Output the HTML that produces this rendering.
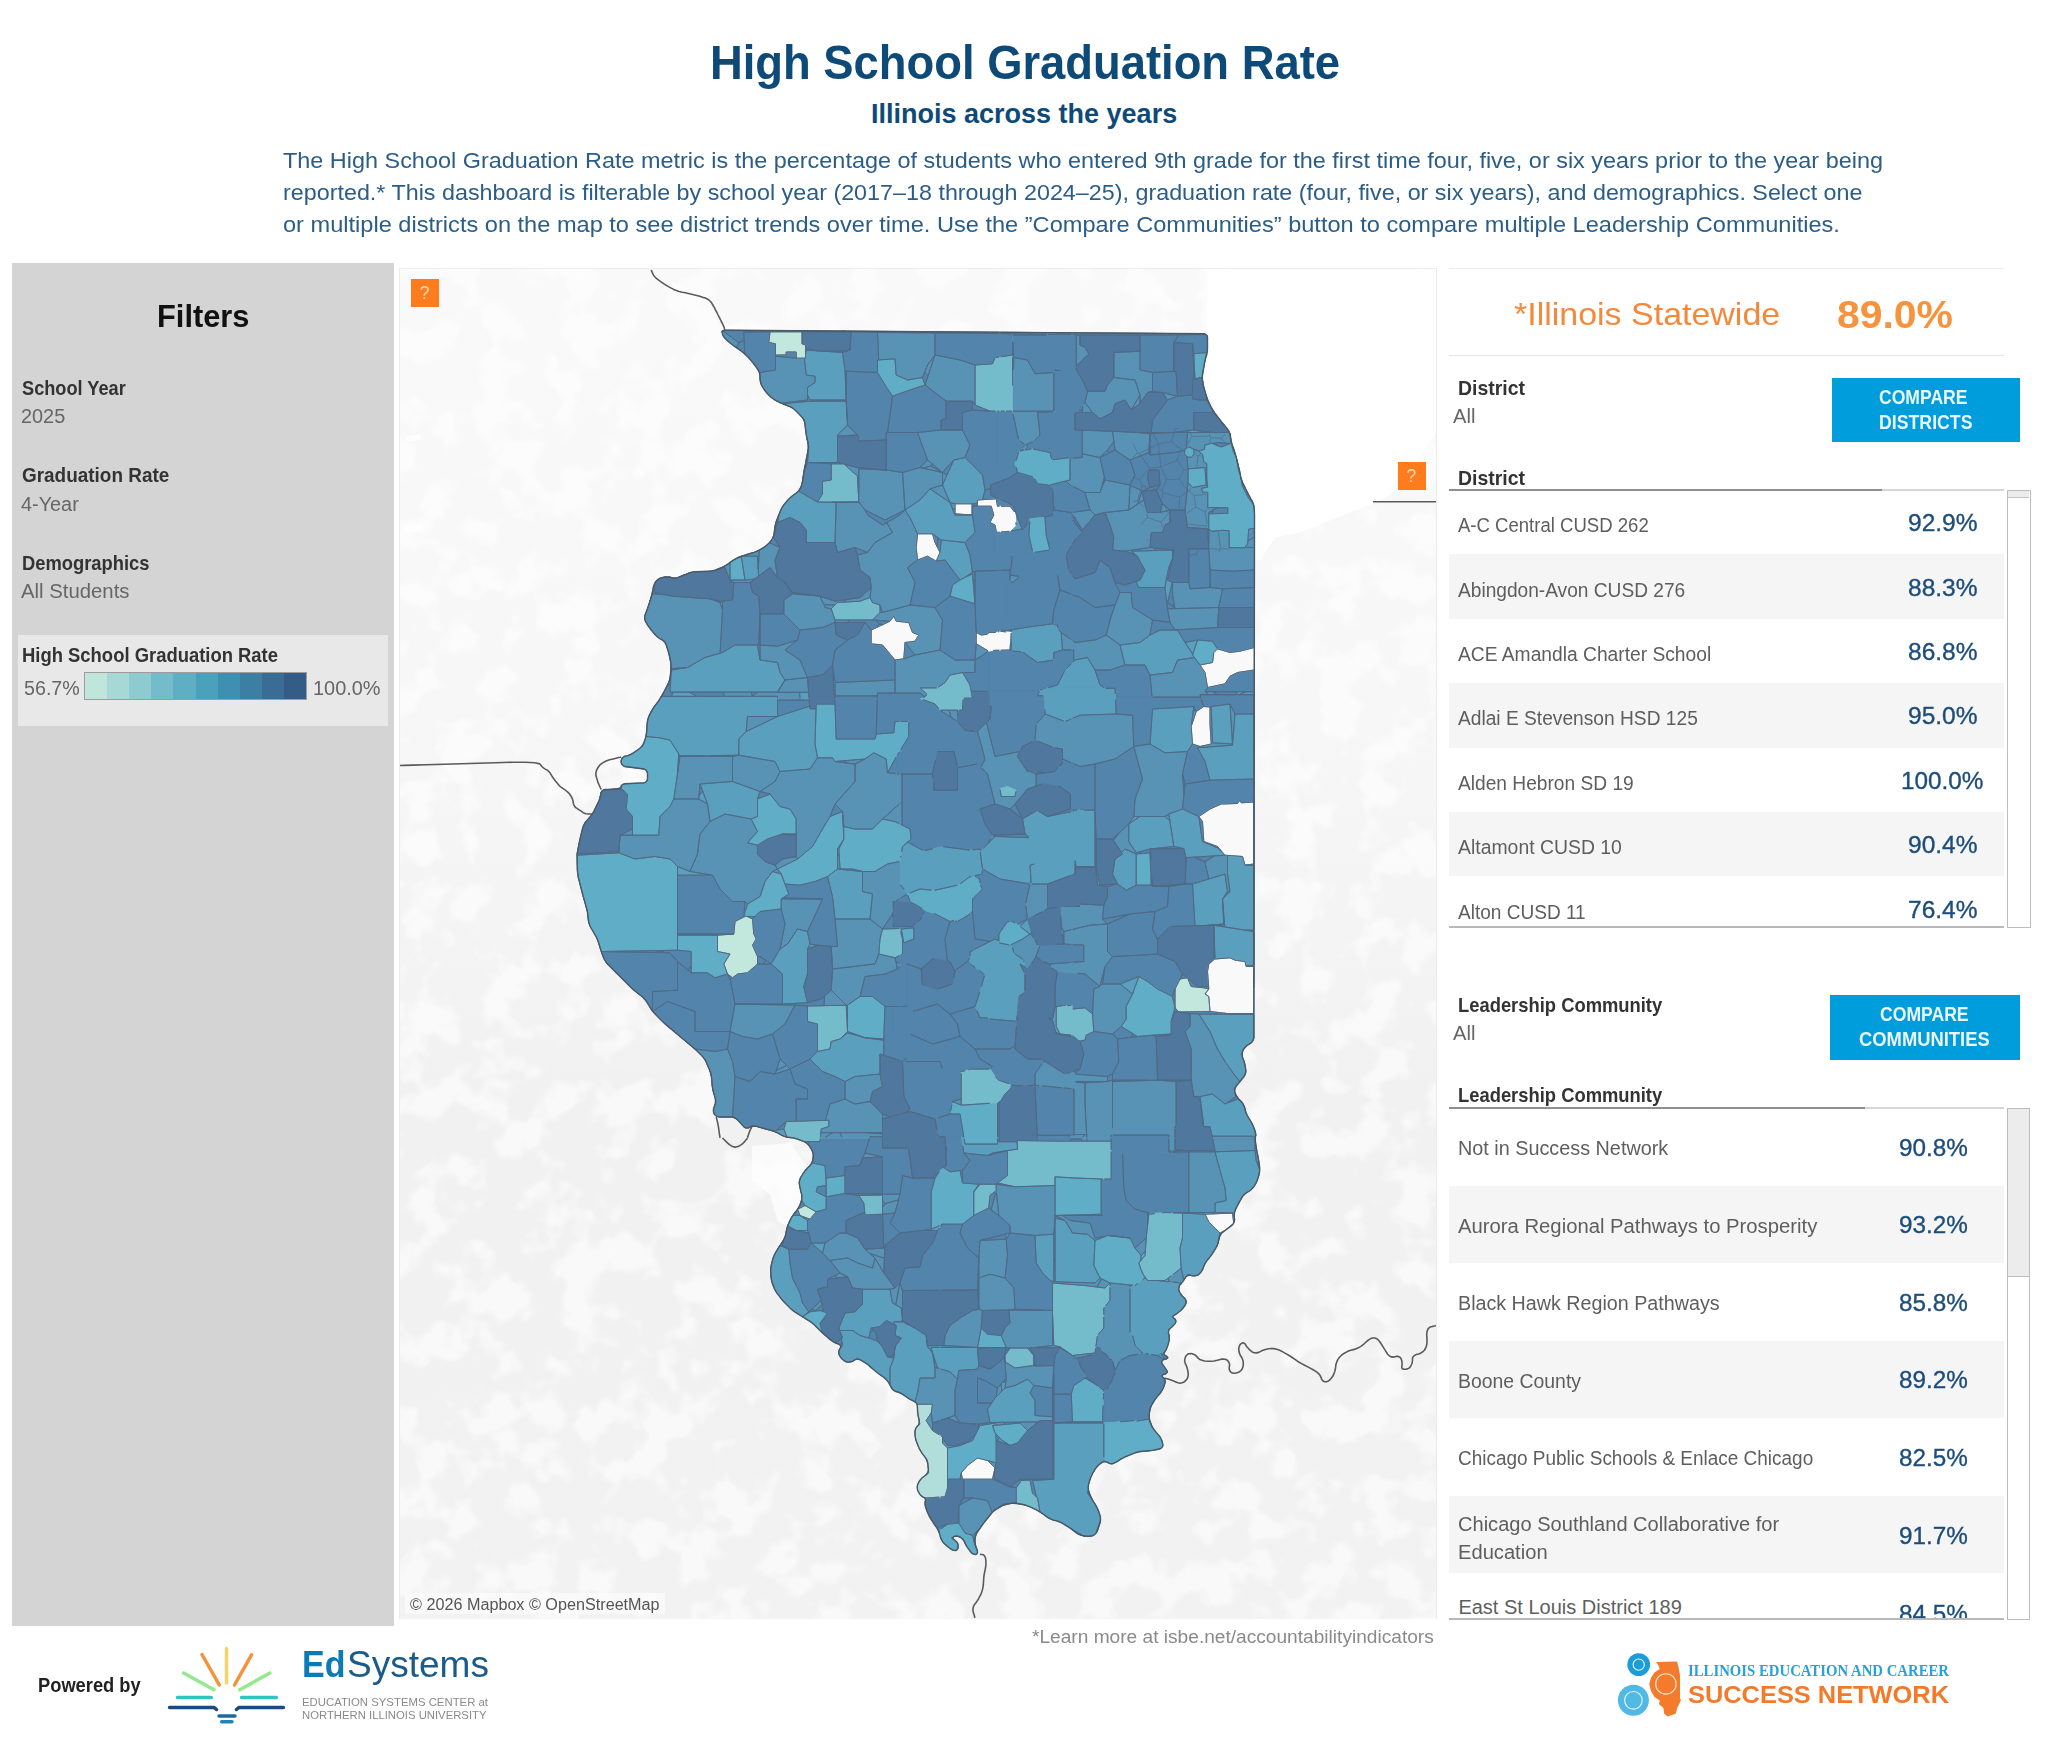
<!DOCTYPE html>
<html><head><meta charset="utf-8"><title>High School Graduation Rate</title>
<style>
html,body{margin:0;padding:0;background:#fff}
body{width:2048px;height:1755px;position:relative;overflow:hidden;font-family:"Liberation Sans",sans-serif}
.sans{font-family:"Liberation Sans",sans-serif}
.serif{font-family:"Liberation Serif",serif}
.t{position:absolute;white-space:nowrap;line-height:1;transform-origin:0 50%}
.b{position:absolute}
</style></head><body>
<!-- sidebar -->
<div class="b" style="left:12px;top:263px;width:382px;height:1362.5px;background:#d4d4d4"></div>
<div class="b" style="left:17.5px;top:635px;width:370.5px;height:90.8px;background:#e8e8e8"></div>
<div class="b" style="left:84.3px;top:671.7px;width:222.5px;height:28.5px;box-sizing:border-box;border:1.5px solid #9c9c9c;display:flex"><div style="flex:1;background:#c0e6dc"></div><div style="flex:1;background:#a6d9d6"></div><div style="flex:1;background:#8dcbd1"></div><div style="flex:1;background:#75bcca"></div><div style="flex:1;background:#5faec3"></div><div style="flex:1;background:#4ba0bc"></div><div style="flex:1;background:#3e8fb1"></div><div style="flex:1;background:#3c7ea4"></div><div style="flex:1;background:#396d95"></div><div style="flex:1;background:#335d86"></div></div>
<!-- map panel -->
<div class="b" style="left:399px;top:268px;width:1038px;height:1351px;box-sizing:border-box;border:1px solid #ececec;background:#f8f8f8"></div>
<svg width="1036" height="1350" viewBox="400 269 1036 1350" style="position:absolute;left:400px;top:269px">
<defs><filter id="mt" x="0" y="0" width="100%" height="100%" color-interpolation-filters="sRGB"><feTurbulence type="fractalNoise" baseFrequency="0.025" numOctaves="3" seed="5"/><feColorMatrix type="matrix" values="0 0 0 0 1  0 0 0 0 1  0 0 0 0 1  6 0 0 0 -2.9"/></filter><linearGradient id="bgg" x1="0" y1="0" x2="0" y2="1"><stop offset="0" stop-color="#f9f9f9"/><stop offset="0.32" stop-color="#f7f7f7"/><stop offset="0.62" stop-color="#f1f1f1"/><stop offset="1" stop-color="#f2f2f2"/></linearGradient></defs>
<rect x="400" y="269" width="1036" height="1350" fill="url(#bgg)"/>
<rect x="400" y="269" width="1036" height="1350" filter="url(#mt)" opacity="0.6"/>
<path fill="#ffffff" d="M1207.5,269.5 1207.5,333.8 1200,377.5 1225,425 1240,472.5 1252.5,510 1252.5,560 1260,560 1275,537.5 1300,532.5 1325,522.5 1350,512.5 1372.5,503.8 1390,495 1410,477.5 1420,455 1436.2,432.5 1436.2,269.5Z"/>
<g fill="#ffffff" opacity="0.7"><path d="M752,1146 790,1143 806,1165 803,1200 794,1228 778,1222 770,1195 752,1180Z"/><path d="M727,836 753,833 756,848 727,850Z"/><path d="M406,436 420,434 421,440 406,441Z"/><path d="M405,526 422,525 423,531 405,532Z"/><path d="M728,326 744,322 746,334 730,336Z"/></g>
<path fill="none" stroke="#5a5a5a" stroke-width="1.6" stroke-linejoin="round" d="M651.2,270 651.4,270.4 651.7,271.2 652.2,272.3 652.8,273.9 653.7,275.4 654.8,276.8 656.1,278.1 657.7,279.4 659.3,280.6 661,281.9 662.8,283.1 664.7,284.4 666.7,285.6 668.9,286.9 671.2,288.1 673.8,289.4 676.4,290.5 679.2,291.4 682.2,292.2 685.3,292.8 688.4,293.5 691.6,294.2 694.7,295 697.8,295.8 700.6,296.6 703.1,297.4 705.3,298.1 707.2,298.9 708.9,300 710.5,301.5 711.9,303.3 713.1,305.5 714.4,307.7 715.6,310.1 716.9,312.5 718.1,315 719.3,317.3 720.4,319.5 721.4,321.6 722.3,323.4 723.1,325.1 723.8,326.5 724.2,327.8 724.5,328.8 724.8,329.5 724.9,330 725,330.2"/>
<path fill="none" stroke="#5a5a5a" stroke-width="1.6" stroke-linejoin="round" d="M560,786.5 560.5,786.8 561.4,787.4 562.8,788.4 564.7,789.6 566.4,791 568,792.4 569.4,793.8 570.6,795.4 571.6,797.1 572.4,799 573,801 573.3,803.2 573.9,805.1 574.8,806.7 576.1,807.9 577.7,808.8 579.1,809.8 580.5,810.7 581.9,811.7 583.1,812.6 584.5,813.3 586.1,813.8 587.8,814 589.7,814 591.1,814 592,814 592.5,814"/>
<path fill="none" stroke="#5a5a5a" stroke-width="1.6" stroke-linejoin="round" d="M621.2,757 620.1,757.3 617.7,757.8 614.2,758.7 609.5,759.8 605.5,761.3 602.3,763.1 599.7,765.2 597.8,767.8 596.6,770.2 595.9,772.8 595.9,775.2 596.6,777.8 597.3,780.1 598,782.4 598.9,784.5 599.8,786.5 600.5,788 601,789 601.2,789.5"/>
<path fill="none" stroke="#5a5a5a" stroke-width="1.6" stroke-linejoin="round" d="M716.2,1117 716.4,1117.4 716.6,1118.3 716.9,1119.6 717.3,1121.4 717.8,1123.5 718.3,1126.1 718.8,1129.2 719.2,1132.6 719.6,1135.2 719.9,1136.9 720,1137.8"/>
<path fill="none" stroke="#5a5a5a" stroke-width="1.6" stroke-linejoin="round" d="M752.5,1125.2 752.3,1125.6 751.9,1126.4 751.4,1127.6 750.6,1129.2 749.9,1130.7 749.3,1132.3 748.8,1133.8 748.2,1135.4 747.9,1136.6 747.6,1137.4 747.5,1137.8"/>
<path fill="none" stroke="#5a5a5a" stroke-width="1.6" stroke-linejoin="round" d="M722.5,1138 722.9,1138.4 723.7,1139.2 724.8,1140.3 726.4,1141.9 728,1143.3 729.5,1144.6 731.1,1145.7 732.7,1146.6 734.3,1147.1 736,1147.1 737.8,1146.6 739.7,1145.7 741.4,1144.6 743,1143.3 744.4,1141.9 745.6,1140.3 746.6,1139.2 747.2,1138.4 747.5,1138"/>
<path fill="none" stroke="#5a5a5a" stroke-width="1.6" stroke-linejoin="round" d="M980,1554.2 980.3,1554.3 980.9,1554.4 981.9,1554.5 983.1,1554.7 984.1,1555.4 984.9,1556.5 985.5,1558 985.8,1560 985.9,1562 985.9,1563.9 985.8,1565.8 985.5,1567.7 985.2,1569.5 984.8,1571.2 984.5,1572.8 984.2,1574.4 983.9,1576.4 983.7,1578.8 983.5,1581.7 983.3,1585 982.8,1588.1 982.1,1591 981.1,1593.8 979.9,1596.2 978.6,1598.6 977.2,1600.9 975.8,1603 974.2,1605 973.3,1607.1 972.9,1609.4 973.1,1611.8 973.9,1614.2 974.4,1616.1 974.8,1617.4 975,1618"/>
<path fill="none" stroke="#5a5a5a" stroke-width="1.6" stroke-linejoin="round" d="M1165,1378 1165.5,1378.2 1166.4,1378.5 1167.8,1378.9 1169.7,1379.6 1171.6,1380.3 1173.7,1381 1175.8,1381.9 1178,1382.8 1180.1,1383.2 1182.1,1382.8 1184.1,1381.9 1185.9,1380.3 1187.3,1378.5 1188,1376.5 1188.3,1374.2 1188,1371.8 1187.5,1369.4 1186.9,1367.2 1186.1,1365.2 1185.2,1363.3 1184.7,1361.4 1184.7,1359.6 1185.2,1357.7 1186.1,1355.8 1187.3,1354.5 1188.7,1353.7 1190.3,1353.5 1192.2,1353.8 1193.9,1354.4 1195.5,1355.3 1196.9,1356.6 1198.1,1358.2 1199.8,1359.4 1202,1360.3 1204.7,1361 1207.8,1361.3 1210.9,1361.3 1214.1,1361 1217.2,1360.3 1220.3,1359.4 1223,1359 1225.2,1359.2 1226.9,1359.9 1228.1,1361.1 1229,1362.5 1229.5,1364.1 1229.5,1365.8 1229.2,1367.7 1229.3,1369.3 1229.8,1370.7 1230.6,1371.9 1231.9,1372.8 1233.4,1373.3 1235.1,1373.3 1237,1372.8 1239.2,1371.9 1240.9,1370.6 1242.2,1368.9 1243,1366.8 1243.3,1364.2 1243.2,1361.9 1242.7,1359.7 1241.9,1357.7 1240.6,1355.8 1239.7,1353.9 1239.1,1352.1 1238.8,1350.2 1238.8,1348.3 1239.1,1346.7 1239.7,1345.3 1240.6,1344.1 1241.9,1343.2 1243,1342.8 1244.1,1343.2 1245.2,1344.1 1246.1,1345.7 1247.3,1347.2 1248.7,1348.8 1250.3,1350.3 1252.2,1351.9 1254.2,1352.8 1256.4,1352.9 1258.8,1352.4 1261.2,1351.1 1263.8,1350.1 1266.2,1349.3 1268.8,1348.8 1271.2,1348.5 1273.9,1348.6 1276.7,1349.2 1279.7,1350.3 1282.8,1351.9 1285.9,1353.6 1289.1,1355.5 1292.2,1357.5 1295.3,1359.7 1298.4,1361.8 1301.6,1363.6 1304.7,1365.3 1307.8,1366.9 1310.6,1368.4 1313.1,1369.8 1315.3,1371.1 1317.2,1372.4 1318.8,1373.8 1320,1375.3 1320.9,1377.1 1321.6,1378.9 1322.4,1380.3 1323.5,1381.3 1324.8,1381.8 1326.4,1381.8 1328,1381.2 1329.5,1380.1 1331.1,1378.5 1332.7,1376.3 1333.9,1373.9 1334.8,1371.2 1335.5,1368.3 1335.8,1365.2 1336.6,1362.3 1337.8,1359.6 1339.5,1357.2 1341.7,1355 1344.3,1353.2 1347.3,1351.6 1350.6,1350.3 1354.4,1349.4 1357.8,1348.1 1360.9,1346.4 1363.8,1344.2 1366.2,1341.8 1368.6,1339.9 1370.8,1338.6 1372.8,1338 1374.7,1338 1376.5,1338.6 1378.2,1339.9 1379.8,1341.8 1381.4,1344.2 1383,1346.8 1384.5,1349.2 1386.1,1351.8 1387.7,1354.2 1389.5,1356 1391.5,1356.9 1393.8,1357.1 1396.2,1356.4 1398.3,1356.4 1399.8,1357.1 1400.9,1358.3 1401.6,1360.2 1402,1362 1402.1,1363.7 1402,1365.3 1401.7,1366.9 1402,1368.1 1402.7,1368.9 1404.1,1369.2 1405.9,1369.2 1407.6,1368.9 1409,1368.1 1410.2,1366.9 1411.1,1365.3 1411.8,1363.7 1412.3,1362 1412.5,1360.2 1412.5,1358.3 1413.1,1356.8 1414.4,1355.5 1416.2,1354.6 1418.8,1353.9 1420.9,1353 1422.8,1351.8 1424.4,1350.2 1425.6,1348.3 1426.5,1345.8 1427,1342.7 1427,1338.9 1426.7,1334.6 1427.1,1331.1 1428.2,1328.6 1430,1327.1 1432.5,1326.4 1434.4,1326 1435.6,1325.7 1436.2,1325.5"/>
<path fill="none" stroke="#5a5a5a" stroke-width="1.6" stroke-linejoin="round" d="M1373,501.8 1436,501.8"/>
<path fill="none" stroke="#5a5a5a" stroke-width="1.6" stroke-linejoin="round" d="M400,765.5 404.4,765.4 413.1,765.1 426.2,764.8 443.8,764.2 461.1,763.8 478.4,763.2 495.5,762.8 512.5,762.2 525.6,762.3 534.7,762.8 539.9,763.9 541.1,765.6 542.4,767 543.8,768.2 545.2,769.1 546.8,769.9 548.1,770.9 549.4,772.1 550.5,773.6 551.5,775.4 552.7,777.2 554.1,779.2 555.6,781.2 557.4,783.3 558.7,784.9 559.6,786 560,786.5"/>
<path fill="#5384ab" stroke="#5384ab" stroke-width="0.7" d="M802.5,481.5 802.1,483.5 801.3,485.9 800.6,487.6 800.4,488.1 802,485 802.9,478.8 803.2,476.6ZM800.1,488.6 799.1,490.1 797.4,492 795.9,493.3 794.4,494.4 798.8,491.2 800.1,488.6 800.4,488.1ZM596.7,937.9 597.8,940.5 598.5,942.4 599.4,945.2 597.5,939 596.9,938ZM601.3,951.5 606.6,951.6 606.5,951.4 601.3,951.5 600.9,950.1ZM596,852.9 577.3,854 577.4,852.5 577.1,855.5 577.2,855.2 597.9,854 596.7,853.3ZM839.5,1344.6 840.4,1345.4 840.7,1346.5 840.4,1348.1 840,1348.6 842.5,1345.5 842.2,1343.5ZM854.6,1359.9 856.4,1359.4 858.6,1359.3 860.5,1359.9 862.5,1361.1 857.5,1358 853.8,1360.5ZM866.2,1363.5 868.6,1365.3 870.1,1366.6 867.5,1364.2 864.5,1362.4ZM883.7,1377.3 885.8,1379.2 886.1,1379.6 886.1,1379.4 885,1378 882.1,1376.1ZM999.6,1506.7 998.2,1508.1 1001.9,1505.9 1003.8,1505.2 1006.5,1504.3 1008.5,1503.8 1011.5,1503.4 1013.5,1503.3 1016.5,1503.5 1018.2,1503.7 1016.2,1503 1004.8,1504 1003.3,1504.8ZM663.9,950.5 655.6,950.6 663,952.2ZM1132.1,1034.6 1132.2,1033.2 1121.2,1026.5 1112.5,1034 1117.5,1039 1131.8,1037.2ZM1087.9,1081.9 1088.1,1081.5 1075.2,1081.5 1075.2,1082.1 1085,1082.8 1087.5,1082.6ZM1075.2,1070.6 1075.2,1073.8 1080,1069ZM1043.1,1086 1062.9,1087.9 1062.9,1087.9 1043.1,1086ZM974.5,875.6 973.4,875.8 971.9,877 972.4,877.1ZM1152.1,1426.5 1151.3,1424.7 1150,1421.3 1149.5,1419.3 1149.2,1416.5 1149.2,1414.5 1148.8,1418 1148.5,1418 1152.2,1427.3 1152.6,1427.3ZM1149.6,1411.5 1150,1409.5 1150.9,1406.8 1151.7,1405 1152.5,1403.6 1151.7,1405 1150,1408 1149.4,1413ZM1153.3,1402.3 1154.3,1400.6 1156.1,1398.2 1157.3,1396.6 1158.8,1394.9 1155,1399.2 1152.5,1403.6ZM1252.9,502.8 1252.2,501.1 1251.6,500.1 1250.6,498.5 1249.4,496.1 1248.4,494.4 1247.8,493.2 1246.7,494.5 1248.7,498.5 1253.2,503.9 1253.7,505.3ZM703.9,934.8 704.1,935.2 717.5,935.2 733.8,934 703.4,934ZM744.9,912.8 744.4,909.2 743.8,916.5ZM735,921.5 745.2,916.5 743.8,916.5ZM1242,1197.3 1243.2,1195.7 1245.2,1193.7 1246.8,1192.5 1248.1,1191.8 1243.8,1194.2 1241.8,1197.6ZM1259.6,1169 1259.6,1167 1259.2,1164 1259,1162.9 1256.7,1161.8 1259.6,1169.4ZM835,804 830,816.5 842.5,811.5ZM843.2,826.8 843.8,826.6 843.8,826.5 842.5,811.5ZM805.6,352.7 805.5,352.7 805.5,354.3 805.8,352.8ZM776.5,356.3 796.2,358.2 796.2,352 786.2,352 786.2,355 776.6,355ZM975.2,506.2 977.5,506.2 977.5,502.5 975,503.8 972.8,503.8ZM1007.5,506.2 1010,506.2 1013.8,511 1014.9,510.6 1013.1,505.7 1007.5,502.5 990.6,495 990.6,488.6 985,490 982.6,499.7 996.2,498.8 997.5,506.2 1000.5,506.2ZM723.1,755.9 724.2,756.4 732.5,756.5 738.8,755.2 722.2,755.5ZM893.4,923.1 892.5,914 882.5,929 900,928.5 900.2,929.5 900.2,926.5 893.8,926.5 893.4,926.5ZM688.1,970.2 691.2,972.8 691.2,966 689.3,968.6ZM730,979 732.5,977.8 727.5,974ZM1254,859.6 1253.8,859.6 1253.8,864 1245,865.2 1253.8,865.2 1253.8,899 1254,898.9ZM1254.1,789.6 1254.2,743.3 1253.9,743.4 1253.8,743.6 1253.8,779 1253.8,789.4ZM1128.7,914.4 1128.6,914.3 1102.5,919 1107.5,924 1128.8,914.5ZM812,1308.8 808.8,1311.8 802.5,1316.8 810,1311.8 815.8,1311 815.6,1310.5ZM811.2,1322.3 813.5,1324.1 815,1325.5 812.5,1323 809.5,1321.1ZM774.1,1004.8 795,1005.2 807.5,1006 824,1005.7 824.5,996.2 821.2,999 807.5,1002.8 782.5,1004 774.1,1004 774.1,1004.4ZM645.4,1000.1 645.6,1000.4 646.8,1002 645.8,1000.3ZM1104.7,968.6 1105,966.5 1104.5,968.5ZM977.5,1290 977.8,1294.6 978.8,1293.4 978.8,1278 978.8,1258ZM945.9,1158.3 946.2,1165.5 946.2,1158.7 946.1,1158.5ZM935,1178 939.1,1171.9 935,1175.5 932.5,1178ZM1053.7,1434.8 1053.8,1434.9 1053.8,1423 1053.8,1406.7 1052.5,1406.8 1052.5,1416.8 1052.5,1420.5 1052.6,1434.2ZM1083.3,1421.8 1072.5,1421.8 1053.8,1423 1083.3,1423ZM963.8,1498 958.8,1505.5 972.5,1498ZM1121.3,1458.9 1123.6,1457.7 1122.5,1458 1119.6,1459.9ZM1050.1,487.6 1052.5,490 1050,486.7ZM1047.1,484.8 1049.5,486 1048.8,485ZM1032.9,476.9 1033.6,478.2 1034.5,478.6 1033.7,477.1ZM949.6,716.5 953.6,719 950.8,716.1ZM1172.5,605.6 1167.6,602.7 1166.8,602.6 1167.5,608.8 1174.1,608.6ZM991.3,1209.2 995.4,1193.6 994.4,1191.9 990,1195.5 988.8,1208 990.6,1209.4ZM962.5,1172.8 960.4,1172.3 962.5,1183ZM973.8,1191.8 980,1184.2 978.8,1184.2ZM937.3,544.6 938.1,537.8 932.5,533.8 935,542.5 937,546.5ZM728.5,330.3 726.5,330.3 725.1,330.4 723.7,330.5 723.3,330.5 722.6,330.8 722.6,330.8 738.8,342.6 744.1,340.3 743.8,331.8 752.7,331.8 753,330.5ZM1233.8,449.2 1232.5,445.8 1231.9,443.9 1231.2,441 1230.8,439 1230.4,436 1230,434 1229.6,432.9 1231.2,443.1 1231.3,443.1 1232.8,449.1 1233.8,449.3ZM1229.2,431.9 1228.5,430.5 1228.2,430.5 1229.3,432.2 1229.4,432.5 1229.4,432.6ZM1218.3,446 1222,446.8 1229.9,443.6 1217.5,442.5 1215.9,442.8 1217.1,445.4ZM1180.9,848.2 1180.8,847.9 1173.8,846.5 1150,849 1181,848.5ZM1139.8,853.7 1150,852.8 1150.3,859.7 1151.2,859 1150,849 1140.3,851.6 1139.8,853.6ZM1151.7,876.8 1151.2,871.5 1150.7,871.5 1150.9,876.3ZM887.9,1381.6 889,1383.2 890.2,1385.3 891,1386.9 891.1,1386.9 891.1,1386.9 890,1384.2 887.5,1381.1ZM760,639 760,613.8 759,638.2ZM834.5,700.6 834.7,704 835,704 835,700.4ZM1229.4,1102.2 1228.7,1101.5 1225,1104ZM1200,1096.5 1195.7,1096.5 1195.4,1097.2 1200,1099 1203.1,1126.6 1203.8,1126.6ZM663,952.2 655.6,950.6 640.5,950.9 639.1,952.2 663.4,952.6ZM642.3,996.8 643.7,998.2 645.4,1000.1 645.8,1000.3 645,999 638.8,994ZM1017.2,1145.9 1017.5,1149.2 1017.5,1146ZM995.4,1193.6 996.6,1193.5 996.2,1190.5 994.4,1191.9ZM1015,1186.8 997.5,1183 996.2,1184.2ZM1148.3,1080.4 1148.3,1080.2 1112.5,1080.2 1112.5,1081.5 1148.3,1080.5ZM1087.5,1082.6 1107.5,1081.5 1088.1,1081.5ZM1112.5,1074 1107.5,1076.5 1107.5,1081.5 1112.5,1080.2ZM910.1,901.9 910,902.8 910.5,902.9 912.8,903.1 910.1,901.6ZM1226.2,1229.6 1227.8,1228.4 1232.2,1225.1 1233.4,1223.6 1233.6,1223.2 1225.8,1229.8 1225.9,1229.8ZM1234.3,1221.4 1234.6,1219.5 1234.2,1216.5 1234.2,1214.5 1234.7,1211.7 1235.3,1209.9 1233.8,1213 1215,1212.5 1213.1,1212.5 1213.3,1213.9 1232.5,1213 1233.7,1222.8 1233.6,1223.1ZM1238.1,1204.4 1239.5,1201.7 1240.5,1200 1238.8,1203 1237.2,1206.1ZM1236.7,693.8 1236.5,691.6 1212.9,691.6 1217.7,694.7 1234.8,694.7ZM738.8,342.6 736.3,347.5 737.1,348.1 738.7,349.2 741.1,351 742.7,352.2 744.7,353.9 744.1,340.3ZM758.9,371.4 759.5,373.6 760,373.2 760,372.5 758,369.7ZM776.6,355 775.5,355 775.5,356.2 776.5,356.3ZM786.3,1247.8 782.5,1245.5 782.9,1242.5 782.2,1242.1 781.9,1242.6 780.8,1244.3 779.2,1246.8 780,1245.5 786.1,1248.1ZM782,403.4 782.7,403.7 782.7,403.7 810,401.2 816.5,401.2 816.3,400.3 816.3,400 810,400 807.5,395 807.5,400 782.3,403.1ZM791,407.2 793.4,408.7 795,410 796.2,411.2 792.5,407.5 789.3,406.3ZM802.6,417.9 803.5,419.4 804.4,421.6 804.9,423.5 804.5,420 802.6,417.9 802.2,417.5ZM1167.6,602.7 1172.5,605.6 1174.2,604.5 1172.5,595 1172.5,582.5 1172.3,582.4ZM1224.6,924.8 1222.5,899 1223.8,924 1207.2,925.4 1213.8,925.2 1216.6,925.7 1219,925.4ZM1227.4,891.7 1222.5,899 1229.2,892.3ZM848.1,621.8 847.9,622.5 865,622.5 871.2,630 877,627.3 879.2,624 875.7,620.2 872.5,620 848.7,620ZM1020.2,1479.5 1020.3,1481.9 1021.2,1480.5 1030,1480 1032.5,1493 1036.4,1496.9 1032.5,1480.5 1053.8,1479.2 1053.8,1470.8 1052.9,1470.6 1053,1479.2 1020.2,1479.2ZM1041.1,1512.7 1042.8,1513.8 1047.2,1517.2 1048.9,1518.2 1051.5,1519.4 1049.8,1518.6 1040,1511.8 1038.8,1511.3 1038.6,1511.2ZM702.8,791.4 700,784 699,795.6 701.5,792.9ZM678.7,754 677.5,774 680,756ZM705.1,756.2 704,755.7 680,756ZM606.6,951.6 639.1,952.2 640.5,950.9 606.5,951.4ZM1204.9,861.8 1194.5,857.2 1185.9,857.7 1186.2,859 1185,884 1192.5,884 1208.7,879ZM1163.2,886.3 1168.8,886.5 1185,884 1163,885.4 1163.1,886ZM833.3,673.5 833.8,674.2 833.4,671.5ZM671,668.5 670.3,676.5 669.9,678.5 669.2,681.3 668.4,683.1 667.7,684.5 670.4,685.2 671.2,670 672.2,669.9 672.2,669.3 672.2,668.7 671.2,668.8 671,667ZM924.7,372 922.5,377.5 925,385 928,376.1ZM1254.1,795.5 1254.1,789.6 1253.8,789.4 1253.8,796.7ZM1155.1,548.8 1158,548.3 1154.2,547.9ZM1227.7,513.3 1227.7,507.7 1217.2,507.7 1213,510.1 1212.5,513.7ZM1142.6,492.3 1142.5,491.2 1140.2,490.1 1141.6,491.9ZM1156.2,490 1160,485 1150,487.5 1142.5,491.2ZM1216.6,1012.7 1216.7,1012.3 1210,1011.5 1178.8,1012 1190,1013.5 1198.8,1014 1216.1,1014.2ZM1173.4,1000.5 1175,1007.8 1175,999.4ZM1171.2,1021.5 1175,1011.5 1178.8,1012 1175,1007.8ZM990.5,1422.5 990,1422.5 978.8,1424.2 978,1429.5 980,1425.5 993.1,1423.3 990.8,1422.6ZM958.9,1422.6 960,1423 959.1,1421.7ZM954.2,1446.2 954.3,1446.6 960,1445.5 972.5,1440.5 975.3,1434.9 967.5,1441.8 955,1445.5 954,1445.5ZM999.4,1437.4 995.8,1433.8 996.2,1440.5 997.1,1440.8ZM995.2,1425.3 998.3,1425 995.1,1423.9ZM1015,804 1010,809 1022.5,819ZM967.9,576.1 972.5,573.8 973,580 974.2,580.3 975,580.4 975,571.2 972.5,572.5 967.6,575.4ZM1247.8,493.2 1247.8,493.1 1246.9,491.3 1245.6,488.7 1244.7,486.9 1242.8,483.1 1242.1,481.3 1241.2,478.7 1241,477.8 1241.1,478.2 1242.1,485.1 1245.6,492.3 1246.7,494.5ZM1240.7,476.9 1240.5,475.6 1240.2,473.8 1240.1,473.6 1239.7,473.8 1240.9,477.6ZM703.6,1057.9 703.8,1058.1 705.4,1060.5 706.3,1062.2 708.1,1066.5 705,1059 703.8,1057.8ZM710.5,1072.7 711.2,1075.5 711.5,1077.5 711.9,1081.5 711.2,1074 709.9,1070.8ZM786.1,1248.1 788.8,1249.2 786.3,1247.8ZM1053.8,1406.7 1053.8,1394.2 1053.8,1374.9 1053.5,1375 1053.2,1375.2 1052.5,1388 1052.5,1406.8ZM732.3,1117.2 733.4,1117.4 735.8,1118.5 737.3,1119.6 735,1117 732.5,1117 732.4,1117ZM749.9,1127 751.6,1126.4 753.9,1126.1 755.9,1126.2 766.3,1129.1 763.8,1128.4 752.5,1125.2 749.4,1127.4ZM1053.9,1232.7 1053.8,1234.2 1053.8,1257.8 1055,1262.6 1055,1232.1 1054.3,1232.5ZM1166.6,1358.8 1167.6,1358.1 1167.7,1357.4 1166.9,1356.4 1165.6,1355.8 1164.4,1354.7 1164,1353.8 1164.1,1352.7 1162.5,1354.2 1161.6,1354 1164.3,1358.8 1166.1,1359ZM1168.5,1331.8 1168.8,1330.4 1169.6,1328.9 1169.6,1328.9 1167.8,1330.3 1168.1,1332.4 1168.5,1333.7ZM1009,1348.7 1005.4,1351.1 1003.8,1358 1005,1361.8 1005,1355.5 1010,1348.1ZM1005.8,1382 1006.2,1378 1002.7,1382.1ZM1034.4,1347.5 1030,1348 1035.3,1347.9ZM1027.5,1348 1033.8,1355.5 1033.8,1365.5 1035,1366 1034.2,1355.5 1030,1348ZM1253.9,923.8 1253.8,923.7 1253.8,930.2 1245.8,930.2 1253.8,931.5 1253.8,956.7 1253.9,956.8ZM807.7,1218.5 807.7,1218.4 800,1215.5 805.9,1219.4ZM801.3,1201.3 800,1204.7 799.1,1206.5 797.7,1209.1 797.5,1209.2 805,1205.5 801.5,1200.2ZM796.5,1210.7 794.7,1212.8 793.6,1214.4 792.8,1215.5 800,1215.5 797.5,1209.3ZM967.6,575.4 960,580 967.9,576.1ZM1202.8,431.2 1193.8,430 1192.4,430.2 1202.9,431.5ZM1176.3,396.7 1177.5,396.2 1176.6,396 1176.3,396.6ZM798.1,700.2 803.9,700.2 800,698.4ZM1054.4,1270.4 1055,1269.5 1055,1262.6 1053.8,1257.8 1053.8,1271.2ZM1172.5,605.6 1174.1,608.6 1175,608.6 1174.2,604.5ZM815.6,1310.5 815.8,1311 820,1310.5 823.7,1311.7 822.2,1304.9ZM823.7,1334 825.1,1335.3 829.9,1339.4 831.5,1340.6 833.6,1341.9 823.3,1333.7ZM835.8,1343 839.2,1344.3 839.5,1344.6 842.2,1343.5 841.4,1338.8 835.3,1342.8ZM840.2,1332 840,1330.5 838.8,1328ZM825,1318 824.7,1316.7 820,1323ZM779.2,1129.7 783.8,1129.1 783.8,1129 786.2,1121.5 776.7,1130ZM1253.8,987.3 1253.9,956.8 1253.8,956.7 1253.8,965.2 1246.2,966 1246.1,965.9 1246.2,966.5 1253.8,966.5 1253.8,987.4ZM885.3,1203.7 882.5,1200.3 882.5,1207.3ZM877.6,1194.2 845,1193.5 845,1193.5 858.8,1195.5 878.3,1195.1ZM880.5,1039.8 883.8,1040.2 883.8,1039 879.8,1038.7ZM942.4,472.4 932.2,463.9 930.7,466.1ZM947,474.9 953.8,460 942.5,472.5ZM744.9,912.8 746.1,908.7 744.4,909.1 744.4,909.2ZM787.6,898.3 784.6,899 788.1,899ZM752.5,919 755,916.5 747.3,916.5ZM882.5,1133.9 882.5,1132.6 865.1,1132.6ZM882.5,1119 890.8,1116.8 882.5,1114ZM901.1,964.2 901.1,964.2 900.2,964 900.2,955.1 895,957.8 895.8,961.5 900.3,964.4ZM905,642.5 903.8,658.8 915,655ZM1239.7,1100 1238.7,1099 1237.5,1097.4 1236,1095.1 1235.2,1093.3 1235,1092.8 1236.2,1096.5 1228.7,1101.5 1229.4,1102.2 1237.5,1099 1239.5,1100.6ZM1234.7,1090.3 1235.2,1088.1 1236,1086.3 1236.9,1085.2 1233.8,1089 1234.8,1092.2ZM1109.7,452.7 1115,450 1113.9,441.5 1107.5,450 1106.6,450.9ZM1131.8,1037.2 1137.5,1036.5 1132.2,1033.2ZM1167.6,1034.3 1167.6,1034.2 1152.5,1035.2 1156.2,1036.5 1166.8,1035.6ZM1213,958.4 1211.6,961.8 1214.8,959.2ZM1188.5,980.1 1191.2,986.5 1203.8,987.8 1208.8,989 1208.6,986.5 1197.5,986.5 1188.3,978.9ZM1191.5,724.2 1191.2,726.5 1191.9,724.6ZM1175,999.4 1175,989 1172.5,996.5 1173.4,1000.5ZM1188.3,978.9 1187.8,978.4 1188.5,980.1ZM1182.5,974 1180,979 1187.1,977.8ZM808.1,1144.5 809.4,1146 810.6,1148 809.4,1146 808.2,1144.1 807.8,1144.1 807.7,1144.2ZM811.9,1150 812.6,1151.9 813.2,1154.5 813.3,1156.5 813.1,1158 813.8,1153 810.6,1148ZM812.4,1161.4 811.2,1163.9 810,1165.5 812.5,1163 812.9,1159.5ZM972.5,410 990,411.2 975,405 972.5,401.2ZM1164,1359.4 1164.1,1359.5 1166.1,1359 1164.3,1358.8ZM926.3,1335.9 927.5,1346.8 932.5,1353 931.2,1347.5 960.1,1347.5 960.5,1346.5 943.8,1345.5 927.5,1345.5 926.3,1335.9ZM935,1368 937.5,1368 932.5,1353 935,1368ZM1214.4,855.9 1194.5,857.2 1204.9,861.8ZM1221.6,851.3 1217.5,846.5 1203.8,841.5 1202.5,821.5 1198.8,816.5 1202.5,841.5 1217.5,847.8 1221.3,851.5ZM1181,848.5 1183.8,848.5 1180.8,847.9ZM1010,1348.1 1010,1348 1006.2,1347.5 1005.4,1351.1ZM987.7,1347.8 1006.2,1347.5 987.4,1347.5ZM663.4,640.9 665.1,642.9 666.1,644.6 665,641.2 661.9,639.7ZM667.6,649.2 668.2,651.1 669,653.9 668.8,652.5 666.9,646.9ZM959.9,1537 961.3,1538 962.9,1539.5 964.1,1541.1 962.5,1538 959.4,1536.8 959,1536.6ZM975.9,1546.8 975.2,1544 975,1542 975,1539 975.3,1537 976.1,1534.4 977,1532.6 981.7,1525.9 980.8,1527.2 972.5,1535.5 975,1545.5 976.6,1548.6ZM846.2,399.3 846.2,371.3 845.1,371.3 846.2,399.3ZM822.6,602.1 824.6,606.6 825.2,604.7ZM816.2,595.7 810.2,594.9 809.5,595.3 816.4,595.9ZM816.5,401.2 846.2,401.2 847.2,419.2 847.2,419.2 846.2,400 816.3,400ZM759.7,374 760,376 760,373.2 759.5,373.6ZM757.5,799 770,794 760,791.5ZM1254.1,824 1253.8,823.8 1253.8,859.6 1254,859.6ZM867.5,552.5 855,547.5 857.5,555ZM1069.6,1141.1 1082.3,1141.1 1081.2,1139 1071.8,1139ZM778.4,516.1 778.2,516.4 777.5,518.3 776.2,521.7 775.7,523.6 775,526.5 774.7,528.5 774.1,534 773.6,535.9 772.5,538.5 771.5,540.2 769.7,542.3 769.3,542.7 780,547.5 773.8,537.5 777.5,522.5 778.6,516.1ZM1072.3,512.4 1071.2,512.5 1071.9,513.5ZM1043.8,517.6 1045,517.5 1046.7,516.7 1043.8,517.5ZM697,696.4 724.5,696.4 723.2,692.1 689.1,692.1ZM765.8,960.4 760,956.5 757.5,956.5 757.5,964 763.7,964ZM930.6,1518.5 933.1,1522.5 934.2,1524.2 935.6,1526.2 936.6,1527.6 937.2,1528.4 938,1529.9 939,1532 939.6,1533.9 938.8,1530.5 947.5,1524.2 937.5,1528 929.7,1516.9ZM953,1538.6 952.9,1537.8 953.4,1537 951.2,1538 953.9,1539.6ZM955.8,1536.2 957.1,1536.2 958.9,1536.5 956.2,1535.5 954.1,1536.5ZM600.6,853.8 600.9,852.6 596,852.9 597.9,854 600.6,853.8ZM593.3,812.1 593.1,812.6 591.4,815.1 590.2,816.6 592.5,814 593.4,812.2ZM1216.1,1014.2 1252.2,1014.5 1251.6,1013.5 1227.5,1013.5 1216.7,1012.3ZM1244.6,1048 1246.5,1046 1248,1044.8 1249.4,1044 1245,1046.5 1243.4,1049.6ZM1253.8,1038 1253.8,1017.1 1253.8,1017 1253.8,1038ZM937,546.5 939.9,552.3 940,552.3 941.2,540 938.1,537.8ZM972.8,503.8 972,503.8 972,515 972.5,515 972.5,506.2 975.2,506.2ZM952.8,509.6 955,515 972,515 955,513.8 955,508.7ZM1092.2,1499.3 1092.1,1499.2 1090.8,1496.6 1090,1494.7 1088.7,1491.3 1088.4,1489.5 1087.5,1493 1091.9,1499.3ZM1093.1,1472.5 1095.6,1468.5 1093.5,1471.9 1092.5,1473 1092.2,1474.2ZM1004.8,1504 1002.5,1504.2 999.6,1506.7ZM1020.2,1479.2 1020,1479.2 1010,1486.8 1016.5,1487.6 1020.3,1481.9ZM994,1472.7 992.5,1479.2 1010,1486.8 993.8,1478 994.7,1472.2ZM1036.6,774 1045,772.8 1036.2,771.5 1036,771.5ZM1156.4,433.4 1160.5,433.2 1160.9,432.9 1161.3,432.5 1155.4,432.5ZM1187.3,1275.8 1188.8,1275.3 1190.6,1275.3 1187.5,1274.2 1185.9,1276.9ZM1204.6,1264.5 1206.1,1261.9 1207.2,1260.3 1208.1,1259.2 1205,1263 1203.8,1266.3ZM910.1,901.6 910,901.5 907.5,894 895,901.5 910,902.8 910,902.8ZM1228.5,430.5 1228.4,430.4 1227.8,429.6 1226.8,428.2 1226.6,428 1228.2,430.5ZM973,580 975,603.8 975,580.4ZM879.2,624 882.9,624.6 888.5,622 889.3,621.2 875.7,620.2ZM880,605 880,612.5 882.5,612.5ZM870.3,1331.9 868.8,1338 877.5,1341 882.5,1346.8 877.5,1340.5 876.2,1333 873.6,1330.4 872,1331.1ZM893.8,1355.5 887.5,1356.8 893.8,1358 895,1346.8ZM1010.5,643.1 1010,650 1011.2,650 1011.2,642.9ZM987.4,1347.5 977.5,1347.5 977.5,1348 987.7,1347.8ZM960.1,1347.5 977.5,1347.5 960.5,1346.5ZM1213,510.1 1208.8,512.5 1208.8,513.8 1212.5,513.7ZM1055.8,1032.3 1056.2,1034 1061.4,1034.8ZM1055,1232.1 1055,1218 1053.9,1232.7ZM1065,1220.5 1055,1215.5 1055,1218ZM1160.5,433.2 1172.5,432.5 1161.3,432.5ZM1189.1,430.6 1189.1,430.5 1172.5,432.5 1186.1,432.5ZM844.1,760.7 835,761.5 847.5,763.1ZM1208.8,543.3 1208.8,529.9 1207.6,529.7 1208.4,543.2ZM1155,550.5 1172.5,550 1172.5,558.8 1173.8,550 1158,548.3 1155.1,548.8ZM1170.2,568.7 1172.5,558.8 1168.8,567.5 1168.7,568ZM757.6,692.1 751.4,692.1 752.2,696.4ZM758.8,644.8 758.8,645 758.6,645 757.7,645.9 760,660 760,645 760,643.6ZM839.2,855.7 838.8,849 843.8,839 837.5,849 837.5,855.4ZM843.2,826.8 843.8,839 843.8,826.6ZM1072.8,1530.1 1077.2,1533.4 1078.9,1534.4 1081.6,1535.4 1083.5,1535.9 1086.5,1536.3 1083.6,1535.9 1071.4,1529.1ZM1096.4,1532.6 1097.1,1531.4 1096.6,1530.9 1095.8,1533.4ZM975,659.4 975,660 977.1,658.7ZM1071.8,1139 1068.2,1135.3 1037.2,1135.3 1037.5,1140.8 1055,1141.1 1069.6,1141.1ZM1218.3,1242.1 1219.2,1237.7 1220,1235.8 1221,1234 1222.1,1232.7 1222.9,1232.1 1224.3,1231 1225,1230.5 1220,1233 1218,1242.8 1217.7,1244ZM825.4,1172.6 826.2,1185.5 826.2,1178 825.7,1172.6ZM817.5,1186.8 816.2,1191.8 826.2,1196.8 826.2,1185.5ZM703.4,934 677.5,934 677.5,935.2 704.1,935.2ZM663,952.2 663.4,952.6 670,952.8 677.5,961.5 688.1,970.2 691.2,966 691.2,951.5 677.5,950.2 663.9,950.5ZM1202.8,745.9 1200,746.5 1197.5,747.8 1204.1,747.3ZM1184,794.4 1185,784 1182.5,774ZM1178.5,1150.7 1168.8,1151.1 1168.8,1152.1 1176.4,1152ZM1004.5,1234.4 980,1240.5 1006.2,1239.2 1006.7,1238.6ZM991.3,1209.2 990.6,1209.4 992,1210.4ZM667.7,684.5 666.6,686.9 665.7,688.6 664.3,691.3 663.3,693.1 661.7,695.9 660.7,697.7 661.4,696.4 671.6,696.4 672.8,692.1 670,692.1 670.4,685.2ZM653.5,707.9 651.9,710.4 650.9,712.1 649.1,715.9 648.4,717.7 648.7,716.8 654.4,706.4ZM1083.3,1423 1103.8,1423 1102.5,1421.8 1083.3,1421.8ZM746.3,355.4 748.4,357.5 749.7,358.9 751.5,361.1 752.8,362.6 753.4,363.5 753.8,363.8 756.9,368.1 758,369.7 758,369.7 760,372.5 775.5,370 775.5,355 775.5,343.8 768.8,342.5 770,331.8 743.8,331.8 744.9,354.1ZM842.5,352.5 845,370 845.1,371.3 846.2,371.3 846.2,371.2 877.5,372.5 877.5,360 878.7,359.9 877.5,332.5 851.2,331.8 850,350ZM960,360 975,365 992.5,363.8 993.8,360.6 993.8,360 994,360 995,357.5 1012.5,355 1012.5,335 1012.5,333.8 935,333 935,355ZM1053.8,370.5 1053.8,370 1061.5,370.7 1075,367.5 1076.3,366.2 1076.3,334.5 1047.5,334.2 1047.5,335 1052.5,342.5 1053.7,370.4ZM847.5,425 857.5,435 858.8,441.2 886.2,440 886.2,432.5 887.5,432.5 892.5,396.2 885,385 877.5,372.5 846.2,371.2 846.2,400ZM917.5,432.5 941.2,430 941.2,420 946.2,418.8 946.2,401.2 925,385 910,390 892.5,396.2 887.5,432.5ZM1082.2,410 1082.6,410 1082.6,404.9 1077.5,410ZM1053.8,370 1053.8,372.5 1061.5,370.7ZM902.5,472.5 920,467.5 927.5,460 917.5,432.5 886.2,432.5 886.2,440 886.2,470ZM970,445 965,457.5 982.5,475 985,490 990.6,488.6 990.6,485 1010,477.5 1017.4,472.2 1016.6,469 1015.8,465.8 1015.8,465.8 1015,465 996.6,467.5 996.6,411.2 990,411.2 972.5,410 962.5,412.5 962.5,430ZM1022.5,450 1021.9,448.1 1018.8,451.2 1022.1,450.6ZM1017.5,435 1012.5,411.2 1012.5,435 1019.3,440.5ZM1033.3,441.7 1037.5,440 1072.5,440 1075,452.5 1070,457.5 1070,458.4 1082.2,457.5 1082.2,430.2 1075,430 1075,412.5 1056.7,411.4 1037.5,412.5 1040,435ZM1025,450 1025.1,450.1 1032.5,448.8 1028.3,446.7ZM1082.2,410 1077.2,410.3 1075,412.5 1082.2,412.5ZM803.6,474 803.3,476 802.9,478.8 802,485 800.4,488.1 800.1,488.6 798.8,491.2 817.5,502 822.5,493.8 822.5,481.2 831.2,480 831.2,463.8 807.5,462.5 803.9,472.1ZM882.5,525 900,515 905,510 885,520 865,510 867.5,515ZM915,582.5 910,605 935,607.5 950,596.2 952.5,585 960,580 945,560 936.2,561.2 927.5,556.2 917.5,560 907.5,567.5ZM975,532.5 965,542.5 970,555 972.5,572.5 975,571.2 1010,570 1010,570.1 1010.6,570.1 1011.9,560.1 1011.5,554.6 993.7,552.5 993.7,532 1000.5,531.7 1000.5,531.2 996.2,531.2 995,525 990,522.5 993.8,515 991.2,506.2 977.5,506.2 972.5,506.2 972.5,515ZM1019.9,576.6 1025,572.5 1057.5,575 1068.8,570 1066.2,555 1052,550.6 1048.8,550.2 1033.8,552.5 1015,555 1013.5,554.8 1012.5,555 1010,575ZM976.2,632.5 981.2,635 988.4,634.2 988.4,632.5 996.2,632.5 1000,631.2 1010,630 1010,627.4 1006.4,620 1006.4,580 1010,581.5 1010,570 975,571.2 975,603.8ZM720.1,653.2 722.5,652.5 735,645 757.5,645 758.8,645 760,613.8 758.8,596.2 752.5,592.5 750,582.5 733.8,582.5 732.5,600 722.5,601.2 722.5,610ZM777.5,646.2 797.5,640 800,630 790,620 783.8,613.8 760,613.8 760,645ZM785,650 800,660 807.5,677.5 822.5,675 832.5,665 835,650 847.5,640 836.2,635 835,622.5 822.5,627.5 800,630 797.5,640ZM832.5,665 835,682.5 895,680 895,660 882.5,645 871.2,643.8 871.2,630 865,622.5 857.5,635 847.5,640 835,650ZM940,650 955,660 975,660 976.2,643.8 976.2,632.5 975,603.8 950,596.2 935,607.5 942.5,620ZM962.5,672.5 970,685 971.2,691.4 988.6,691.4 988.6,651.4 975,660 975,672.5ZM1044.7,708.7 1044.1,695.7 1044,695.7 1044.7,708.7ZM1073.7,650 1062.5,650 1053.8,652.5 1053.8,660 1065,670 1073.7,661.3ZM1027.5,360 1035,373.8 1053.8,372.5 1052.5,342.5 1047.5,335 1012.5,335 1013.8,357.5ZM1140,370 1152.5,372.5 1173.8,371.2 1173.8,342.5 1178.8,335 1140,335 1140,351.2ZM1192.5,343.8 1193.8,353.8 1206.2,352.5 1206.2,352.6 1207.1,352.5 1207.3,351 1207.5,349 1207.5,337.2 1206.8,335.5 1205.8,334.5 1178.8,335 1173.8,342.5ZM1075,412.5 1085,402.5 1087.5,391.2 1082.5,380 1075,367.5 1053.8,372.5 1053.8,411.2ZM1162.5,392.5 1177.5,396.2 1176.2,372.5 1173.8,371.2 1152.5,372.5 1152.5,391.2ZM1152.5,420 1151.2,432.5 1172.5,432.5 1193.8,430 1193.8,412.5 1212.5,412.5 1212.5,410 1210.9,406.9 1209.1,403.1 1207.5,400 1200,400 1192.5,398.8 1192.5,395 1177.5,396.2 1167.5,400 1160,410ZM1015,465 1015.3,463.8 1015,462.5 1016,461.2 1018.8,451.2 1025,445 1012.5,435 1012.5,411.2 1005.5,411.2 996.6,411.2 996.6,467.5ZM1050,452.5 1051.8,459.8 1070,457.5 1075,452.5 1072.5,440 1037.5,440 1025,445 1032.5,448.8ZM1175,452.5 1184.8,450.3 1185,448.8 1186.4,448.2 1187.5,432.5 1172.5,432.5 1150,433.8 1150,455ZM1130,485 1135,475 1130,460 1115,450 1100,457.5 1105,480ZM1053.8,510 1071.2,512.5 1090,510 1085,492.5 1070,485 1066,481 1050,485 1049.2,484.6 1048.8,485 1049.5,486 1050,486.2 1050,486.7 1052.5,490ZM1130,485 1142.5,491.2 1150,487.5 1147.5,477.5 1148.8,470 1158.8,470 1160,485 1156.2,490 1162.5,503.8 1170,510 1185,510 1188,482.5 1188,468.8 1186.9,456.9 1184.5,453.8 1184.8,450.3 1175,452.5 1150,455 1148.8,452.5 1130,460 1135,475ZM1015,555 1033.8,552.5 1033.7,551.2 1032.5,551.2 1028.8,535 1029.9,520.1 1028.1,522.5 1028.1,522.5 1023.8,528.8 1023.4,528.8 1022.5,530 1022.1,529 1010,531.2 1000.5,532 1000.5,531.7 993.7,532 993.7,552.5ZM1050,550 1066.2,555 1075,540 1082.5,532.5 1072.5,520 1071.2,512.5 1053.8,510 1052.2,512 1052.5,515 1046.7,516.7 1045,517.5 1046.2,535ZM1190,588.8 1210,587.5 1210,570 1208.8,548.8 1188.8,548.8 1188.8,582.5ZM1222.5,588.8 1254.4,587.5 1254.4,570 1232.5,571.2 1210,570 1210,587.5ZM1254.4,607.5 1254.4,587.5 1222.5,588.8 1218.8,607.5ZM1011.2,630 1025,627.5 1052.5,623.8 1053.8,610 1060,590 1057.5,575 1025,572.5 1012.5,582.5 1006.4,580 1006.4,620ZM1080,597.5 1095,607.5 1115,605 1120,592.5 1115,582.5 1110,567.5 1100,560 1095,572.5 1075,578.8 1068.8,570 1057.5,575 1060,590ZM1131.2,592.5 1132.5,607.5 1152.5,620 1170,622.5 1167.5,608.8 1165,587.5 1138.8,587.5 1136.2,582.5 1137.6,580.8 1125,585 1115,582.5 1120,592.5ZM1054.1,625.4 1057.5,625 1057.9,629.2 1061.2,632.5 1075,642.5 1095,640 1106.2,635 1110,620 1115,605 1095,607.5 1080,597.5 1060,590 1053.8,610 1052.5,623.8ZM1160,630 1175,630 1170,622.5 1152.5,620 1150,635ZM1185,642.5 1197.5,640 1212.5,641.2 1217.5,648.8 1230,652.5 1240,651.2 1254.3,647.5 1254.3,627.5 1217.5,627.5 1175,630 1177.5,630ZM988.6,691.4 988.8,691.4 989.7,705.9 989.7,705.9 988.8,690.7 1039.7,690.7 1040,690 1043.8,688.9 1043.8,688.3 1046,688.3 1057.5,685 1065,670 1053.8,660 1037.5,662.5 1022.5,651.8 1012.5,651.2 1012.5,650 1011.2,650 1010,650 992.5,650.4 988.8,651.2 988.6,651.2ZM1104.9,688.3 1115,688.3 1115.3,694.4 1117.5,695.7 1115.4,695.7 1115.4,697.1 1152,697.1 1150,675 1145,665 1125,665 1110,670 1095,670 1100,685ZM1254.2,691.6 1254.3,670 1237.5,672.5 1230,676.2 1225,683.8 1207.5,687.5 1205,691.6ZM733.8,934 735,921.5 743.8,916.5 745,901.5 732.5,901.5 720,889 712.5,875.2 677.5,875.2 677.5,934ZM603.8,958.2 604.7,960 606.2,962.4 607.5,964 615,971.5 616.4,972.9 617.5,974 618.6,975.1 620,976.5 630,986.5 631.5,987.9 633.7,989.9 635.2,991.2 638.8,994 645,999 646.8,1002 650.7,1008.5 651.8,1010.1 652.5,1011 652.5,991.5 677.5,990.2 677.5,961.5 670,952.8 601.3,951.5 601.8,952.9 602.5,954.8 603.1,956.5ZM777.5,700.2 777.5,716.5 809.8,706.1 809.3,700.2ZM836.2,739 875,739 876.2,734 877.4,695.9 835,695.9 835,704ZM893.8,732.8 895,721.5 896.9,721.5 908.8,721.5 957.5,721.5 940,710.2 935,704 920,698.5 927.5,698.5 927.1,698.2 922.5,698.2 924.9,696.6 920,693 877.5,693 876.2,734ZM896.9,773.5 896.9,755.9 895,759 887.5,772.8ZM985,759 977.5,731.5 975.3,731.3 975,731.5 977.5,764 980.8,767.3ZM982.2,849.3 988,843.5 992.5,835.2 981.7,849.3ZM822.5,899 807.5,931.5 810,944 817.5,945.2 831.2,946.5 837.5,946.5 835,919 832.5,896.5 827.5,876.5 815,881.5 800,885.2 785,884 788.8,894 783.1,897.8ZM753.8,934 756.2,939 752.5,945.2 757.5,956.5 760,956.5 771.2,964 780,949 785,924 781.2,909 760,911.5 755,916.5 752.5,919ZM927.5,911.5 925.8,910.5 925,910.2 924.8,910 925,911.5 931,912.5ZM1011.5,922.5 1012.5,921.5 1015.5,923.5 1017.5,924 1027.5,919 1025.6,903.8 1025,906.5 1010,921.5 1009.6,922ZM872.5,996.5 885,1006.5 905,1006.5 907.3,1005.4 907.3,965.7 901.1,964.2 897.5,969 885,974 865,976.5 860,996.5ZM737.5,974 732.5,977.8 730,979 735,1004 782.5,1004 782.5,974 771.2,964 757.5,964 747.5,972.8ZM652.5,991.5 652.5,1011 652.8,1011.3 667.5,1001.5 695,1011.5 695,1031.5 730,1031.5 735,1004 730,979 727.5,974 715,977.8 707.5,972.8 691.2,972.8 677.5,961.5 677.5,990.2ZM772.5,1034 780,1059 790,1069 810,1059 817.5,1051.5 817.5,1024 807.5,1021.5 807.5,1006 795,1005.2 785,1024ZM664,1022.9 666.2,1024.9 667.7,1026.2 672.5,1030.2 677.3,1034.3 678.5,1035.2 680,1036.5 681.2,1037.5 681.5,1037.8 687.5,1042.8 692.3,1046.8 692.3,1046.8 695,1049 715,1051.5 727.5,1049 730,1031.5 695,1031.5 695,1011.5 667.5,1001.5 652.8,1011.3 653.7,1012.5 655,1014 662.5,1021.5ZM732.5,1061.5 735,1076.5 750,1081.5 760,1071.5 775,1074 780,1059 772.5,1034 757.5,1039 742.5,1036.5 730,1031.5 727.5,1049ZM735,1117 737.3,1119.6 737.3,1119.6 740.6,1123.2 743.9,1126.9 745.6,1127.8 747.1,1128.1 748.9,1127.7 749.4,1127.4 752.5,1125.2 763.8,1128.4 771.6,1130.6 771.6,1130.6 775,1131.5 786.2,1121.5 796.2,1121.2 796.2,1099 807.5,1099 807.5,1089 795,1084 790,1069 775,1074 760,1071.5 750,1081.5 735,1076.5 732.5,1117ZM807.5,1089 807.5,1099 796.2,1099 796.2,1121.2 825.3,1120.4 830,1104 845,1099 845,1081.5 835,1076.5 822.5,1071.5 810,1059 790,1069 795,1084ZM902.5,1061.5 907.5,1057.9 907.5,1036.5 910,1034 892.6,1036.5 892.6,1009 912.5,1011.5 907.3,1009 907.3,1005.4 905,1006.5 885,1006.5 883.8,1039 883.8,1040.2 883.8,1054 883.2,1055.1ZM1016.6,1021.4 1016.4,1021.4 1016.6,1025.4 1016.8,1021.4ZM950,1114 950.4,1111.8 937.5,1114 937.5,1118.2ZM952.5,1101.5 961.2,1099 961.2,1072.6 942.5,1069 947.5,1086.5 950,1104 952,1104.1ZM902.5,1061.5 905,1061.5 907.5,1059 907.5,1057.9ZM1035,1074 1042.7,1062.4 1032.5,1066.5 1020,1084 1010,1084 1010.4,1085.1 1011.2,1085.2 1011.2,1085.3 1022.5,1085.9 1035,1085.2ZM1050,964 1083.7,961.5 1083.7,945.2 1063.1,944 1055,944.4 1040,945.2 1035.5,957.6 1036.2,956.5 1041.8,961.3ZM1074,1135.3 1074,1089 1035,1085.2 1035,1086.5 1037.2,1135.3ZM946.2,1145.3 946.2,1136.6 961.2,1136.6 962.6,1145.3 962.6,1145.3 961.2,1136.3 963.6,1136.3 960,1114 950,1114 937.5,1118.2 937.5,1132.2 938.4,1136.9 945,1136.9 945.4,1145.3ZM995,756.5 1020,751.5 1022.5,746.5 1035,740.2 1036.2,724 1045,714 1044,695.7 1037.5,695.7 1039.7,690.7 988.8,690.7 989.7,705.9 991.2,705.9 990,719 986.5,722.5ZM1132.5,715.2 1133.8,746.5 1150,744 1152.5,709 1193.8,706.5 1196.2,711.5 1203.8,706.5 1200,697.1 1115.4,697.1 1116.2,714ZM1210,707 1211.2,706.5 1230,704 1235,714 1253.8,714 1253.8,694.7 1200,694.7 1203.8,706.5ZM902.1,774 932.5,774 937.5,751.5 953.8,751.5 957.5,766.5 957.5,767.8 977.5,764 975,731.5 965,730.2 957.5,721.5 908.8,721.5 908.8,736.5 896.9,755.9 896.9,774ZM1077.6,810.2 1083.6,809 1083.6,810.2 1095,810.2 1095,764 1080,766.5 1062.5,759 1061.4,760.8 1062.5,764 1057.8,766.8 1055,771.5 1045,772.8 1036.2,774 1036.2,786.1 1042.5,784 1060,786.5 1070.4,794 1070.4,808.5 1075,810.2ZM1096.2,839 1112.5,839 1128.8,824 1133.8,816.5 1135,799 1142.5,779 1133.8,746.5 1115,759 1095,764 1095,810.2ZM1185,784 1210,780.2 1205,761.5 1197.5,747.8 1200,746.5 1192.5,744 1187.5,751.5 1182.5,774ZM1198.8,816.5 1210,809 1221.2,804 1237.5,803.5 1240,800.2 1241.2,802.8 1253.8,802 1253.8,779 1210,780.2 1185,784 1182.5,809ZM923.6,850.7 942.5,846.5 970.3,850.2 980,849 980.2,851.2 992.5,835.2 985,824 980,809 995,804 987.5,774 977.5,764 957.5,767.8 957.5,790.2 935,790.2 933.8,790.2 933.8,782.1 932.5,774 902.1,774 902.1,825 910,829 911.2,839 907.7,842.1ZM1070.4,808.5 1070.4,809 1047.5,816.5 1074.9,810.8 1075,810.2ZM992.5,835.2 995,836.5 1029.8,837.6 1025,834ZM976.6,878.1 980,879 980,884.4 982.5,889 972.5,899 972.5,911.5 975,939 990.2,941.4 995,939 998.8,940.6 998.8,934 1007.5,921.5 1009.6,922 1010,921.5 1025,906.5 1030,884 1000,879 982.5,869 982,869.4 982.5,874 975.1,875.5 975.9,877ZM1103.8,905.2 1102.5,919 1130,914 1155,911.5 1167.5,906.5 1168.8,886.5 1152.5,886 1151.2,885.2 1136.2,885.2 1126.2,890.2 1117.5,884 1107.5,886.5 1107.5,896.5ZM1155,911.5 1152.5,929 1157.5,939 1170,926.5 1195,925.8 1192.5,884 1185,884 1168.8,886.5 1167.5,906.5ZM1112.5,956.5 1140,955.2 1157.5,954 1157.5,939 1152.5,929 1155,911.5 1130,914 1107.5,924 1107.5,951.5ZM1120,984 1138.8,976.5 1147.5,981.5 1157.5,989 1172.5,996.5 1175,989 1180,979 1182.5,974 1175,961.5 1157.5,954 1140,955.2 1112.5,956.5 1105,966.5 1102.5,984ZM907.3,965.7 907.3,964 921.2,969 932.5,959 934.6,959.3 935,959 947.5,961.1 945,939 950,921.5 933.3,913.2 931,912.5 925,911.5 921.6,915.6 921.2,919 915.6,922.8 912.5,926.5 910,926.5 900.2,926.5 900.2,929.5 902.5,939 902.5,954 900.2,955.1 900.2,964ZM901.2,929 913.8,927.8 913.8,939 903.8,942.8ZM967.5,961.5 970,957.3 970,951.5 974.4,950 975,949 990.2,941.4 975,939 972.5,911.5 970.2,912.9 970,914 957.5,921.5 954.6,920.3 950,921.5 945,939 947.5,961.1 950,961.5 954.7,970.8ZM912.5,1011.5 937.5,1004 950,1014 975,1006.5 980,991.5 984.7,975 979,970 970,964 970,963.2 967.5,961.5 954.7,970.8 955,971.5 952.5,984 937.5,989 936.2,988.7 935,989 922.5,985.2 921.2,969 907.3,964 907.3,1009ZM1056.2,1006.5 1065,1005.2 1066,1005.7 1072.2,1005.2 1072.2,1008.8 1072.5,1009 1085,1007.8 1092.5,1014 1093.8,989 1100,986.5 1085,974 1057.5,971.5 1055,986.5 1055,1006.5ZM910,1034 932.5,1044 960,1036.5 957.5,1024 950,1014 937.5,1004 912.5,1011.5 892.6,1009 892.6,1036.5ZM960,1036.5 975,1049 1010,1049 1015.2,1045.5 1016.6,1025.4 1016.4,1021.4 990,1019 988.6,1018 988.6,1018 980,1017.8 976.6,1010.1 975,1009 975.4,1007.5 975,1006.5 950,1014 957.5,1024ZM905,1061.5 940,1061.5 942.5,1069 961.2,1072.6 961.2,1071.5 967.7,1070.1 970,1069 972.5,1069 990,1069 992.5,1066.5 980,1059 975,1049 960,1036.5 932.5,1044 910,1034 907.5,1036.5 907.5,1059ZM992.5,1066.5 990,1069 995,1076.5 998.8,1080.2 1010,1084 1020,1084 1032.5,1066.5 1045,1061.5 1043,1059 1027.5,1059 1015,1049 1015.2,1045.5 1010,1049 975,1049 980,1059ZM1107.5,1076.5 1112.5,1074 1118.8,1061.5 1117.5,1039 1112.5,1034 1093.8,1031.5 1086.2,1035.2 1085,1040.2 1080,1041.5 1083.8,1054 1080,1069 1075,1074ZM1112.5,1074 1112.5,1080.2 1157.5,1080.2 1156.2,1036.5 1152.5,1035.2 1137.5,1036.5 1117.5,1039 1118.8,1061.5ZM937.5,1114 950.4,1111.8 952,1104.1 950,1104 947.5,1086.5 942.5,1069 940,1061.5 905,1061.5 902.5,1061.5 903.8,1096.5 910,1109 905.3,1112.8 910,1111.5 935,1119 937.5,1133.5ZM959.2,1104.4 961.2,1105.2 961.2,1104.5ZM972.5,1498 987.5,1500.5 992.3,1512.5 993,1511.8 995.2,1509.9 996.8,1508.8 998.2,1508.1 1002.5,1504.2 1016.2,1503 1016.2,1488 1016.5,1487.6 1010,1486.8 992.5,1479.2 963.8,1479.2 963.8,1498ZM810.6,1148 813.8,1153 813.1,1158 812.9,1159.5 812.9,1159.5 812.5,1163 825,1165.5 826.2,1178 845,1175.5 845,1166.8 860,1165.5 862.5,1158 865,1153 869.4,1138.6 820.3,1138.6 820,1141.6 810,1141.6 807.5,1143 809.4,1146ZM882.5,1156.8 882.5,1194.2 900,1194.2 902.5,1175.5 912.5,1178 910,1158 908.2,1148 882.5,1148 882.5,1136.6 870,1136.6 865,1153ZM890,1223 900,1233 922.5,1230.5 931.2,1229.2 931.2,1191.8 935,1178 932.5,1178 912.5,1178 902.5,1175.5 900,1194.2 895,1213ZM950,1171.8 960,1170.5 962.5,1170.5 970,1160.5 963.8,1153 961.2,1136.6 946.2,1136.6 946.2,1165.5 943.8,1167.6ZM962.5,1170.5 962.5,1183 978.8,1184.2 980,1184.2 996.2,1184.2 997.5,1183 1007.5,1175.5 1007.5,1150.5 987.5,1155.5 963.8,1153 970,1160.5ZM1101.2,1179.2 1101.2,1214.2 1102.6,1213.8 1104,1179.2ZM1160.4,1213 1161.8,1212.8 1150,1213ZM1168.8,1135.1 1111.2,1135.1 1111.2,1141.1 1111.2,1150.9 1112.5,1150.5 1122.5,1153 1168.8,1152.1ZM816.2,1211.8 810,1219.2 807.5,1220.5 807.5,1230.5 808.8,1233 811.2,1243 825,1243 840,1233 846.2,1233 846.2,1220.5 862.5,1213 864.8,1213.1 863.8,1203 858.8,1195.5 845,1193.5 836.2,1195 826.2,1196.8 826.2,1209.2ZM885,1245.5 900,1233 890,1223 895,1213 882.5,1214.2 883.8,1248ZM792.5,1278 800,1293 802.5,1303 808.8,1311.8 821.2,1300.5 817.5,1289.2 827.5,1286.8 827.5,1279.2 840,1273 830,1260.5 822.5,1253 811.2,1243 807.5,1249.2 788.8,1249.2 790,1263ZM905,1268 900,1283 902.5,1290.5 977.5,1290 978.8,1258 967.5,1248 960,1233 962.5,1224.2 942.5,1224.2 937.5,1230.5 932.5,1243 922.5,1255.5 920,1266.8ZM967.5,1248 978.8,1258 980,1240.5 1010,1233 1010,1225.5 998.8,1215.5 988.8,1208 973.8,1215.5 962.5,1224.2 960,1233ZM1005,1278 1013.8,1288 1015,1309.2 1052.5,1310.5 1052.5,1283 1053.8,1281.8 1050,1280.5 1042.5,1273 1036.2,1263 1035,1235.5 1010,1233 1006.2,1239.2 1007.5,1255.5ZM955,1415.5 960,1423 978.8,1424.2 990,1422.5 987.5,1409.2 991.7,1403 977.5,1403 977.5,1378 985,1380.5 997.5,1388 1006.2,1378 1005,1361.8 1003.8,1358 995,1365.5 990,1369.2 978.8,1365.5 977.5,1369.2 958.8,1370.5 957.5,1379.2 955,1390.5ZM991.7,1403 995,1398 996,1397 997.5,1388 985,1380.5 977.5,1378 977.5,1403ZM1035,1415.5 1052.5,1416.8 1052.5,1388 1033.8,1385.5 1030,1393 1035,1400.5ZM1071.2,1394.2 1073.8,1385.5 1085,1378 1087.5,1378 1085.4,1373.8 1081.2,1368 1078.9,1361.6 1077.5,1359.2 1072.5,1355.5 1060,1347.5 1055,1355.5 1053.8,1365.5 1053.8,1394.2ZM1072.5,1421.8 1071.2,1394.2 1053.8,1394.2 1053.8,1423ZM1103.8,1423 1110,1422.5 1103.8,1422.5 1103.8,1400.5 1103.4,1400 1102.5,1421.8ZM1136.2,1421.1 1140,1420.5 1148.8,1419.2 1152.5,1428 1148.5,1418 1135,1420.5ZM1162,1376.1 1162.2,1375.4 1163.4,1374.5 1160,1375.5 1162.6,1377.1ZM1161.7,1361.8 1162.1,1360.7 1163.4,1359.7 1164.1,1359.5 1157.5,1355.5 1149.4,1354.2 1160,1360.5 1161.9,1363.4ZM1138.7,1354.2 1144.8,1353.4 1142.5,1353ZM1103.1,1390 1103.8,1390.5 1103.7,1392.4 1107.5,1389.2 1105.4,1388.1ZM1126.2,1200.5 1135,1209.2 1150,1213 1161.8,1212.8 1165,1212.5 1172.4,1212.7 1188.8,1212.5 1188.8,1151.8 1122.5,1153 1123.8,1188ZM1107.5,1389.2 1103.7,1392.4 1103.4,1400 1103.8,1400.5 1103.8,1422.5 1110,1422.5 1135,1420.5 1148.8,1418 1149.2,1414.5 1149.2,1414.5 1149.4,1413 1150,1408 1151.7,1405 1152.5,1403.6 1155,1399.2 1158.8,1394.9 1160.2,1393.2 1161.4,1391.5 1162.8,1389 1163.6,1387.2 1165.1,1382.6 1165.2,1380.7 1164.7,1379.1 1163.6,1377.7 1163.1,1377.4 1162.6,1377.1 1160,1375.5 1163.4,1374.5 1164.4,1374.2 1165.4,1374 1166.7,1373 1167.2,1372.2 1167.2,1370.9 1166.9,1370.5 1165,1368 1163.1,1365.1 1161.9,1363.4 1160,1360.5 1149.4,1354.2 1144.8,1353.4 1130,1355.5 1120,1360.5 1115,1370.5 1114.3,1371.6 1115,1373 1110,1384.2 1108.3,1385.7ZM1070,1220.5 1090,1223 1095,1238 1104.7,1236.6 1107.5,1235.5 1110.3,1235.8 1112.5,1235.5 1130,1238 1135,1248 1146.2,1238 1147.5,1226.1 1147.5,1213 1150,1213 1135,1209.2 1126.2,1200.5 1123.8,1188 1122.5,1153 1112.5,1150.5 1111.2,1150.9 1111.2,1179.2 1104,1179 1102.5,1215.5 1062.5,1215.5Z"/>
<path fill="#5892b5" stroke="#5892b5" stroke-width="0.7" d="M661.2,577.8 660.9,577.9 659.1,578.7 659,578.8 661.5,578.1ZM654.5,584.1 653.7,586.3 653.2,588.1 653,589.4 652.6,591.2 652,593.9 651.5,595.9 649.9,601.3 652.5,593.8 658,594.2 658.2,593.4 653.8,592.5 654.6,583.9ZM693.8,1048.1 696,1050.1 697.5,1051.5 695,1049 692.3,1046.8ZM1036.6,774 1036,771.5 1030.4,771.5 1036.2,774ZM786.5,1065.5 780,1059 776.1,1070.8ZM919.1,1423.1 918.8,1424.4 917.9,1425.8 920,1424.2 919.5,1422.2ZM945.4,1441.8 942.5,1436.8 942.5,1440.8 944.1,1441.3ZM959.1,1421.7 955,1415.5 947.5,1418 958.9,1422.6ZM926.2,1420.5 932.5,1430.5 932.5,1423 931.2,1413ZM869.8,1253.4 875,1258 883.8,1273 884.4,1258.4ZM836.2,1278.2 847.5,1276.8 840,1273 835.6,1275.2ZM1212.9,691.6 1207.1,691.6 1206.7,694.7 1217.7,694.7 1213.4,692ZM1191.5,724.2 1191.9,724.6 1196.2,711.5 1195.8,710.7 1193.2,710.7ZM1211.9,725.9 1211.2,706.5 1210,707 1210,724 1210.3,728.2 1211.1,727.6ZM882.5,1156.8 879.9,1156.2 879.8,1156.9ZM825.7,1172.6 825,1165.5 825.4,1172.6ZM823.2,1138.6 842.4,1138.6 839.9,1132.6 832.8,1132.6 831.5,1133.4ZM678.3,577.3 678.1,577.4 676.3,577.8 673.7,578 671.9,577.7 675,578.8 678.4,577.4ZM658,594.2 665.8,594.9 658.2,593.4ZM976.7,658.8 977.1,658.7 988.6,651.4 988.6,651.2 976.2,643.8 975,659.4ZM620.5,787.6 619.5,788.2 617.8,788.8 613.5,789.2 612.7,789.2 613.7,789.4 621.2,789 623.5,791.3 623.9,791.4 624.7,791.5 621.2,788.5 621.2,786.6ZM808,442.8 808.2,444.8 808.3,447.7 808.1,449.7 806.9,456.6 806.5,458.5 805.9,461.5 805.6,463.4 804.4,469.1 804.1,471 803.6,474 803.9,472.1 807.5,462.5 808.8,446.2 807.5,440.6 807,438.5ZM835.6,462.5 807.5,462.5 831.2,463.8 834.9,463.8 835.4,462.9ZM1162.5,503.8 1160,512.5 1170,510ZM954,509.1 955,508.7 955,503.8 950,502.5 952.8,509.6ZM942.5,472.5 942.5,472.5 942.5,485 947,474.9ZM922.7,468.1 942.5,472.5 942.4,472.4 930.7,466.1ZM930,488.8 950,502.5 942.5,485ZM929.5,331.7 930.4,333 935,333 967.4,333.3 966.1,332ZM785,582.5 792.5,593.8 809.5,595.3 810.2,594.9 792.5,592.5ZM1142.4,1272.6 1141.4,1270.1 1140,1268 1142.3,1272.6ZM805.8,352.8 806.2,350 817.3,350.8 806.2,348.8 805.5,347.8 805.5,352.7ZM832.9,331 793.8,330.7 793.5,331.8 802,331.8 802,343.8 802.7,344 802.5,343.8 802.5,331.8 833.6,331.8ZM731.3,581.1 730,580 730,580 730,580 729.3,579.4 730,581.2 732.5,582.1ZM717.5,569.3 715.7,570 713.8,570.5 712.3,570.8 711.6,571.3 712.5,571.2 717.9,569.6ZM722.5,601.9 722.5,601.2 724.9,600.9 725.6,600.7 720,601.2 710,598.8 720,602.5 720.1,602.9ZM712.3,570.8 711,571.1 709,571.3 702.5,571.5 709,571.3 711.6,571.3ZM689.2,573 685.8,574.3 683.9,575 681.2,576.1 679.4,576.9 678.3,577.3 678.4,577.4 689.9,572.8 691.1,572.4ZM997.1,1440.8 1010,1445.5 1002.5,1440.5 999.4,1437.4 998.5,1438.8ZM1019.1,1310.1 1044.1,1310.4 1044,1310.2 1019.6,1309.4 1019.3,1309.8ZM1035.3,1347.9 1035.5,1347.9 1036.6,1347.3 1034.4,1347.5ZM1053.4,1337 1053.1,1328.5 1052.5,1327.3 1052.5,1337.5ZM1072.2,512.6 1071.9,513.5 1074.5,517.6 1075.7,517.5 1075.7,519.4 1082.5,530 1095,515 1090,510 1072.3,512.4ZM1258.9,1162 1258.4,1159 1258.1,1157.1 1256.9,1151.4 1256.6,1149.5 1256.1,1146.5 1255.8,1144.5 1255.4,1141.5 1255.3,1139.5 1255.4,1137.8 1255.5,1136.6 1251.9,1137.7 1251.6,1138.6 1255,1138.6 1255,1150.5 1256.2,1160.5 1256.7,1161.8 1259,1162.9ZM925,1498.2 925,1498 926,1497.9 924.1,1497.5ZM947.5,1485.1 948.8,1479.2 947.5,1479.2ZM724.5,696.4 752.2,696.4 752.2,696.4 751.4,692.1 723.2,692.1ZM787.6,898.3 788.1,899 822.5,899 787.6,897.9ZM994.7,1472.2 996.1,1463.6 996,1462.9 987.5,1460.5 995,1468 994,1472.7 994.1,1472.6ZM962.5,1479.2 961.2,1473 960,1479.2ZM1071.3,1036.3 1072.7,1035.5 1072.5,1035.2 1070.9,1035.1 1070.9,1036.3ZM1075.2,1037.7 1075.2,1038.3 1077.4,1039.8ZM1079.2,1040.9 1080,1041.5 1085,1040.2ZM764.2,963.2 763.7,964 771.2,964 765.8,960.4ZM1221.4,851.5 1221.3,851.5 1225,855.2 1221.6,851.3ZM1204.9,861.8 1208.7,879 1225,874 1227.5,891.5 1227.4,891.7 1229.2,892.3 1230,891.5 1227.5,874 1227.5,855.4 1225,855.2 1214.4,855.9ZM900.3,964.4 895.8,961.5 897.5,969 900.3,965.3ZM1058.1,332.7 1058.2,334.3 1076.3,334.5 1076.3,335 1080,335 1103,335 1104.7,333ZM752.2,696.4 752.2,696.4 777.5,696.4 777.5,700.2 798.1,700.2 800,698.4 799.5,692.3 777.5,692.3 785,680 777.5,692.1 757.6,692.1ZM1081.2,1139 1085,1134.5 1074,1134.5 1074,1135.3 1068.2,1135.3 1071.8,1139ZM847.5,763.1 855,764 865,759 844.1,760.7ZM1176.4,1152 1188.8,1151.8 1215,1151.8 1214.5,1150.5 1183.8,1150.5 1178.5,1150.7 1176.7,1151.8ZM746.1,908.7 747.5,904 745,901.5 744.4,909.1ZM787.6,897.9 783.1,897.8 781.2,899 784.6,899 787.6,898.3ZM772.5,871.5 781.2,874 777.5,869ZM1253.8,987.3 1253.8,987.4 1253.8,1013.5 1251.6,1013.5 1251.6,1013.6 1252.2,1014.5 1253.8,1014.5 1253.8,1017 1253.8,1017.1ZM611.5,789.3 608.5,789.5 606.5,789.5 604.8,789.5 603.3,790.1 613.7,789.4 612.7,789.2ZM599.2,800.3 598.4,802.1 600,799 600,797.6 600,797.5ZM623.5,791.3 627.4,795.2 627.5,794 624.7,791.5ZM1081.2,1139 1082.3,1141.1 1087,1141.1 1086.7,1134.5 1085,1134.5ZM1073.9,1355.9 1074.4,1356.9 1077.5,1359.2 1077.9,1359.1 1077.5,1358 1090,1355.5 1090.3,1353.5 1073.7,1355.4ZM1161.6,1354 1159.9,1353.6 1157.5,1355.5 1164,1359.4 1164.3,1358.8ZM961.2,1104.5 961.2,1099 952.5,1101.5 959.2,1104.4ZM987.1,332.2 966.1,332 967.4,333.3 983.8,333.5ZM879.2,624 877,627.3 882.9,624.6ZM880.4,331.4 879.5,332.5 927.8,332.9 929.2,331.7ZM758.9,644.7 760,643.6 760,639 759,638.2 758.8,644.8ZM758.6,645 757.5,645 757.7,645.9ZM1113.1,884.3 1100,885.2 1096.2,866.5 1096.2,865 1095.9,865 1095,865.1 1095,866.5 1083,866.5 1078.5,867 1095.5,867 1097.5,885.2 1107.5,886.5 1112.9,885.2ZM1239.6,471.1 1239.2,469.1 1238.3,465.9 1237.9,464 1237.1,461 1236.8,459.6 1238.5,469.7 1239.7,473.8 1240.1,473.6ZM1235.8,455.9 1235.3,454 1234.4,451.1 1233.8,449.3 1232.8,449.1 1233.3,451.3 1236.1,456.7ZM1218.3,446 1221,447.2 1222,446.8ZM865.7,468.2 865.7,469.1 886.2,470 872.5,468.8ZM1096.2,841.7 1096.2,839 1095.1,812.1 1095,812.2 1095,840.8ZM1119.7,832.4 1112.5,839 1113.5,840.4ZM862.3,871.5 862.3,871.5 852.5,869 840,869 839.2,855.7 837.5,855.4 837.5,869 862.3,871.5ZM844.2,601.7 845.6,599.7 835,601.2 820,596.2 822.6,602.1 825.2,604.7 835,605 837.5,602.5 844,602.1ZM816.2,595.8 816.4,595.9 820,596.2 816.2,595.7ZM793.8,330.7 753,330.5 752.7,331.8 770,331.8 793.5,331.8ZM722.3,331.1 722,331.5 722,331.8 722.2,332.6 722.4,333.4 722.7,334.6 723,335.4 723.8,336.8 725,338.3 726.4,339.8 729.8,342.7 731.4,344 733.8,345.8 735.4,346.9 736.3,347.5 738.8,342.6 722.6,330.8ZM1254.2,691.6 1245.7,691.6 1239.3,694.5 1239.4,694.7 1253.8,694.7 1253.8,712.7 1254.2,713.3ZM1211.1,727.6 1212,727.9 1211.9,725.9ZM1233.3,735.8 1235,714 1230,704 1232,735.3ZM1253.9,743.4 1254.2,743.3 1254.2,713.3 1253.8,712.7 1253.8,714 1253.8,743.3ZM1239.3,694.5 1236.7,693.8 1234.8,694.7 1239.4,694.7ZM1146.2,333.3 1104.7,333 1103,335 1112.5,335 1140,335 1145.9,335ZM1102.1,1462.4 1103.9,1461.8 1105.5,1461.7 1105.9,1461.8 1103.8,1460.5 1101.9,1462.6 1100.4,1463.6ZM1241.3,1101.5 1239.7,1100 1239.5,1100.6 1242.2,1102.8 1242.5,1103.1ZM848.7,620 835,620 835,622.5 847.9,622.5ZM825.2,604.7 824.6,606.6 825,607.5 831.2,608.8 835,605ZM1254.5,522.5 1254.5,528.3 1248.7,529.2 1247.9,540.8 1254.5,536.7ZM1182.5,1296.2 1180.8,1294 1180.7,1294 1180.7,1294.4 1181.2,1295.5 1183.9,1297.6ZM1140,403.8 1140,395 1131.2,410ZM1097.5,1385.5 1087.5,1378 1085,1378ZM769.3,542.7 768.3,543.7 766.1,545.7 764.5,546.9 760.5,549.4 759.3,550 758.2,569.1 758.6,576 770,567.5 777.5,577.5 775,560 780,547.5 780,547.5ZM824,1005.7 846.2,1005.2 831.2,990.2 824.5,996.2ZM847.4,1028.7 847.5,1028.6 847.5,1005.2 846.2,1005.2ZM807.5,949 817.5,945.2 810,944ZM879.8,1038.7 865,1037.8 880.5,1039.8ZM840,1039 847.5,1032.8 865,1037.8 847.5,1031.5ZM842.4,1138.6 869.4,1138.6 870,1136.6 882.5,1136.6 882.5,1133.9 866.3,1132.7 865.1,1132.6 839.9,1132.6ZM879.9,1156.2 865,1153 862.5,1158 879.8,1156.9ZM1097,1287 1105,1288 1110,1283 1102.5,1279.3 1101,1279.9ZM929.5,331.7 929.2,331.7 927.8,332.9 930.4,333ZM928,376.1 935,355 927.5,365 924.7,372ZM1102.3,484.6 1100,492.5 1103.3,484.1ZM949,710.2 940,710.2 949.6,716.5 950.8,716.1ZM1052.6,1434.2 1052.9,1470.6 1053.8,1470.8 1053.8,1434.9ZM815.6,1310.5 822.2,1304.9 821.2,1300.5 812,1308.8ZM835.6,1275.2 827.5,1279.2 836.2,1278.2ZM946.2,1158.7 946.2,1151.9 945.7,1153 945.9,1158.3ZM962.5,1172.8 962.5,1170.5 960,1170.5 960.4,1172.3ZM1006.4,1150.7 992.5,1153 987.5,1155.5 1006.3,1150.8ZM926.4,1459.4 927.4,1462.1 927.8,1464 927.5,1460.5 925.4,1457.7ZM928.1,1471.4 927.1,1473.5 925.9,1475 928.8,1473 928.4,1469.5ZM954,1445.5 947.5,1445.5 945.4,1441.8 942.5,1440.8 942.5,1443 947.5,1448 954.3,1446.6ZM946.2,1151.9 946.2,1145.3 945.4,1145.3 945.7,1153ZM1097.4,1530.9 1100.1,1522.6 1100.5,1520.6 1100.5,1520.2 1096.6,1530.9 1097.1,1531.4ZM1093.1,1501 1092.2,1499.3 1091.9,1499.3 1093.3,1501.3 1095.6,1505ZM884.4,1258.4 885,1245.5 883.8,1248 865,1249.2 869.8,1253.4ZM882.7,1212.1 882.5,1211 882.5,1214.2 883,1214.2ZM950.8,716.1 953.6,719 957.5,721.5 957.5,710.2 949,710.2ZM1153.6,1429 1152.6,1427.3 1152.2,1427.3 1152.5,1428 1154.8,1430.6ZM777.8,868.8 797.4,859.1 797.4,858.8 796.2,856.5 782.5,859 775,865.2 777.2,868.6ZM796.2,834 782.5,834 796.2,835.2ZM1195.7,1096.5 1193.8,1096.5 1195.4,1097.2ZM1148.3,1080.5 1157.5,1080.2 1148.3,1080.2ZM1176.2,1081.5 1191.2,1080.2 1157.5,1080.2ZM895.7,1304.8 901.2,1308 902.5,1320.5 902.5,1290.5 900,1283 899.9,1283.1ZM900.6,1321.8 902.5,1321.8 915,1328 902.5,1320.5ZM1063.8,931.5 1061.3,926.7 1061.8,933.7 1063.8,944ZM1221,421.1 1219.1,418.8 1217.9,417.2 1214.6,412.8 1213.5,411.1 1211.9,408.6 1210.9,406.9 1212.5,410 1212.5,412.5 1220,420 1221.1,421.3 1221.1,421.3ZM1208.2,401.3 1207.2,398.5 1206.5,396.6 1205.7,393.9 1207.5,400 1209.1,403.1ZM1202.9,431.5 1204.1,432.5 1212.5,432.5 1202.8,431.2ZM1214.1,958.9 1214.8,959.2 1215,959 1213.8,926 1213.8,926 1213.8,956.5 1213,958.4ZM1216.6,925.7 1224.7,927 1224.6,924.8ZM710.4,875 710.3,875.2 712.5,875.2 710.5,874.9ZM600.6,853.8 600.7,853.8 618.8,852.8 620,835.2 618.8,851.5 600.9,852.6ZM632.5,835.2 632.5,829 620,835.2ZM832.8,1132.6 820.9,1132.6 820.3,1138.6 823.2,1138.6ZM808.2,1144.1 807.5,1143 810,1141.6 804.6,1141.6 807.8,1144.1ZM1019.6,1309.4 1015,1309.2 1008.8,1310 1019.1,1310.1ZM977.8,1294.6 978.8,1309.2 978.8,1293.4ZM1017.5,1146 1017.5,1141.7 1016.8,1141.7 1017.2,1145.9ZM1169.8,820.6 1168.8,814 1165,816.5ZM1253.9,923.8 1254,898.9 1253.8,899 1253.8,923.7ZM837.5,435 837.5,436.2 857.5,435 847.5,425ZM1082.2,412.5 1092.5,412.5 1085,402.5 1082.6,404.9 1082.6,410 1082.2,410ZM1077.5,410 1077.2,410.3 1082.2,410ZM995.4,1193.6 991.3,1209.2 992,1210.4 998.8,1215.5 996.6,1193.5ZM1006.7,1238.6 1010,1233 1004.5,1234.4ZM1176.6,396 1162.5,392.5 1167.5,400 1176.3,396.7 1176.3,396.6ZM1152.5,391.2 1147.5,392.5 1162.5,392.5ZM776.1,1070.8 775,1074 790,1069 786.5,1065.5ZM1163,885.4 1152.5,886 1163.2,886.3ZM1150.9,876.3 1151.2,885.2 1152.5,886 1151.7,876.8ZM1112.9,885.2 1117.5,884 1113.1,884.3ZM1128.8,914.5 1130,914 1128.6,914.3ZM1140.2,490.1 1132.7,486.3 1129.9,487.4 1128.8,510 1137.9,503.9 1141.6,491.9ZM1140.3,851.6 1136.2,852.8 1128.8,841.5 1128.8,824 1119.7,832.4 1113.5,840.4 1121.5,852.5 1125,849 1136.2,854 1139.8,853.7ZM1129.2,823.3 1128.8,824 1129.8,823.3ZM1204.2,388.9 1203.5,386 1203.1,384.1 1203.8,387.5 1204.8,390.9ZM1202.6,380.9 1202.4,379 1202.4,376 1202.6,374.1 1202.9,372.5 1202,377.5 1202.9,382.5ZM1204.9,361.3 1205.5,358.7 1206,357 1205.5,357.3 1204.5,363.1ZM1193.5,377.2 1193.3,379.8 1202,377.5 1195,378.8 1194.7,374.2ZM1194.7,374.2 1194.5,370 1193.8,354.1 1192.9,353.4 1193.8,372.5 1193.5,377.2ZM1168.5,333.5 1146.2,333.3 1145.9,335 1170.4,335ZM758.7,550.3 756,551.6 754.1,552.3 748.4,554 746.4,554.6 743.6,555.6 741.7,556.2 738.3,557.5 741.3,556.4 741.7,556.2 757.5,556.2 758.2,569.1 759.3,550ZM727.8,564.1 726.1,565.2 723.6,566.7 721.8,567.5 717.5,569.3 717.9,569.6 725,567.5 729.3,579.4 730,580 730,562.5ZM732.5,582.1 733.8,582.5 750,582.5 754.5,579.1 745,580 730,580ZM832.1,502.3 832.1,502 817.5,502 832.1,502.4ZM1213.1,1212.5 1188.8,1212.5 1172.4,1212.7 1182.5,1213 1205,1214.2 1213.3,1213.9ZM834.9,463.8 842.5,463.8 837.5,462.5 835.6,462.5ZM858.8,493.2 858.8,468.8 865.7,469.1 865.7,468.2 857.5,467.5 844.2,464.2 857.5,476.2 858.3,493.2ZM993.1,1423.3 995,1423 995.1,1423.9 998.3,1425 1003.9,1424.5 1004.6,1423.2 1004.5,1422.3 990.5,1422.5ZM1001.5,1387.6 1001.2,1383.8 997.5,1388 996,1397 1001.8,1391.2ZM1101,1279.9 1102.5,1279.3 1100,1278 1099.4,1278.6ZM930.7,466.1 932.2,463.9 927.5,460 920,467.5 922.7,468.1ZM1006.1,332.3 1001,332.3 1001.1,333.6 1009.1,333.7ZM1012.5,355 1012.5,356.2 1012.5,370 1013.5,370.1 1013.8,357.5 1013.7,356.3ZM1166.8,1035.6 1171.2,1035.2 1171.2,1034 1167.6,1034.2ZM672.2,669.9 687.5,667.5 672.2,668.7ZM1141.6,491.9 1137.9,503.9 1143.8,500 1142.6,492.3ZM1242.4,1056.9 1242.2,1055.3 1242.3,1052.8 1242.7,1051.2 1242.7,1051.2 1241.2,1054 1242.3,1056.9ZM1215.9,442.8 1212.7,443.5 1217.1,445.4ZM1204.3,449.3 1204.6,449.2 1204.6,447.3ZM1187,457 1186.9,456.9 1188,468.8 1205,467.5 1205.1,468.6 1206.7,468.5 1206.7,463.6 1203.6,461.5 1202.6,454.4 1198.5,451.3 1199.2,451 1193.8,449.2 1194.2,453.8 1191.2,457.5ZM664.1,577.1 661.2,577.8 661.5,578.1 665,577 666.1,576.9ZM774.1,1004 735,1004 774.1,1004.8ZM1255.5,1136.3 1255.7,1135.7 1255.6,1136.2 1251.5,1136.2 1251.9,1137.7 1255.5,1136.6ZM1255.7,1134.2 1255.5,1132.6 1255,1130.7 1253.7,1127.3 1252.9,1125.4 1253,1125.5 1255.7,1134.5 1255.7,1135.7ZM1248.1,1117 1247.2,1115.2 1246,1112.5 1245.7,1111.4 1245.6,1111.4 1246.2,1114 1249.4,1119ZM1251.9,1137.7 1251.5,1136.2 1212,1136.2 1212.5,1138.6 1251.6,1138.6ZM1132.7,486.3 1130,485 1129.9,487.4ZM1104.9,479.4 1103.8,483 1105,480ZM1052.5,1337.5 1052.5,1345.5 1036.6,1347.3 1035.5,1347.9 1060,1347.5 1072.5,1355.5 1060,1346.8 1053.8,1345.5 1053.4,1337ZM1053.8,1374.9 1053.8,1365.5 1053.2,1375.2ZM1073.7,1355.4 1072.5,1355.5 1074.4,1356.9ZM1001,332.3 987.1,332.2 983.8,333.5 1001.1,333.6ZM833.4,671.5 832.5,665 833,673.6 833.3,673.5ZM586.5,908.1 587,910.1 587.6,913 587.8,915 588.1,917.8 587.5,911.5 586.5,908.1 585.8,905.4ZM1099.4,1278.6 1095,1283 1055,1281.8 1055,1269.5 1053.8,1271.2 1053.8,1281.8 1052.5,1283 1085,1285.5 1097,1287 1101,1279.9ZM747.5,716.5 746.2,731.5 777.5,716.5ZM1232,735.3 1232.5,744 1212.5,742.8 1212,727.9 1211.1,727.6 1210.3,728.2 1211.2,744 1202.8,745.9 1204.1,747.3 1232.5,745.2 1233.3,735.8ZM883,1214.2 895,1213 898.5,1199.9 885.3,1203.7 882.5,1207.3 882.5,1211ZM924.3,1230.2 922.5,1230.5 924.4,1230.5ZM1149.7,450.2 1148.9,451 1148.8,452.5 1150,455 1150,449.9ZM1077.2,866.5 1076.2,866.5 1076.1,865.3 1076.1,865.3 1075,864.3 1075,874 1076.2,867 1077.7,867ZM845,331.1 837.4,331.8 851.2,331.8 865,332.1 863.4,331.3ZM825.5,351.3 842.5,352.5 850,350 842.5,351.2 825.5,351.2ZM1205.4,473.6 1206.2,485 1207.6,486.7 1206.7,477.9 1206.2,473.8ZM1155.1,548.8 1154.2,547.9 1150,547.5 1125,551.2 1135.7,554.8 1131.2,551.2 1155,550.5ZM1144.7,570.6 1143.2,573.5 1145,571.2ZM1136.5,555.5 1140.6,562.5 1137.5,556.2ZM1095,840.8 1095,865.1 1096.2,865 1096.2,841.7ZM1076.1,865.3 1075.1,859.9 1073.6,860 1075,860.2 1075,864.3ZM1077.7,867 1078.5,867 1083,866.5 1077.2,866.5ZM899.7,1392.8 902.2,1394 903.9,1395.1 903.9,1395.1 901.2,1393 897.9,1392ZM913.6,1401.2 914.9,1402 916,1402.8 915,1401.8 911.9,1400.2ZM917,1404.5 917.3,1405.8 917.5,1407.8 917.5,1404.2 916.5,1403.2ZM919.2,1420.8 919.2,1422.8 919.1,1423.1 919.5,1422.2 918.8,1418.6ZM1254.5,536.7 1247.9,540.8 1247.7,543.6 1244.8,547.5 1247.5,547.5 1254.5,547.5ZM1004.6,1423.2 1003.9,1424.5 1020,1423 1027.5,1430.5 1038.2,1421.9 1007,1422.3ZM898.5,1199.9 900,1194.2 882.5,1194.2 877.6,1194.2 878.3,1195.1 882.5,1195 882.5,1200.3 885.3,1203.7ZM845,331.1 832.9,331 833.6,331.8 837.4,331.8ZM1122,983.2 1120,984 1121.4,985.1ZM1104.5,968.5 1100.3,985.2 1102.5,984 1104.7,968.6ZM1085,974 1077.1,973.2 1077.1,973.3ZM888.5,622 890,621.2 889.3,621.2ZM1103.3,484.1 1103.8,483 1104.9,479.4 1104.4,477.2 1102.3,484.6ZM1106.6,450.9 1100,457.5 1109.7,452.7ZM705.1,756.2 709.9,756.3 711.3,755.6 704,755.7ZM873.6,1330.4 871.2,1328 870.3,1331.9ZM899.9,1283.1 895,1288 890,1289.2 892.5,1303 895.7,1304.8ZM844,602.1 860,601.2 870,597.5 871.2,587.5 860,597.5 845.6,599.7ZM858.3,493.2 858.8,502 858.8,493.2ZM832.1,502.4 836.2,502.5 858.8,502 832.1,502ZM649.8,601.6 649.2,603.6 648.2,606.4 647.6,608.3 644.9,615.5 644.7,617.4 645,619.9 645.6,621.7 646.9,623.8 648.1,625.8 649.3,627.4 651,629.8 652.3,631.4 653.8,633.1 655.2,634.8 656.7,636.2 658.9,638 660.6,639.1 661.9,639.7 665,641.2 666.1,644.6 666.1,644.6 666.9,646.9 668.8,652.5 669,653.9 669,654 669.4,655.9 670.6,661.6 670.8,663.5 671,666.5 671,667 671.2,668.8 687.5,667.5 705,657.5 720.1,653.2 722.5,610 720,602.5 710,598.8 672.5,596.2 665.8,594.9 652.5,593.8 649.9,601.3ZM744.8,354 744.9,354.1 743.8,331.8 744.7,353.9ZM760,379 760.3,381 761,383.7 761.7,385.5 763.3,388.2 764.4,389.9 766.2,392.2 767.5,393.7 768.8,395 770,396.3 771.5,397.6 773.9,399.3 775.6,400.4 776.9,401 778.1,401.6 779.9,402.5 781.5,403.2 807.5,400 807.5,395 807.5,387.5 815,382.5 815,376.2 806.2,375 804.5,360 804.8,358.2 796.2,358.2 775.5,356.2 775.5,370 760,372.5 760,376ZM896.2,375 907.5,380 922.5,377.5 927.5,365 935,355 935,333 877.5,332.5 878.7,359.9 895,358.8ZM1013.7,356.3 1012.5,335 1012.5,355ZM1047.5,334.2 1012.5,333.8 1012.5,335 1047.5,335 1047.5,335ZM972.5,401.2 975,405 975,365 960,360 935,355 925,385 946.2,401.2ZM1012.5,370 1012.5,411.2 1013.5,370.1ZM942.5,472.5 953.8,460 965,457.5 970,445 962.5,430 941.2,430 917.5,432.5 927.5,460ZM1022.5,450 1025,450 1028.3,446.7 1025,445 1021.9,448.1ZM865,510 885,520 905,510 902.5,472.5 886.2,470 858.8,468.8 858.8,502ZM920,500 930,488.8 942.5,485 942.5,472.5 920,467.5 902.5,472.5 905,510ZM837.5,552.5 855,547.5 867.5,552.5 875,542.5 892.5,532.5 886.6,522.7 882.5,525 867.5,515 865,510 858.8,502 836.2,502.5 835,542.5ZM875,542.5 867.5,552.5 857.5,555 860,570 870,577.5 871.2,587.5 870,597.5 872.5,602.5 880,605 882.5,612.5 910,605 915,582.5 907.5,567.5 917.5,560 916.2,547.5 917.5,533.8 910,517.5 905,510 900,515 886.6,522.7 892.5,532.5ZM1075.7,517.5 1074.5,517.6 1075.7,519.4ZM1011.2,631.2 1011.2,630 1010,627.4 1010,630ZM790,620 800,630 822.5,627.5 835,622.5 835,620 831.2,608.8 825,607.5 820,596.2 792.5,593.8 783.8,600 783.8,613.8ZM777.5,662.5 780,672.5 785,680 807.5,677.5 800,660 785,650 797.5,640 777.5,646.2 760,645 760,660ZM872.5,620 890,621.2 893.8,616.2 896.2,621.2 908.8,622.5 912.5,632.5 918.8,635 915,641.2 905,642.5 915,655 940,650 942.5,620 935,607.5 910,605 882.5,612.5 880,612.5ZM930.9,698.2 927.1,698.2 927.5,698.5 930.6,698.5ZM950,675 962.5,672.5 975,672.5 975,660 955,660 940,650 915,655 903.8,658.8 895,660 895,680 895,693 920,693 924.9,696.6 927.5,694.8 920,687.9 937.3,687.9 945,682.5ZM895,680 835,682.5 835,695.9 877.4,695.9 877.5,693 895,693ZM785,680 777.5,692.3 808.7,692.3 807.5,677.5ZM1082.5,360 1088.8,353.8 1085,347.5 1080,345 1080,335 1076.3,335 1076.3,366.2ZM1053.8,411.2 1053.8,410 1053.8,372.5 1035,373.8 1027.5,360 1013.8,357.5 1012.5,411.2ZM1092.5,412.5 1100,418.8 1112.5,412.5 1115,403.8 1125,400 1131.2,410 1140,395 1135,380 1113.8,377.5 1107.5,385 1105,391.2 1087.5,391.2 1085,402.5ZM1135,380 1140,395 1140,403.8 1147.5,392.5 1152.5,391.2 1152.5,372.5 1140,370 1140,351.2 1113.8,352.5 1113.8,377.5ZM1012.5,411.2 1017.5,435 1019.3,440.5 1025,445 1033.3,441.7 1040,435 1037.5,412.5 1056.7,411.4 1053.8,411.2ZM1100,457.5 1107.5,450 1113.9,441.5 1112.5,431.2 1082.2,430.2 1082.2,453.9ZM1130,460 1148.8,452.5 1150,433.8 1137.5,432.5 1112.5,431.2 1115,450ZM1187.4,447.8 1189.2,447 1193.8,449.2 1199.2,451 1204.3,449.3 1204.6,447.3 1204.6,445.1 1205,445 1205,445 1205.2,445 1211.8,443.1 1212.7,443.5 1217.5,442.5 1229.9,443.6 1231.2,443.1 1229.6,432.9 1229.4,432.5 1212.5,432.5 1187.5,432.5 1186.4,447.5ZM1085,492.5 1100,492.5 1104.4,477.2 1100,457.5 1082.2,453.9 1082.2,457.5 1070,458.4 1070,480 1066,481 1070,485ZM1095,515 1105,512.5 1128.8,510 1130,485 1105,480 1100,492.5 1085,492.5 1090,510ZM1187.5,527.5 1207.5,528.8 1207.6,529.7 1208.8,529.9 1208.8,529.3 1208.7,529.2 1208.7,513.8 1208.8,513.8 1208.8,512.5 1217.2,507.7 1207.7,507.7 1207.7,492.3 1202.6,492.3 1201.5,488.2 1207.7,487.2 1207.6,486.7 1206.2,485 1192.5,487.5 1188,482.5 1185,510ZM1110,525 1113.8,537.5 1112.5,550 1125,551.2 1150,547.5 1151.2,532.5 1162.5,532.5 1165,525 1170,522.5 1170,510 1160,512.5 1147.5,512.5 1143.8,500 1128.8,510 1105,512.5ZM1012.5,555 1012.5,554.7 1011.5,554.6 1011.9,560.1ZM1010.6,570.1 1010,570.1 1010,575ZM1019.9,576.6 1010,575 1010,581.5 1012.5,582.5ZM1048.8,550.2 1052,550.6 1050,550ZM1210,570 1232.5,571.2 1254.4,570 1254.5,547.5 1247.5,547.5 1244.8,547.5 1244.6,547.7 1229.2,547.7 1229.2,530.8 1223.1,530.3 1211.8,531.3 1208.8,529.3 1208.8,548.8ZM1175,608.6 1218.8,607.5 1222.5,588.8 1210,587.5 1190,588.8 1188.8,582.5 1172.5,582.5 1172.5,595ZM1175,630 1217.5,627.5 1218.8,607.5 1167.5,608.8 1170,622.5ZM1106.2,635 1120,645 1140,642.5 1150,635 1152.5,620 1132.5,607.5 1131.2,592.5 1120,592.5 1115,605 1110,620ZM1075,660 1087.5,657.5 1095,670 1110,670 1125,665 1120,645 1106.2,635 1095,640 1075,642.5 1061.2,632.5 1062.5,650 1073.7,650 1073.7,661.3ZM1195.8,710.7 1193.8,706.5 1193.2,710.7ZM1207.1,691.6 1205,691.6 1207.5,687.5 1205,672.5 1200,665 1194.4,657.6 1177.5,660 1172.5,672.5 1150,675 1152,697.1 1200,697.1 1203.8,706.5 1200,694.7 1206.7,694.7ZM673.8,799 698.8,799 700,784 732.5,781.5 732.5,756.5 680,756 677.5,774ZM760,791.5 775,781.5 780,771.5 775,761.5 738.8,755.2 732.5,756.5 732.5,781.5ZM632.5,835.2 620,835.2 618.8,852.8 635,859 655,856.5 670,859 677.5,866.5 690,871.5 697.5,854 700,834 710,821.5 707.5,804 698.8,799 673.8,799 670,806.5 660,816.5 658.8,835.2ZM690,871.5 712.5,875.2 720,889 732.5,901.5 745,901.5 747.5,904 760,896.5 765,881.5 772.5,871.5 777.5,869 775,865.2 765,861.5 757.5,854 757.5,845.2 747.5,842.8 757.5,831.5 751.2,819 725,814 710,821.5 700,834 697.5,854ZM760,791.5 770,794 780,806.5 790,809 796.2,819 796.2,834 796.2,835.2 796.2,856.5 797.5,859 812.5,846.5 822.5,829 830,816.5 835,804 855,781.5 855,764 835,761.5 832.5,757.8 817.5,757.8 810,769 780,771.5 775,781.5ZM835,804 842.5,811.5 843.8,826.5 855,829 872.5,829 882.5,819 902.1,801.6 902.1,774 896.9,774 896.9,773.5 887.5,772.8 886.2,759 873.8,752.8 865,759 855,764 855,781.5ZM1036.2,724 1065,721.5 1045,714ZM882.5,819 895,821.5 902.1,825 902.1,801.6ZM907.5,842.2 923.5,850.7 923.6,850.7 907.7,842.1ZM988,843.5 995,836.5 992.5,835.2ZM982.2,849.3 981.7,849.3 980.2,851.2 980.2,851.3ZM872.5,894 870,919 882.5,929 892.5,914 893.4,909.5 893.4,901.5 895,901.6 895,901.5 907.5,894 900,884 900,861.5 887.5,864 875,871.5 862.5,871.5 862.5,891.5ZM785,924 780,949 787.5,944 797.5,929 807.5,931.5 822.5,899 781.2,899 781.2,909ZM831.2,946.5 832.5,969 875,964 878.8,954 880,939 882.5,929 870,919 835,919 837.5,946.5ZM1047.5,909 1047.5,906.5 1042.5,911.5ZM1031.2,884 1030.9,878 1030,884ZM846.2,1005.2 847.5,1005.2 860,996.5 865,976.5 885,974 897.5,969 895,957.8 878.8,954 875,964 832.5,969 831.2,990.2ZM742.5,1036.5 757.5,1039 772.5,1034 785,1024 795,1005.2 735,1004 730,1031.5ZM702.5,1056.5 705,1059 708.1,1066.5 709.9,1070.8 709.9,1070.8 711.2,1074 711.9,1081.5 712.2,1085.5 712.5,1087.5 713,1090.4 713.5,1092.4 714.4,1095.2 715.2,1098.1 715.2,1098.1 716.2,1101.5 715,1104.8 715,1104.8 714.4,1106.5 713.7,1108.2 713.4,1110.2 713.6,1112.2 714.1,1113.8 714.4,1114.2 714.7,1114.7 716,1115.8 717.8,1116.6 719.8,1117 731.5,1117 732.5,1117 735,1076.5 732.5,1061.5 727.5,1049 715,1051.5 695,1049 697.5,1051.5ZM855,1104 870,1101.5 872.5,1091.5 882.5,1086.5 880,1074 855,1076.5 845,1081.5 845,1099ZM828.8,1126.5 821.2,1129 820.9,1132.6 882.5,1132.6 882.5,1119 882.5,1114 870,1101.5 855,1104 845,1099 830,1104 825.3,1120.4 828.8,1120.2ZM1062.9,1087.9 1065,1081.5 1039.8,1085.7ZM1075.2,1081.5 1065,1081.5 1075.2,1082.1ZM1075.2,1070.6 1065,1074 1075,1074 1075.2,1073.8ZM1075.2,1037.7 1072.7,1035.5 1071.3,1036.3 1072.5,1036.5 1075.2,1038.3ZM1056.2,1006.5 1055,1006.5 1054.5,1008.8ZM1077.1,973.2 1060,971.5 1057.5,971.5 1077.1,973.3ZM1025.8,967.9 1025,961.5 1025,967.3ZM1009.4,945.2 1012.5,946.5 1010,945.2 1009.4,945.1ZM1062.5,749 1062.5,759 1080,766.5 1095,764 1115,759 1133.8,746.5 1132.5,715.2 1116.2,714 1080,715.2 1065,721.5 1036.2,724 1035,740.2 1054.6,747.9ZM987.5,774 995,804 1010,809 1015,804 1027.5,789 1036.2,786.1 1036.2,774 1030.4,771.5 1027.5,771.5 1017.5,756.5 1020,751.5 995,756.5 986.5,722.5 977.5,731.5 985,759 980.8,767.3ZM1000.1,789 1000,788.5 1007.5,786.5 1016.2,790.2 1016.2,790.7 1016.2,790.8 1015,796.5 1001.2,796.5 1000,789ZM1135,799 1133.8,816.5 1140,816.5 1165,816.5 1168.8,814 1182.5,809 1184,794.4 1182.5,774 1187.5,751.5 1165,752.8 1150,744 1133.8,746.5 1142.5,779ZM1027.5,919 1017.5,924 1020,926.5ZM1047.5,906.5 1047.5,884 1031.2,884 1030,884 1025.6,903.8 1027.5,919 1042.5,911.5ZM1063.8,931.5 1090,925.2 1107.5,924 1102.5,919 1103.8,905.2 1080,904 1079.4,904.1 1079.4,906.5 1060,906.5 1061.3,926.7ZM1063.2,944 1083.7,945.2 1083.7,961.5 1050,964 1050.2,967.1 1057.5,971.5 1060,971.5 1085,974 1099.2,985.9 1100.3,985.2 1105,966.5 1112.5,956.5 1107.5,951.5 1107.5,924 1090,925.2 1063.8,931.5 1063.8,944ZM1013.8,953.2 1022.5,959 1022.8,961 1025,961.5 1025.8,967.9 1027.5,969 1031.2,964 1035.5,957.6 1040,945.2 1037.5,945.2 1034.8,939.2 1034.8,939.2 1032.5,936.5 1031.8,934 1030,934 1022.5,939 1010,945.2 1012.5,946.5ZM1093.8,1031.5 1112.5,1034 1121.2,1026.5 1126.2,1019 1126.2,1006.5 1132.5,994 1120,984 1102.5,984 1099.2,985.9 1100,986.5 1093.8,989 1092.5,1014ZM1065,1081.5 1107.5,1081.5 1107.5,1076.5 1075,1074 1065,1074 1045,1061.5 1042.7,1062.4 1035,1074 1035,1085.2 1039.8,1085.7ZM998.8,1102.1 997.8,1102.1 997.5,1102.8 997.5,1136.3 998.8,1136.3ZM937.5,1133.5 938.1,1136.9 938.4,1136.9 937.5,1132.2ZM963.6,1136.3 963.7,1136.3 960,1114ZM1086.7,1134.5 1085,1104 1085,1082.8 1065,1081.5 1062.9,1087.9 1074,1089 1074,1134.5ZM1087,1141.1 1111.2,1141.1 1111.2,1135.1 1112.5,1135.1 1112.5,1128.7 1112.5,1081.5 1112.5,1080.2 1107.5,1081.5 1085,1082.8 1085,1104ZM1176.2,1081.5 1157.5,1080.2 1112.5,1081.5 1112.5,1128.7 1175,1128.7 1175,1126.6 1176.2,1126.6ZM1193.8,1096.5 1200,1096.5 1212.5,1094 1225,1104 1236.2,1096.5 1235,1092.8 1234.8,1092.2 1234.8,1092.1 1233.8,1089 1236.9,1085.2 1237.8,1084.2 1238.2,1083.7 1240,1081.5 1233.8,1074 1225,1061.5 1217.5,1049 1210,1031.5 1198.8,1014 1190,1013.5 1190,1026.5 1185,1031.5 1191.2,1049 1191.2,1080.2ZM965,1533 972.5,1535.5 980.8,1527.2 981.7,1525.9 982.9,1524.2 984.7,1521.8 985.9,1520.3 991.6,1513.2 992.3,1512.5 987.5,1500.5 972.5,1498 958.8,1505.5 958.8,1523ZM998.8,1215.5 1010,1225.5 1010,1233 1035,1235.5 1053.8,1234.2 1055,1218 1055,1215.5 1055,1185.5 1015,1186.8 996.2,1184.2 996.2,1190.5ZM1072.5,1233 1087.5,1234.2 1095,1240.5 1104.7,1236.6 1095,1238 1090,1223 1070,1220.5 1062.5,1215.5 1102.5,1215.5 1102.6,1213.8 1101.2,1214.2 1055,1215.5 1065,1220.5ZM1130,1238 1112.5,1235.5 1110.3,1235.8ZM1141.2,1255.5 1145.4,1250.6 1146.2,1238 1135,1248ZM830,1260.5 847.5,1258 857.5,1263 872.5,1268 875,1258 865,1249.2 857.5,1238 846.2,1233 840,1233 825,1243 822.5,1253ZM847.5,1276.8 852.5,1288 862.5,1289.2 890,1289.2 895,1288 883.8,1273 875,1258 872.5,1268 857.5,1263 847.5,1258 830,1260.5 840,1273ZM978.8,1278 990,1274.2 1005,1278 1007.5,1255.5 1006.2,1239.2 980,1240.5 978.8,1258ZM982.5,1310.5 1008.8,1310 1015,1309.2 1013.8,1288 1005,1278 990,1274.2 978.8,1278 978.8,1309.2ZM1005,1328 1001.2,1335.5 1006.2,1347.5 1010,1348 1027.5,1348 1030,1348 1052.5,1345.5 1052.5,1313 1052.5,1310.5 1008.8,1310 1010,1323ZM943.8,1345.5 977.5,1347.5 981.2,1328 982.5,1310.5 978.8,1309.2 972.5,1310.5 960,1318 950,1325.5 945,1335.5ZM915,1401.8 916,1402.8 916.5,1403.2 917.5,1404.2 932.5,1404.2 931.2,1413 932.5,1423 947.5,1418 955,1415.5 955,1390.5 957.5,1379.2 950,1371.8 937.5,1368 935,1368 935,1378 920,1378 917.5,1393ZM1015,1385.5 1027.5,1379.2 1033.8,1385.5 1052.5,1388 1053.8,1365.5 1035,1366 1033.8,1365.5 1015,1368 1005,1361.8 1006.2,1378 1005,1388ZM1130,1285 1110,1283 1110,1286.8 1120,1288 1130,1288ZM1103.8,1308 1103.8,1316.3 1105,1313 1105,1306.5ZM1097.5,1335.5 1095.8,1347.3 1096,1347.4 1100,1348 1097.8,1335.1ZM1120,1360.5 1112.5,1360.5 1115,1370.5ZM1215,1212.5 1215,1203 1226.2,1200.5 1225,1188 1220,1170.5 1215,1151.8 1188.8,1151.8 1188.8,1212.5ZM1255,1150.5 1255,1138.6 1212.5,1138.6 1215,1150.5 1214.5,1150.5 1215,1151.8ZM1183.8,1150.5 1175,1149.2 1175,1128.7 1112.5,1128.7 1112.5,1135.1 1168.8,1135.1 1168.8,1151.1ZM1105,1313 1103.8,1316.3 1103.8,1328 1097.8,1335.1 1100,1348 1101,1350.9 1107.5,1355.5 1108.5,1358.5 1112.5,1360.5 1120,1360.5 1130,1355.5 1138.7,1354.2 1142.5,1353 1135,1345.5 1132.6,1334.7 1130,1333 1130,1323 1130,1288 1120,1288 1110,1286.8 1110,1300.5 1105,1306.5ZM1181.5,1283.2 1182.7,1281.6 1183.7,1280.3 1181.2,1268 1175,1273 1168.3,1278.1 1168.3,1281.3 1180.7,1283 1180.7,1284.2ZM1145,1278 1145.9,1278.1 1142.5,1273Z"/>
<path fill="#5a9fbe" stroke="#5a9fbe" stroke-width="0.7" d="M1254.1,795.5 1253.8,796.7 1253.8,802 1253.8,823.8 1254.1,824ZM1168.9,568.1 1168.7,568 1166.2,580 1165,587.5 1166.8,602.6 1167.6,602.7 1172.3,582.4 1167.5,580 1170.2,568.7ZM900.3,965.3 901.1,964.2 900.3,964.4ZM689.1,692.1 672.8,692.1 672.1,694.8 671.6,696.4 697,696.4 692.2,693.8ZM1208.4,543.2 1208.8,548.8 1208.8,543.3ZM646.2,735 645.6,737.9 645,739.8 646.2,736.5 646.5,733ZM643.7,743.2 642.8,744.9 641.1,747.1 640.9,747.3 642.5,746.5 644.4,741.5ZM1206,357 1206,356.9 1206.5,355.6 1206.9,353.8 1207.1,352.5 1206.2,352.6 1205.5,357.3ZM1205.7,334.4 1204,333.7 1168.5,333.5 1170.4,335 1178.8,335 1205.8,334.5 1206.8,335.5ZM1193.8,354.1 1193.8,353.8 1192.5,343.8 1192.9,353.4 1193.4,353.8ZM724.9,600.9 732.5,600 725.6,600.7ZM720.1,602.9 722.5,610 722.5,601.9ZM1121.4,985.1 1132.5,994 1138.8,976.5 1122,983.2 1121.7,984.2ZM1058.1,332.7 1006.1,332.3 1009.1,333.7 1012.5,333.8 1047.5,334.2 1058.2,334.3ZM1030,934 1031.8,934 1027.5,919 1020,926.5ZM1044.1,1310.4 1052.5,1310.5 1044,1310.2ZM1053.1,1328.5 1052.5,1313 1052.5,1327.3ZM1000.5,631.3 1011.2,632.5 1011.2,631.2 1010,630 1000.5,631.2ZM1011.2,642.9 1011.2,632.5 1010.5,643.1ZM1139.3,816.7 1139.4,816.5 1133.8,816.5 1129.2,823.3 1129.6,823.3 1129.8,823.3 1139.1,817.1ZM924.4,1230.5 937.5,1230.5 942.5,1224.2 931.2,1229.2 924.3,1230.2 924.4,1230.5ZM1197.5,640 1185,642.5 1192.8,654.2ZM1245.7,691.6 1236.5,691.6 1236.7,693.8 1239.3,694.5ZM699,795.6 698.8,799 707.5,804 702.8,791.4ZM776.7,1130 775,1131.5 772.5,1130.8 772.5,1130.8 773.5,1131.2 776.3,1132.3 778.1,1133.2 781.9,1135.3 783.8,1136.1 786.5,1137 786.9,1137 783.8,1129.1ZM804.3,1141.7 805.9,1142.7 807.7,1144.2 807.8,1144.1 804.6,1141.6 803.9,1141.6ZM1013.8,511 1015,512.5 1016.2,525 1010,531.2 1022.1,529 1017.5,517.5 1014.9,510.6ZM710.5,874.9 690,871.5 677.5,866.5 677.5,875.2 710.3,875.2ZM715.5,1100.1 715.4,1102.8 715,1104.8 716.2,1101.5 715.2,1098.1ZM1002.7,1382.1 1001.2,1383.8 1001.8,1391.2 1005,1388 1005.8,1382ZM1004.6,1423.2 1007,1422.3 1004.5,1422.3ZM1058.1,1033.4 1061.4,1034.8 1070.9,1036.3 1070.9,1035.1 1060,1034 1058.8,1031.5 1056.2,1026.5 1056.2,1006.5 1054.5,1008.8 1052.5,1019 1048.3,1017.8 1047.6,1018.9 1052.5,1020.2 1055.8,1032.3ZM1085.9,1178.4 1101.2,1179.2 1104,1179.2 1104,1179 1085.9,1178.4ZM833.3,673.5 833,673.6 834.5,700.6 835,700.4 835,695.9 835,682.5 833.8,674.2ZM800,698.4 803.9,700.2 809.3,700.2 808.7,692.3 799.5,692.3ZM805.9,1219.4 807.5,1220.5 810,1219.2 807.7,1218.4ZM799,1231.1 808.8,1233 807.5,1230.5 799,1230.5ZM822.5,1253 825,1243 811.2,1243ZM1186.1,432.5 1187.5,432.5 1204.1,432.5 1202.9,431.5 1192.4,430.2 1189.1,430.5ZM1186.4,448.2 1187.4,447.8 1186.4,447.5ZM722.2,755.5 711.3,755.6 710.5,756 709.9,756.3 724.2,756.4ZM799,1230.5 796.2,1230.5 799,1231.1ZM787.3,1227 787.2,1227.5 796.2,1230.5 787.8,1225.7ZM783.1,1240.9 782.2,1242.1 782.9,1242.5 783.1,1240.8 784,1239.2ZM1155.4,432.5 1151.2,432.5 1137.5,432.5 1150,433.8 1156.4,433.4ZM1150,449.9 1150,433.8 1148.9,451ZM863.4,331.3 865,332.1 877.5,332.5 879.5,332.5 880.4,331.4ZM1024.5,450 1022.5,450 1022.1,450.6 1024.6,450.2ZM806.2,375 815,376.2 815,382.5 807.5,387.5 807.5,395 810,400 846.2,400 845,370 842.5,352.5 824.4,351.2 820,351.2 817.3,350.8 806.2,350 805.5,354.3 805.5,358.2 804.8,358.2 804.5,360ZM796.2,411.2 797.5,412.5 797.5,412.5 800,415 802.2,417.5 802.6,417.9 804.5,420 804.9,423.5 804.9,423.5 805.4,427.5 805.8,431.5 806.1,433.5 806.6,436.5 807,438.4 807.5,440.6 808.8,446.2 807.5,462.5 837.5,462.5 837.5,436.2 837.5,435 847.5,425 846.2,401.2 810,401.2 782.7,403.7 784.5,404.5 789.2,406.3 789.3,406.3 792.5,407.5ZM754.5,579.1 758.6,576 757.5,556.2 741.7,556.2 741.3,556.4 745,580ZM670,692.1 777.5,692.1 785,680 780,672.5 777.5,662.5 760,660 757.5,645 735,645 722.5,652.5 705,657.5 687.5,667.5 671.2,670ZM1022.5,651.8 1020,650 1012.5,650 1012.5,651.2ZM1057.5,625 1054.1,625.4 1057.9,629.2ZM936.2,561.2 945,560 960,580 972.5,572.5 970,555 965,542.5 941.2,540 940,552.5ZM905,510 910,517.5 917.5,533.8 932.5,533.8 941.2,540 965,542.5 975,532.5 972.5,515 972,515 955,515 950,502.5 930,488.8 920,500ZM950,502.5 955,503.8 972,503.8 975,503.8 977.5,502.5 977.5,500 982.6,499.7 985,490 982.5,475 965,457.5 953.8,460 942.5,485ZM779.4,513.6 778.7,515.3 777.5,522.5 790,517.5 800,522.5 806.2,530 806.2,542.5 835,542.5 836.2,502.5 817.5,502 798.8,491.2 794.4,494.4 792.8,495.5 791.3,496.7 789.1,498.7 787.7,500.2 786.2,501.9 784.8,503.6 784.8,503.6 783.6,505.2 782,507.7 781.1,509.5 780.7,510.4 780.1,511.8ZM1140.6,562.5 1145,570 1144.7,570.6 1145,571.2 1143.2,573.5 1140,580 1137.6,580.8 1136.2,582.5 1138.8,587.5 1165,587.5 1166.2,580 1168.8,567.5 1172.5,558.8 1172.5,550 1131.2,551.2 1135.7,554.8 1136.2,555 1136.5,555.5 1137.5,556.2ZM1020,650 1037.5,662.5 1053.8,660 1053.8,652.5 1062.5,650 1061.2,632.5 1052.5,623.8 1025,627.5 1011.2,630 1011.2,632.5 1011.2,650ZM1046,688.3 1104.9,688.3 1100,685 1095,670 1087.5,657.5 1075,660 1065,670 1057.5,685ZM1040,690 1037.5,695.7 1044.1,695.7 1043.8,688.9ZM1117.5,695.7 1115.3,694.4 1115.4,695.7ZM1145,665 1150,675 1172.5,672.5 1177.5,660 1194.4,657.6 1192.5,655 1192.8,654.2 1185,642.5 1177.5,630 1160,630 1150,635 1140,642.5 1120,645 1125,665ZM646.5,733 646.5,733 646.2,736.5 660,737.8 670,740.2 678.8,754 678.7,754 680,756 738.8,755.2 738.8,739 746.2,731.5 747.5,716.5 777.5,716.5 777.5,696.4 661.4,696.4 660.7,697.7 659,700.2 657.9,701.8 654.6,706.2 654.4,706.4 648.7,716.8 648.4,717.7 647.6,720.5 647.3,722.5 646.9,727.8ZM835,1076.5 845,1081.5 855,1076.5 880,1074 880,1061.5 880,1054 883.2,1055.1 883.8,1054 883.8,1040.2 865,1037.8 847.5,1032.8 840,1039 831.2,1041.5 830,1049 817.5,1051.5 810,1059 822.5,1071.5ZM979,970 975,966.5 970,963.2 970,964ZM980,991.5 986.2,976.5 995,971.5 1025,974 1024.3,972.7 995,970.2 985,975.2 984.7,975ZM975,1009 976.6,1010.1 975.4,1007.5ZM990,1019 1016.8,1021.4 1017.5,1011.5 1017.6,1011.3 1017.5,1010.2 1018.1,1010.4 1018.8,1009.4 1017.5,1009 1018.8,996.5 1016.2,1019 988.6,1018ZM1022.5,959 1013.8,953.2 1015,959 1022.8,961ZM970,951.5 970,957.3 974.4,950ZM782.5,1004 807.5,1002.8 803.8,986.5 807.5,974 807.5,949 810,944 807.5,931.5 797.5,929 787.5,944 780,949 771.2,964 782.5,974ZM738.8,755.2 775,761.5 780,771.5 810,769 817.5,757.8 815,744 816.1,708.7 810,708.7 809.8,706.1 777.5,716.5 746.2,731.5 738.8,739ZM710,821.5 725,814 751.2,819 757.5,816.5 757.5,799 760,791.5 732.5,781.5 700,784 707.5,804ZM900,884 907.5,894 901.5,884 901.5,852.5 900,861.5ZM974.5,875.6 975,875.2 975.1,875.5 982.5,874 982,869.3 973.4,875.8ZM980,849 970.3,850.2 980,851.5 980.2,851.3ZM923.5,850.7 925,851.5 942.5,846.5ZM1075.1,859.9 1075,859 1060,856.5 1042.5,856.5 1035,864 1060,857.8 1073.6,860ZM1083.6,809 1077.6,810.2 1083.6,810.2ZM1047.5,816.5 1037.1,810.2 1035,811.5 1022.5,819 1025,834 1029.8,837.6 1035,837.8 1042.5,856.5 1037.5,841.5 1057.5,826.5 1072.5,821.5 1074.9,810.8ZM835,919 870,919 872.5,894 862.5,891.5 862.5,871.5 837.5,869 827.5,876.5 832.5,896.5ZM1060,856.5 1075,859 1076.2,866.5 1095,866.5 1095,810.2 1075,810.2 1072.5,821.5 1057.5,826.5 1037.5,841.5 1042.5,856.5ZM1117.5,884 1126.2,890.2 1136.2,885.2 1136.2,854 1125,849 1121.5,852.5 1122.5,854 1115,859 1112.5,874ZM980,1017.8 1016.2,1019 1018.8,996.5 1025,992.3 1025,974 995,971.5 986.2,976.5 980,991.5 975,1006.5ZM985,975.2 995,970.2 1024.3,972.7 1020,964 1025,967.3 1025,961.5 1015,959 1012.5,946.5 1009.1,945.1 998.8,942.8 998.8,940.6 995,939 975,949 967.5,961.5 975,966.5ZM1217.5,1049 1225,1061.5 1233.8,1074 1240,1081.5 1241,1080.3 1241.8,1079.3 1243.1,1077.8 1244,1076.7 1244.9,1075 1245.7,1072.5 1245.8,1070.5 1245.6,1069 1245.4,1067.5 1245.1,1065.5 1244.4,1062.6 1243.8,1060.7 1243.1,1059 1241.2,1054 1242.8,1050.9 1243.4,1049.6 1245,1046.5 1249.4,1044 1250.7,1043.2 1252.1,1041.9 1253.3,1039.9 1253.8,1038 1253.8,1014.5 1198.8,1014 1210,1031.5ZM1255.6,1136.2 1255.7,1135.7 1255.7,1134.5 1253,1125.5 1252.9,1125.4 1251.6,1122.8 1250.6,1121 1249.4,1119 1246.2,1114 1245,1109 1244.6,1107.4 1243.9,1105.6 1242.5,1103.1 1242.2,1102.8 1237.5,1099 1225,1104 1212.5,1094 1200,1096.5 1203.8,1126.6 1210,1126.6 1212,1136.2ZM1165,752.8 1187.5,751.5 1192.5,744 1191.2,726.5 1193.8,706.5 1152.5,709 1150,744ZM1232.5,744 1230,704 1211.2,706.5 1212.5,742.8ZM1210,780.2 1253.8,779 1253.8,714 1235,714 1232.5,745.2 1197.5,747.8 1205,761.5ZM1136.2,852.8 1150,849 1173.8,846.5 1169.8,820.6 1165,816.5 1140,816.5 1128.8,824 1128.8,841.5ZM1183.8,848.5 1185.9,857.7 1225,855.2 1217.5,847.8 1202.5,841.5 1198.8,816.5 1182.5,809 1168.8,814 1173.8,846.5ZM1230,891.5 1222.5,899 1224.7,927 1245.8,930.2 1253.8,930.2 1253.8,865.2 1245,865.2 1242.5,856.5 1227.5,855.4 1227.5,874ZM1223.8,924 1222.5,899 1227.5,891.5 1225,874 1192.5,884 1195,925.8 1207.2,925.4ZM1246.2,966 1253.8,965.2 1253.8,931.5 1213.8,925.2 1215,959 1230,957.8 1235,960.2 1245,961.5 1246.1,965.9ZM907.5,894 920,889 933.9,890.4 935,890.2 957.9,885 960,884 970,876.5 971.9,877 982.5,869 980,851.5 942.5,846.5 925,851.5 907.5,842.2 902.5,846.5 901.5,852.5 901.5,884ZM1000,879 1030,884 1030.9,878 1030,865.2 1035,864 1042.5,856.5 1035,837.8 995,836.5 980,851.5 982.5,869ZM1047.5,884 1075,874 1075,860.2 1060,857.8 1030,865.2 1031.2,884ZM1065,721.5 1080,715.2 1116.2,714 1115,688.3 1043.8,688.3 1045,714ZM1032.5,1480.5 1036.4,1496.9 1037.5,1498 1040,1511.8 1049.8,1518.6 1051.5,1519.4 1053.4,1520.1 1056.6,1520.9 1058.5,1521.5 1061.2,1522.7 1063,1523.6 1067,1526.1 1068.7,1527.2 1071.2,1528.9 1071.4,1529.1 1083.6,1535.9 1086.5,1536.3 1088.3,1536.3 1091.7,1535.9 1092.6,1535.7 1093.6,1535.3 1095,1534.2 1095.8,1533.4 1100.5,1520.2 1100.5,1517.9 1100.1,1515.9 1098.8,1511.8 1097.7,1509.1 1096.6,1506.8 1095.6,1505 1093.3,1501.3 1087.5,1493 1088.4,1489.5 1088.3,1489.3 1088.3,1486.6 1088.5,1484.6 1090.2,1478.9 1090.9,1477 1092.2,1474.3 1092.2,1474.2 1092.5,1473 1093.5,1471.9 1095.6,1468.5 1096.9,1466.9 1098.9,1464.8 1100.4,1463.6 1101.9,1462.6 1103.8,1460.5 1103.8,1458 1103.8,1423 1053.8,1423 1053.8,1479.2ZM840,1348.6 839.6,1349.1 838.9,1350.9 838.8,1352.9 839.2,1354.8 840,1356.1 840.8,1357.5 842,1359 844,1360.6 845.6,1361.5 846.2,1361.8 846.9,1362 848.7,1362.1 851.1,1361.8 852.9,1361.1 853.8,1360.5 857.5,1358 862.5,1361.1 864.5,1362.4 864.5,1362.4 867.5,1364.2 870.1,1366.6 874.9,1370.7 876.4,1372 878.8,1373.8 880.4,1374.9 881.2,1375.5 882.1,1376.1 882.1,1376.1 885,1378 887.1,1380.6 887.5,1381.1 890,1384.2 890,1368 893.8,1358 887.5,1356.8 882.5,1346.8 877.5,1341 868.8,1338 860,1335.5 852.5,1330.5 840,1330.5 840.2,1332 842.5,1338 841.4,1338.8 842.5,1345.5ZM855,1311.8 845,1313 838.8,1328 840,1330.5 852.5,1330.5 860,1335.5 868.8,1338 871.2,1328 880,1326.8 886.2,1320.5 894,1324.4 893.8,1321.8 900.6,1321.8 902.5,1320.5 901.2,1308 892.5,1303 890,1289.2 862.5,1289.2 862.5,1304.2ZM901.2,1338 895,1346.8 893.8,1358 890,1368 890,1384.2 891.2,1387.4 891.5,1387.9 892.5,1389.3 894.1,1390.6 895.9,1391.5 896.9,1391.8 897.9,1392 897.9,1392 901.2,1393 903.9,1395.1 903.9,1395.1 904.4,1395.5 904.9,1395.9 906.5,1397 908.9,1398.6 910.6,1399.6 911.9,1400.2 915,1401.8 917.5,1393 920,1378 935,1378 935,1368 932.5,1353 927.5,1346.8 926.2,1335.5 915,1328 902.5,1321.8 893.8,1321.8 894,1324.4 896.2,1325.5 895,1335.5ZM937.5,1368 950,1371.8 957.5,1379.2 958.8,1370.5 977.5,1369.2 978.8,1365.5 977.5,1348 977.5,1348 977.5,1347.5 931.2,1347.5 932.5,1353ZM1038.2,1421.9 1040,1420.5 1052.5,1420.5 1052.5,1416.8 1035,1415.5 1035,1400.5 1030,1393 1033.8,1385.5 1027.5,1379.2 1015,1385.5 1005,1388 995,1398 987.5,1409.2 990,1422.5ZM1095,1283 1100,1278 1093.8,1265.5 1095,1240.5 1087.5,1234.2 1072.5,1233 1065,1220.5 1055,1218 1055,1281.8ZM1135,1345.5 1142.5,1353 1157.5,1355.5 1159.9,1353.6 1147.5,1350.5 1137.5,1338 1132.6,1334.7ZM1167.8,1330.3 1167.5,1330.5 1168.1,1332.4ZM1173,1317.3 1172.9,1316.6 1173.3,1315.7 1171.2,1316.8 1173.9,1318.3ZM1180.7,1294 1179.7,1292.4 1180.7,1294.4ZM1178.7,1289.2 1179,1287.1 1179.7,1285.3 1180.7,1284.2 1180.7,1283 1168.3,1281.3 1168.3,1281.8 1157.9,1280.5 1147.5,1280.5 1145.9,1278.1 1145,1278 1138.3,1283 1142.5,1280.5 1175,1289.2 1177.5,1288 1179.1,1291.1ZM1130,1288 1134.3,1285.4 1130,1285ZM1042.5,1273 1050,1280.5 1053.8,1281.8 1053.8,1234.2 1035,1235.5 1036.2,1263ZM771.4,1264.6 771,1266.6 770.7,1269.5 770.7,1271.5 770.9,1274.2 771,1277 771.3,1279 771.9,1281.9 772.5,1283.8 773.1,1285.5 773.8,1287.2 774.6,1289 776,1291.6 777.1,1293.3 778.8,1295.5 780.4,1297.7 781.7,1299.3 783.6,1301.5 785,1303 790,1308 791.5,1309.4 793.8,1311.2 795.5,1312.4 797.5,1313.6 799.5,1314.9 801.2,1316 802.5,1316.8 808.8,1311.8 802.5,1303 800,1293 792.5,1278 790,1263 788.8,1249.2 780,1245.5 779.2,1246.8 778.1,1248.5 776.9,1250.5 775.6,1252.5 774.7,1254.3 773.5,1257 772.9,1258.9 772.1,1261.8ZM987.5,1155.5 992.5,1153 1007.5,1150.5 1017.5,1149.2 1016.8,1141.7 998.8,1141.7 998.8,1139.5 998.8,1136.3 997.5,1136.3 997.5,1144.1 965,1144.1 963.7,1136.3 961.2,1136.3 963.8,1153ZM1180,1248 1181.2,1268 1183.7,1280.3 1184.3,1279.4 1185.3,1277.9 1185.6,1277.4 1185.9,1276.9 1187.5,1274.2 1190.6,1275.3 1190.7,1275.3 1191.2,1275.5 1191.9,1275.7 1193.7,1275.9 1195.9,1275.7 1197.6,1275.2 1198.1,1274.9 1198.6,1274.6 1200,1273.3 1201.5,1271.4 1202.5,1269.7 1203.1,1268 1203.8,1266.3 1203.8,1266.3 1205,1263 1208.1,1259.2 1209,1258.2 1210.2,1256.6 1212,1254.2 1213.1,1252.5 1214.4,1250.5 1215.6,1248.5 1216.6,1246.7 1217.7,1244 1218,1242.8 1220,1233 1212.5,1225.5 1208.8,1221.8 1205,1214.2 1182.5,1213 1182.5,1238ZM1225,1188 1226.2,1200.5 1215,1203 1215,1212.5 1233.8,1213 1235.3,1209.9 1237.2,1206.1 1238.8,1203 1240.5,1200 1240.5,1200 1241.2,1198.6 1243.8,1194.2 1248.1,1191.8 1249.5,1191 1251,1189.8 1253,1187.8 1254.2,1186.2 1255,1184.9 1255.8,1183.5 1256.6,1181.7 1257.7,1179 1258.3,1177.1 1258.8,1175.5 1259.2,1173.9 1259.5,1171.9 1259.6,1169.4 1256.2,1160.5 1255,1150.5 1215,1151.8 1220,1170.5ZM1137.5,1338 1147.5,1350.5 1162.5,1354.2 1164.1,1352.7 1164.7,1352.1 1165.6,1350.7 1166.5,1349 1167.3,1347.1 1168.1,1344.2 1169,1341.4 1169.3,1339.4 1169.3,1336.7 1169,1334.9 1168.8,1334.2 1168.5,1333.7 1168.5,1333.6 1167.5,1330.5 1169.6,1328.9 1169.6,1328.9 1170,1328.6 1170.4,1328.3 1171.7,1327.2 1173.3,1325.6 1174.6,1324.1 1175,1323.6 1175.4,1323.1 1175.9,1321.5 1175.7,1320.3 1174.9,1318.9 1174.4,1318.6 1173.9,1318.3 1171.2,1316.8 1173.3,1315.7 1174.2,1315.3 1175.6,1314.4 1177.3,1313.2 1178.9,1312 1180,1311.1 1181.1,1310.2 1182.5,1308.8 1184.2,1306.5 1185.3,1304.9 1185.9,1303.6 1186.2,1301.8 1185.8,1300 1184.9,1298.4 1184.4,1298 1181.2,1295.5 1179.7,1292.4 1179.1,1291.1 1177.5,1288 1175,1289.2 1142.5,1280.5 1138.3,1283 1135,1285.5 1134.3,1285.4 1130,1288 1130,1333Z"/>
<path fill="#50789f" stroke="#50789f" stroke-width="0.7" d="M802.7,344 805.5,345 805.5,347.8 806.2,348.8 820,351.2 842.5,351.2 850,350 851.2,331.8 802.5,331.8 802.5,343.8ZM941.2,420 941.2,430 962.5,430 962.5,412.5 972.5,410 972.5,401.2 946.2,401.2 946.2,418.8ZM842.5,463.8 843.8,463.8 844.2,464.2 857.5,467.5 872.5,468.8 886.2,470 886.2,440 858.8,441.2 857.5,435 837.5,436.2 837.5,462.5ZM1017.5,517.5 1022.5,530 1023.6,528.5 1017.5,515 1016.2,507.5 1013.1,505.7ZM1052.5,515 1052.2,512 1050,515 1032.5,516.2 1030.8,518.7 1043.8,517.5ZM1050,486.2 1047.1,484.8 1037.5,483.8 1034.5,478.6 1033.6,478.2 1037.5,485 1048.8,486.2 1050.1,487.6ZM780,547.5 775,560 777.5,577.5 785,582.5 792.5,592.5 820,596.2 835,601.2 860,597.5 871.2,587.5 870,577.5 860,570 857.5,555 855,547.5 837.5,552.5 835,542.5 806.2,542.5 806.2,530 800,522.5 790,517.5 777.5,522.5 773.8,537.5ZM672.5,596.2 710,598.8 720,601.2 732.5,600 733.8,582.5 730,581.2 725,567.5 712.5,571.2 709,571.3 702.5,571.5 696,571.7 696,571.7 694,571.9 691.1,572.4 689.9,572.8 675,578.8 671.9,577.7 671.9,577.7 671.2,577.5 670.6,577.3 668.8,577 666.1,576.9 665,577 659,578.8 657.2,580.1 655.9,581.4 655.3,582.4 654.6,583.9 653.8,592.5ZM758.8,596.2 760,613.8 783.8,613.8 783.8,600 792.5,593.8 785,582.5 777.5,577.5 770,567.5 750,582.5 752.5,592.5ZM847.5,640 857.5,635 865,622.5 835,622.5 836.2,635ZM816.1,708.7 816.2,704 834.7,704 832.5,665 822.5,675 807.5,677.5 810,708.7ZM1085,347.5 1088.8,353.8 1082.5,360 1075,367.5 1082.5,380 1087.5,391.2 1105,391.2 1107.5,385 1113.8,377.5 1113.8,352.5 1140,351.2 1140,335 1112.5,335 1080,335 1080,345ZM1176.2,372.5 1177.5,396.2 1192.5,395 1192.5,380 1193.3,379.8 1193.8,372.5 1192.5,343.8 1173.8,342.5 1173.8,371.2ZM1200,400 1207.5,400 1205.6,393.8 1204.8,390.9 1204.8,390.9 1203.8,387.5 1203.1,384.1 1203.1,384.1 1202.9,382.5 1202,377.5 1192.5,380 1192.5,398.8ZM1112.5,431.2 1137.5,432.5 1151.2,432.5 1152.5,420 1160,410 1167.5,400 1162.5,392.5 1147.5,392.5 1140,403.8 1131.2,410 1125,400 1115,403.8 1112.5,412.5 1100,418.8 1092.5,412.5 1075,412.5 1075,430ZM1212.5,432.5 1229.4,432.5 1229.3,432.2 1226.6,428 1225.3,426.4 1224,424.8 1223.1,423.8 1220,420 1212.5,412.5 1193.8,412.5 1193.8,430ZM990.6,495 1007.5,502.5 1016.2,507.5 1017.5,515 1023.8,528.8 1029.9,520 1030,518.8 1030.8,518.7 1032.5,516.2 1050,515 1053.8,510 1052.5,490 1048.8,486.2 1037.5,485 1032.9,476.9 1017.5,472.5 1017.4,472.2 1010,477.5 990.6,485ZM1150,487.5 1160,485 1158.8,470 1148.8,470 1147.5,477.5ZM1147.5,512.5 1160,512.5 1162.5,503.8 1156.2,490 1142.5,491.2 1143.8,500ZM1082.5,532.5 1075,540 1066.2,555 1068.8,570 1075,578.8 1095,572.5 1100,560 1110,567.5 1115,582.5 1125,585 1140,580 1145,570 1136.2,555 1125,551.2 1112.5,550 1113.8,537.5 1110,525 1105,512.5 1095,515 1082.5,530 1071.2,512.5 1072.5,520ZM1165,525 1162.5,532.5 1151.2,532.5 1150,547.5 1173.8,550 1172.5,558.8 1167.5,580 1172.5,582.5 1188.8,582.5 1188.8,548.8 1208.8,548.8 1207.5,528.8 1187.5,527.5 1185,510 1170,510 1170,522.5ZM1254.3,627.5 1254.4,607.5 1218.8,607.5 1217.5,627.5ZM598.4,802.1 594.1,810.9 592.5,814 590.2,816.6 586.1,821.4 584.9,823 583.6,825.5 582.9,827.4 581.9,831.5 580.8,835.6 580.4,837.6 579.7,840.5 579.3,842.4 578.5,846.5 577.7,850.6 577.4,852.5 577.3,854 618.8,851.5 620,835.2 632.5,829 632.5,816.5 626.2,809 627.4,795.2 621.2,789 603.3,790.1 603,790.2 601.7,791.3 600.8,793 600.5,795.5 600,797.5 600,797.6 600,799ZM977.5,731.5 990,719 991.2,705.9 989.7,705.9 990,711.5 986.2,721.5 975.3,731.3ZM957.5,721.5 958.6,710.2 957.5,710.2ZM1027.5,771.5 1036.2,771.5 1027.5,770.2 1025,761.5 1020,751.5 1017.5,756.5ZM1062.5,764 1061.4,760.8 1057.8,766.8ZM1035,740.2 1045,746.5 1054.6,747.9ZM1022.5,746.5 1020,751.5 1035,740.2ZM933.8,782.1 933.8,774 937.5,752.8 948.8,752.8 957.5,767.8 957.5,766.5 953.8,751.5 937.5,751.5 932.5,774ZM1047.5,816.5 1070.4,809 1070.4,794 1060,786.5 1042.5,784 1057.5,786.5 1058.8,804 1047.5,804 1037.1,810.2ZM765,861.5 775,865.2 782.5,859 796.2,856.5 796.2,835.2 782.5,834 767.5,839 757.5,845.2 757.5,854ZM893.4,923.1 893.4,909.5 892.5,914ZM921.2,919 921.6,915.6 915.6,922.8ZM910,902.8 895,901.5 895,901.6 910.5,902.9ZM1034.8,939.2 1032.5,934 1027.5,919 1032.5,936.5ZM1040,945.2 1055,944.4 1039.9,945.1ZM1060,906.5 1060,924 1061.8,933.7ZM1047.5,909 1027.5,919 1040,914 1060,906.5ZM803.8,986.5 807.5,1002.8 821.2,999 831.2,990.2 832.5,969 831.2,946.5 817.5,945.2 807.5,949 807.5,974ZM935,989 936.2,988.7 922.5,985.2ZM955,971.5 950,961.5 935,959 934.6,959.3 947.5,961.5 953.8,971.5 952.5,984ZM1025,992.3 1026.2,991.5 1026.2,971.5 1031.2,964 1027.5,969 1020,964 1025,974ZM1018.1,1010.4 1047.6,1018.9 1048.3,1017.8 1018.8,1009.4ZM1017.5,1011.5 1015,1049 1027.5,1059 1043,1059 1035,1049 1017.5,1044 1020,1029 1017.6,1011.3ZM1050,964 1041.8,961.3 1045,964 1050.2,967.1ZM1035,1085.2 1022.5,1085.9 1035,1086.5ZM882.5,1086.5 872.5,1091.5 870,1101.5 882.5,1114 890.8,1116.8 905.3,1112.8 910,1109 903.8,1096.5 902.5,1061.5 880,1054 880,1074ZM908.2,1148 906.2,1136.9 938.1,1136.9 935,1119 910,1111.5 882.5,1119 882.5,1148ZM1060,906.5 1047.5,906.5 1047.5,909ZM1079.4,906.5 1079.4,904.1 1060,906.5ZM965,730.2 975,731.5 986.2,721.5 990,711.5 988.8,691.4 971.2,691.4 972.5,698.2 963.2,698.2 962.5,710.2 958.6,710.2 957.5,721.5ZM1027.5,770.2 1045,772.8 1055,771.5 1062.5,759 1062.5,749 1045,746.5 1035,740.2 1020,751.5 1025,761.5ZM933.8,790.2 957.5,790.2 957.5,767.8 948.8,752.8 937.5,752.8 933.8,774ZM992.5,835.2 1025,834 1022.5,819 1010,809 995,804 980,809 985,824ZM1035,811.5 1047.5,804 1058.8,804 1057.5,786.5 1042.5,784 1027.5,789 1015,804 1022.5,819ZM1100,885.2 1117.5,884 1112.5,874 1115,859 1122.5,854 1112.5,839 1096.2,839 1096.2,866.5ZM1150.3,859.7 1150.7,871.5 1151.2,871.5 1152.5,886 1185,884 1186.2,859 1183.8,848.5 1150,849 1151.2,859ZM1060,906.5 1080,904 1103.8,905.2 1107.5,896.5 1107.5,886.5 1097.5,885.2 1095.5,867 1076.2,867 1075,874 1047.5,884 1047.5,906.5ZM912.5,926.5 925,911.5 924.8,910 924.5,909.8 912.8,903.1 893.4,901.5 893.4,926.5ZM1037.5,945.2 1063.8,944 1060,924 1060,906.5 1040,914 1027.5,919 1032.5,934ZM1175,961.5 1182.5,974 1187.1,977.8 1187.5,977.8 1187.8,978.4 1197.5,986.5 1208.6,986.5 1207.5,971.5 1208.8,964 1211.6,961.8 1213.8,956.5 1213.8,925.2 1170,926.5 1157.5,939 1157.5,954ZM937.5,989 952.5,984 953.8,971.5 947.5,961.5 932.5,959 921.2,969 922.5,985.2ZM1018.8,996.5 1017.5,1009 1052.5,1019 1055,1006.5 1055,986.5 1057.5,971.5 1045,964 1036.2,956.5 1026.2,971.5 1026.2,991.5ZM1017.5,1044 1035,1049 1045,1061.5 1065,1074 1080,1069 1083.8,1054 1080,1041.5 1079.2,1040.9 1078.8,1041 1077.4,1039.8 1072.5,1036.5 1056.2,1034 1052.5,1020.2 1017.5,1010.2 1020,1029ZM1191.2,1080.2 1191.2,1049 1185,1031.5 1190,1026.5 1190,1013.5 1178.8,1012 1175,1011.5 1171.2,1021.5 1171.2,1034 1171.2,1035.2 1156.2,1036.5 1157.5,1080.2ZM1200,1099 1193.8,1096.5 1191.2,1080.2 1176.2,1081.5 1176.2,1126.6 1203.1,1126.6ZM1017.5,1141.7 1017.5,1140.5 1037.5,1140.8 1035,1086.5 1011.2,1085.3 1010.6,1085.9 1011.2,1087.8 1005,1094 1000,1102 998.8,1102.1 998.8,1141.7ZM993.8,1478 1010,1486.8 1020,1479.2 1053,1479.2 1052.5,1420.5 1040,1420.5 1027.5,1430.5 1017.5,1443 1010,1445.5 996.2,1440.5 996.2,1463ZM942.5,1436.8 947.5,1445.5 955,1445.5 967.5,1441.8 975.3,1434.9 978,1429.5 978.8,1424.2 960,1423 947.5,1418 932.5,1423 932.5,1430.5ZM925,1498.3 925.4,1499.2 925.5,1500.6 925.2,1501.6 925.1,1503.4 925.3,1505.6 925.7,1507.5 926.6,1509.9 927.5,1512.2 928.3,1514.1 929.6,1516.7 929.7,1516.9 937.5,1528 947.5,1524.2 958.8,1523 958.8,1505.5 963.8,1498 963.8,1479.2 962.5,1479.2 960,1479.2 948.8,1479.2 947.5,1485.1 947.5,1488 945,1496.8 926.2,1498 926,1497.9 925,1498 925,1498.2ZM882.5,1194.2 882.5,1156.8 862.5,1158 860,1165.5 845,1166.8 845,1175.5 845,1193.5ZM912.5,1178 932.5,1178 935,1175.5 939.1,1171.9 942.5,1166.8 943.8,1167.6 946.2,1165.5 945,1136.9 906.2,1136.9 910,1158ZM857.5,1238 865,1249.2 883.8,1248 882.5,1214.2 865,1215 864.8,1213.1 862.5,1213 846.2,1220.5 846.2,1233ZM788.8,1249.2 807.5,1249.2 811.2,1243 808.8,1233 796.2,1230.5 787.2,1227.5 786.8,1228.9 785.7,1234.6 785.1,1236.5 784,1239.2 783.1,1240.8 782.5,1245.5ZM895,1288 900,1283 905,1268 920,1266.8 922.5,1255.5 932.5,1243 937.5,1230.5 922.5,1230.5 900,1233 885,1245.5 883.8,1273ZM823.7,1311.7 827.5,1313 824.7,1316.7 825,1318 820,1323 822.5,1332.9 823.3,1333.7 833.6,1341.9 834,1342.1 835.3,1342.8 842.5,1338 838.8,1328 845,1313 855,1311.8 862.5,1304.2 862.5,1289.2 852.5,1288 847.5,1276.8 827.5,1279.2 827.5,1286.8 817.5,1289.2 821.2,1300.5ZM915,1328 926.2,1335.5 927.5,1345.5 943.8,1345.5 945,1335.5 950,1325.5 960,1318 972.5,1310.5 978.8,1309.2 977.5,1290 902.5,1290.5 902.5,1320.5ZM877.5,1340.5 882.5,1346.8 887.5,1356.8 893.8,1355.5 895,1346.8 901.2,1338 895,1335.5 896.2,1325.5 886.2,1320.5 880,1326.8 871.2,1328 876.2,1333ZM987.5,1334.2 1001.2,1335.5 1005,1328 1010,1323 1008.8,1310 982.5,1310.5 981.2,1328ZM990,1369.2 995,1365.5 1003.8,1358 1006.2,1347.5 977.5,1348 978.8,1365.5ZM1035,1366 1053.8,1365.5 1055,1355.5 1060,1347.5 1030,1348 1034.2,1355.5ZM1087.5,1378 1097.5,1385.5 1103.1,1390 1105.4,1388.1 1098.8,1384.2 1087.5,1376.8 1085.4,1373.8ZM1110,1384.2 1115,1373 1114.3,1371.6 1110,1378 1108.3,1385.7ZM1107.5,1355.5 1101,1350.9 1102.5,1355.5 1108.5,1358.5ZM1077.5,1359.2 1078.9,1361.6 1077.9,1359.1ZM1183.8,1150.5 1215,1150.5 1210,1126.6 1175,1126.6 1175,1149.2ZM1087.5,1376.8 1098.8,1384.2 1107.5,1389.2 1110,1378 1115,1370.5 1112.5,1360.5 1102.5,1355.5 1100,1348 1095.8,1347.4 1095,1353 1090.3,1353.5 1090,1355.5 1077.5,1358 1081.2,1368ZM1206.2,473.8 1206.7,477.9 1206.7,468.5 1205.1,468.6 1205.4,473.6Z"/>
<path fill="#5fadc6" stroke="#5fadc6" stroke-width="0.7" d="M885,385 892.5,396.2 910,390 925,385 922.5,377.5 907.5,380 896.2,375 895,358.8 877.5,360 877.5,372.5ZM1015.3,463.8 1016,461.2 1015,462.5ZM1017.5,472.5 1033.7,477.1 1032.5,475 1022.5,472.5 1015.8,465.8ZM1050,485 1070,480 1070,457.5 1051.8,459.8 1052.5,462.5 1062.5,465 1060,475 1050,477.5 1048.8,484.4ZM1032.5,551.2 1033.7,551.2 1032.5,535 1030,518.8 1028.8,535ZM1043.8,517.5 1030,518.8 1043.8,517.6ZM745,580 741.3,556.4 738.3,557.5 736.5,558.4 733.9,559.8 732.2,560.9 730,562.5 730,580ZM950,596.2 975,603.8 972.5,573.8 960,580 952.5,585ZM1195,378.8 1202,377.5 1202.9,372.5 1203.1,370.9 1203.5,369 1204,366.2 1204.3,364.4 1204.4,363.8 1204.5,363.1 1204.5,363.1 1206.2,352.5 1193.8,353.8 1194.5,370ZM1187,457 1191.2,457.5 1194.2,453.8 1193.8,449.2 1189.2,447 1185,448.8 1184.5,453.8ZM1192.5,487.5 1206.2,485 1205,467.5 1188,468.8 1188,482.5ZM1022.5,472.5 1032.5,475 1037.5,483.8 1048.8,485 1050,477.5 1060,475 1062.5,465 1052.5,462.5 1050,452.5 1032.5,448.8 1018.8,451.2 1015,465ZM1033.8,552.5 1050,550 1046.2,535 1045,517.5 1030,518.8 1032.5,535ZM1200,665 1212.5,662.5 1213.8,652.5 1217.5,648.8 1212.5,641.2 1197.5,640 1192.5,655ZM621.9,764.3 623.1,765.6 624.7,766.5 644,769 645.7,769.9 646.8,771.2 647.5,773 647.5,779.2 646.8,781 645.7,782.1 644,782.9 624.7,783.8 623,784.3 622,784.9 621.2,785.9 621.2,786.6 621.2,788.5 627.5,794 626.2,809 632.5,816.5 632.5,835.2 658.8,835.2 660,816.5 670,806.5 673.8,799 677.5,774 678.8,754 670,740.2 660,737.8 646.2,736.5 645,739.8 645,739.8 644.4,741.5 642.5,746.5 640.9,747.3 639.6,748.5 632.9,753.2 631.1,754.2 628.5,755.3 626.6,755.9 624.7,756.3 623.1,757.3 621.9,758.7 621.2,760.5 621.2,762.5ZM581.7,890.6 582.2,892.5 582.9,895.4 583.5,897.4 585,902.8 586.5,908.1 587.5,911.5 588.1,917.8 588.4,920.5 588.8,922.5 589.7,925.2 590.5,927 593.1,931.5 595.7,936 597.5,939 599.4,945.2 600.2,948.1 600.9,950.1 601.3,951.5 677.5,950.2 677.5,935.2 677.5,866.5 670,859 655,856.5 635,859 618.8,852.8 577.2,855.2 577.1,855.5 577.1,857.5 577.4,870.5 577.6,872.5 578,875.4 578.3,877.4 580,884ZM817.5,757.8 832.5,757.8 835,761.5 865,759 873.8,752.8 886.2,759 887.5,772.8 895,759 908.8,736.5 908.8,721.5 895,721.5 893.8,732.8 876.2,734 875,739 836.2,739 835,704 816.2,704 815,744ZM751.2,819 757.5,831.5 747.5,842.8 757.5,845.2 767.5,839 782.5,834 796.2,834 796.2,819 790,809 780,806.5 770,794 757.5,799 757.5,816.5ZM822.5,829 812.5,846.5 797.5,859 777.5,869 781.2,874 785,884 800,885.2 815,881.5 827.5,876.5 837.5,869 837.5,849 843.8,839 842.5,811.5 830,816.5ZM760,896.5 747.5,904 743.8,916.5 745.2,916.5 746.2,916 747.3,916.5 755,916.5 760,911.5 781.2,909 781.2,899 788.8,894 785,884 781.2,874 772.5,871.5 765,881.5ZM838.8,849 840,869 852.5,869 862.5,871.5 875,871.5 887.5,864 900,861.5 902.5,846.5 911.2,839 910,829 895,821.5 882.5,819 872.5,829 855,829 843.8,826.5 843.8,839ZM924.5,909.8 907.5,894 910,901.5ZM927.5,911.5 933.3,913.2 932.5,912.8 925.8,910.5ZM957.5,921.5 970,914 970.2,912.9 960,919 954.6,920.3ZM980,879 976.6,878.1 980,884.4ZM970,876.5 960,884 957.9,885 962.5,884 972.4,877.1ZM920,889 907.5,894 933.9,890.4ZM691.2,951.5 691.2,972.8 707.5,972.8 715,977.8 727.5,974 723.8,964 730,954 717.5,951.5 717.5,935.2 677.5,935.2 677.5,950.2ZM913.8,939 913.8,927.8 901.2,929 903.8,942.8ZM1017.5,924 1015.5,923.5 1020,926.5ZM1007.5,921.5 998.8,934 998.8,942.8 1005,929 1011.5,922.5ZM865,1037.8 883.8,1039 885,1006.5 872.5,996.5 860,996.5 847.5,1005.2 847.5,1031.5ZM960,1114 965,1144.1 997.5,1144.1 997.5,1102.8 961.2,1105.2 952.5,1101.5 950,1114ZM1152.5,1035.2 1171.2,1034 1171.2,1021.5 1175,1007.8 1172.5,996.5 1157.5,989 1147.5,981.5 1138.8,976.5 1132.5,994 1126.2,1006.5 1126.2,1019 1121.2,1026.5 1137.5,1036.5ZM1151.2,885.2 1150,852.8 1136.2,854 1136.2,885.2ZM932.5,912.8 950,921.5 960,919 972.5,911.5 972.5,899 982.5,889 975,875.2 962.5,884 935,890.2 907.5,894 925,910.2ZM1022.5,939 1030,934 1020,926.5 1012.5,921.5 1005,929 998.8,942.8 1010,945.2ZM1101.2,1214.2 1101.2,1179.2 1083.6,1178.3 1075,1178 1055,1176.8 1055,1185.5 1055,1215.5ZM942.5,1224.2 962.5,1224.2 973.8,1215.5 973.8,1191.8 978.8,1184.2 962.5,1183 960,1170.5 950,1171.8 942.5,1166.8 935,1178 931.2,1191.8 931.2,1229.2ZM1141.2,1255.5 1140.7,1260.6 1145,1255.5 1145.4,1250.6ZM1140,1268 1141.4,1270.1 1140.1,1266.7ZM1168.3,1281.8 1168.3,1278.1 1165,1280.5 1157.9,1280.5ZM1147.5,1213 1147.5,1226.1 1148.8,1214.2 1160.4,1213ZM1100,1278 1110,1283 1135,1285.5 1145,1278 1142.5,1273 1140,1268 1140.1,1266.7 1138.8,1263 1140.7,1260.6 1141.2,1255.5 1135,1248 1130,1238 1107.5,1235.5 1095,1240.5 1093.8,1265.5ZM1072.5,1421.8 1102.5,1421.8 1103.8,1390.5 1097.5,1385.5 1085,1378 1073.8,1385.5 1071.2,1394.2ZM1105.9,1461.8 1107.1,1462.1 1107.5,1462.4 1105,1460.5 1103.8,1458 1103.8,1460.5ZM1123.6,1457.7 1123.9,1457.5 1125.7,1456.7 1125.7,1456.7 1122.5,1458ZM1134.3,1453.1 1136.2,1452.5 1139,1451.8 1141,1451.5 1145,1451.1 1141,1451.5 1137.5,1451.8 1130,1454.9ZM1135,1420.5 1103.8,1423 1132.5,1421.8 1136.2,1421.1ZM960,1479.2 961.2,1473 967.5,1465.5 977.5,1458 987.5,1460.5 996.2,1463 996.2,1440.5 995.8,1433.8 995,1433 992.5,1425.5 995.2,1425.3 995,1423 980,1425.5 972.5,1440.5 960,1445.5 947.5,1448 947.5,1460.5 947.5,1479.2ZM1002.5,1440.5 1010,1445.5 1017.5,1443 1027.5,1430.5 1020,1423 992.5,1425.5 995,1433ZM940.4,1537.1 941.1,1538.9 942.5,1541.4 943.7,1543 945,1544.3 946.5,1545.6 948.8,1547.5 950.4,1548.7 951.2,1549.2 952.1,1549.8 953.9,1550.4 955.2,1550.5 956.6,1550.2 957.2,1549.6 957.9,1548.2 958.1,1547 958.2,1545.4 958.1,1544.9 958,1544.4 957.3,1542.8 956.2,1541.4 954.9,1540.2 954.4,1539.9 953.9,1539.6 951.2,1538 953.8,1536.8 954.1,1536.5 954.2,1536.5 956.2,1535.5 958.9,1536.5 958.9,1536.5 959.4,1536.8 962.5,1538 964.1,1541.1 965.9,1544.9 966.9,1546.6 968.6,1549.1 969.7,1550.7 970.6,1551.8 971.5,1552.8 973.1,1553.9 974.3,1554.4 975.8,1554.5 976.2,1554.2 976.6,1554 977.4,1552.9 977.5,1551.7 977.2,1549.9 976.6,1548.6 975,1545.5 972.5,1535.5 965,1533 958.8,1523 947.5,1524.2 938.8,1530.5 940,1535.5ZM816.2,1211.8 826.2,1209.2 826.2,1196.8 816.2,1191.8 817.5,1186.8 826.2,1185.5 825,1165.5 812.5,1163 810,1165.5 807.5,1168 806.1,1169.5 804.3,1171.8 803.1,1173.5 803.1,1173.5 801.9,1175.5 800.6,1177.5 799.9,1179.4 799.3,1181.8 799.3,1183.7 799.5,1184.8 799.8,1186.7 800.4,1189.4 800.8,1191.4 801.7,1194.6 801.8,1196.6 801.7,1199.3 801.5,1200.2 805,1205.5ZM788.3,1224.2 787.8,1225.7 796.2,1230.5 807.5,1230.5 807.5,1220.5 800,1215.5 792.8,1215.5 791.9,1216.9 790.9,1218.6 789.1,1222.4ZM836.2,1195 845,1193.5 845,1175.5 826.2,1178 826.2,1196.8ZM809.5,1321.1 809.5,1321.1 812.5,1323 815,1325.5 820,1330.5 821.5,1331.9 822.5,1332.9 820,1323 827.5,1313 820,1310.5 810,1311.8 802.5,1316.8 807.5,1319.9ZM1006.2,1347.5 1001.2,1335.5 987.5,1334.2 981.2,1328 977.5,1347.5ZM1105,1460.5 1107.5,1462.4 1107.9,1462.7 1109.4,1463.3 1110.6,1463.7 1112.1,1463.7 1112.5,1463.6 1112.9,1463.5 1114.4,1462.9 1116.2,1462.1 1117.9,1461.1 1119.6,1459.9 1122.5,1458 1125.7,1456.7 1125.7,1456.7 1130,1454.9 1137.5,1451.8 1141,1451.5 1145,1451.1 1149,1450.8 1149,1450.8 1151,1450.6 1154,1450.1 1155.9,1449.7 1158.1,1449.2 1160.3,1448.8 1161.8,1447.7 1162.6,1446.4 1162.9,1444.6 1162.5,1443 1162.1,1441.4 1161.4,1439.5 1160.1,1437 1158.9,1435.4 1154.8,1430.6 1152.5,1428 1148.8,1419.2 1140,1420.5 1132.5,1421.8 1103.8,1423 1103.8,1458ZM1198.5,451.3 1202.6,454.4 1203.6,461.5 1206.7,463.6 1206.7,477.9 1207.7,487.2 1201.5,488.2 1202.6,492.3 1207.7,492.3 1207.7,507.7 1227.7,507.7 1227.7,513.3 1208.7,513.8 1208.7,529.2 1211.8,531.3 1223.1,530.3 1229.2,530.8 1229.2,547.7 1244.6,547.7 1247.7,543.6 1248.7,529.2 1254.5,528.3 1254.5,516 1254.5,514 1254.3,511 1254.2,509 1254,507.2 1253.7,505.3 1253.2,503.9 1248.7,498.5 1245.6,492.3 1242.1,485.1 1241.1,478.2 1240.9,477.6 1238.5,469.7 1236.8,459.6 1236.7,459.1 1236.1,456.7 1233.3,451.3 1231.3,443.1 1221,447.2 1211.8,443.1 1204.6,445.1 1204.6,449.2Z"/>
<path fill="#74bccc" stroke="#74bccc" stroke-width="0.7" d="M990,411.2 1005.5,411.2 1005.5,357.5 1012.5,356.2 1012.5,355 995,357.5 992.5,363.8 975,365 975,405ZM822.5,481.2 822.5,493.8 817.5,502 858.8,502 857.5,476.2 843.8,463.8 831.2,463.8 831.2,480ZM872.5,620 880,612.5 880,605 872.5,602.5 870,597.5 860,601.2 837.5,602.5 831.2,608.8 835,620ZM970,685 962.5,672.5 950,675 945,682.5 937.3,687.9 963.8,687.9 963.2,698.2 972.5,698.2ZM922.5,698.2 931.3,698.2 927.5,694.8ZM1012.5,411.2 1012.5,356.2 1005.5,357.5 1005.5,411.2ZM940,710.2 937.5,704 931.6,698.5 920,698.5 935,704ZM1016.2,790.2 1007.5,786.5 1000,788.5 1000.1,789 1007.5,787 1016.2,790.7ZM878.8,954 895,957.8 902.5,954 902.5,939 900,928.5 882.5,929 880,939ZM817.5,1024 817.5,1051.5 830,1049 831.2,1041.5 840,1039 847.5,1031.5 846.2,1005.2 807.5,1006 807.5,1021.5ZM1072.2,1005.2 1066,1005.7 1072.2,1008.8ZM997.5,1102.8 997.8,1102.1 962.5,1104.5 962,1072.8 967.7,1070.1 961.2,1071.5 961.2,1105.2ZM1011.2,1085.2 1010.4,1085.1 1010.6,1085.9ZM990,1069 993.8,1075.2 995,1076.5ZM786.9,1137 788.5,1137.3 791.5,1137.7 793.5,1138 796.3,1138.7 798.2,1139.3 803.9,1141.6 820,1141.6 821.2,1129 828.8,1126.5 828.8,1120.2 786.2,1121.5 783.8,1129ZM1060,1034 1072.5,1035.2 1078.8,1041 1085,1040.2 1086.2,1035.2 1093.8,1031.5 1092.5,1014 1085,1007.8 1072.5,1009 1065,1005.2 1056.2,1006.5 1056.2,1026.5ZM1000,1102 1005,1094 1011.2,1087.8 1010,1084 998.8,1080.2 993.8,1075.2 990,1069 970,1069 962,1072.8 962.5,1104.5ZM940,710.2 962.5,710.2 963.8,687.9 920,687.9 937.5,704ZM1015,796.5 1016.2,790.8 1007.5,787 1000,789 1001.2,796.5ZM865,1215 882.5,1214.2 882.5,1195 858.8,1195.5 863.8,1203ZM988.8,1208 990,1195.5 996.2,1190.5 996.2,1184.2 980,1184.2 973.8,1191.8 973.8,1215.5ZM1007.5,1150.5 1007.5,1175.5 997.5,1183 1015,1186.8 1055,1185.5 1055,1176.8 1075,1178 1111.2,1179.2 1111.2,1141.1 1055,1141.1 1017.5,1140.5 1017.5,1149.2ZM1053.8,1345.5 1060,1346.8 1072.5,1355.5 1095,1353 1097.5,1335.5 1103.8,1328 1103.8,1308 1110,1300.5 1110,1283 1105,1288 1085,1285.5 1052.5,1283 1052.5,1313ZM1015,1368 1033.8,1365.5 1033.8,1355.5 1027.5,1348 1010,1348 1005,1355.5 1005,1361.8ZM1018.2,1503.7 1018.4,1503.7 1024.1,1504.8 1026,1505.3 1028.8,1506.3 1030.6,1507.1 1036.9,1510.2 1038.6,1511.2 1038.8,1511.3 1040,1511.8 1037.5,1498 1032.5,1493 1030,1480 1021.2,1480.5 1016.2,1488 1016.2,1503ZM1145,1255.5 1138.8,1263 1142.5,1273 1147.5,1280.5 1165,1280.5 1175,1273 1181.2,1268 1180,1248 1182.5,1238 1182.5,1213 1165,1212.5 1148.8,1214.2 1146.2,1238Z"/>
<path fill="#b1dedb" stroke="#b1dedb" stroke-width="0.7" d="M917.5,1409.5 917.6,1411.5 917.9,1414.4 918.3,1416.4 918.8,1418.6 920,1424.2 917.9,1425.8 917.5,1426.1 917.1,1426.4 916.1,1427.8 915.4,1429.6 915,1431.5 915,1434.5 915.2,1436.5 915.7,1439.3 916.3,1441.2 917.5,1444.2 918.7,1447.3 918.7,1447.3 919.6,1449.1 921,1451.6 922.1,1453.3 923.8,1455.5 927.5,1460.5 928.1,1466.8 928.4,1469.5 928.8,1473 925.9,1475 925.9,1475 924.4,1476.1 922.8,1477.2 921.4,1478.6 919.6,1480.8 918.6,1482.5 918.1,1483.6 917.6,1484.8 917.3,1486.7 917.4,1489.2 918,1491 918.8,1492.4 919.5,1493.7 920.7,1495.3 922,1496.4 923.3,1497.3 923.8,1497.4 924.1,1497.5 924.2,1497.5 926.2,1498 945,1496.8 947.5,1488 947.5,1460.5 947.5,1448 942.5,1443 942.5,1436.8 932.5,1430.5 926.2,1420.5 931.2,1413 932.5,1404.2 917.5,1404.2 917.5,1407.8Z"/>
<path fill="#c2e7dd" stroke="#c2e7dd" stroke-width="0.7" d="M775.5,343.8 775.5,355 786.2,355 786.2,352 796.2,352 796.2,358.2 805.5,358.2 805.5,345 802,343.8 802,331.8 770,331.8 768.8,342.5ZM717.5,935.2 717.5,951.5 730,954 723.8,964 727.5,974 732.5,977.8 737.5,974 747.5,972.8 757.5,964 757.5,956.5 752.5,945.2 756.2,939 753.8,934 752.5,919 746.2,916 735,921.5 733.8,934ZM1178.8,1012 1210,1011.5 1208.8,996.5 1205,994 1208.8,989 1203.8,987.8 1191.2,986.5 1187.5,977.8 1180,979 1175,989 1175,1007.8ZM810,1219.2 816.2,1211.8 805,1205.5 797.5,1209.2 797.5,1209.3 800,1215.5Z"/>
<path fill="#f9f9f9" stroke="#f9f9f9" stroke-width="0.7" d="M972,515 972,503.8 955,503.8 955,513.8ZM991.2,506.2 993.8,515 990,522.5 995,525 996.2,531.2 1000.5,531.2 1000.5,506.2 997.5,506.2 996.2,498.8 977.5,500 977.5,506.2ZM1016.2,525 1015,512.5 1015.5,525 1010,531.2ZM917.5,560 927.5,556.2 936.2,561.2 940,552.5 935,542.5 932.5,533.8 917.5,533.8 916.2,547.5ZM882.5,645 895,660 903.8,658.8 905,642.5 915,641.2 918.8,635 912.5,632.5 908.8,622.5 896.2,621.2 893.8,616.2 890,621.2 871.2,630 871.2,643.8ZM988.8,651.2 992.6,650.4 988.4,650.5 988.4,634.2 981.2,635 976.2,632.5 976.2,643.8ZM1000,631.2 996.2,632.5 1011.2,632.5ZM1010,531.2 1015.5,525 1015,512.5 1010,506.2 1000.5,506.2 1000.5,532ZM1212.5,662.5 1200,665 1205,672.5 1207.5,687.5 1225,683.8 1230,676.2 1237.5,672.5 1254.3,670 1254.3,647.5 1240,651.2 1230,652.5 1217.5,648.8 1213.8,652.5ZM1010,650 1011.2,632.5 988.4,632.5 988.4,650.5ZM1192.5,744 1200,746.5 1211.2,744 1210,724 1210,707 1203.8,706.5 1196.2,711.5 1191.2,726.5ZM1203.8,841.5 1217.5,846.5 1225,855.2 1242.5,856.5 1245,865.2 1253.8,864 1253.8,802 1241.2,802.8 1240,800.2 1237.5,803.5 1221.2,804 1210,809 1198.8,816.5 1202.5,821.5ZM1208.8,989 1205,994 1208.8,996.5 1210,1011.5 1227.5,1013.5 1253.8,1013.5 1253.8,966.5 1246.2,966.5 1245,961.5 1235,960.2 1230,957.8 1215,959 1208.8,964 1207.5,971.5ZM992.5,1479.2 995,1468 987.5,1460.5 977.5,1458 967.5,1465.5 961.2,1473 962.5,1479.2ZM1208.8,1221.8 1212.5,1225.5 1220,1233 1225,1230.5 1233.6,1223.2 1233.7,1222.8 1232.5,1213 1205,1214.2Z"/>
<path fill="none" stroke="#4f6a84" stroke-width="0.9" stroke-linejoin="round" d="M596,852.9 577.3,854 577.4,852.5 577.1,855.5 577.2,855.2 597.9,854 596.7,853.3 596,852.9M839.5,1344.6 840.4,1345.4 840.7,1346.5 840.4,1348.1 840,1348.6 842.5,1345.5 842.2,1343.5 839.5,1344.6M654.5,584.1 653.7,586.3 653.2,588.1 653,589.4 652.6,591.2 652,593.9 651.5,595.9 649.9,601.3 652.5,593.8 658,594.2 658.2,593.4 653.8,592.5 654.6,583.9 654.5,584.1M999.6,1506.7 998.2,1508.1 1001.9,1505.9 1003.8,1505.2 1006.5,1504.3 1008.5,1503.8 1011.5,1503.4 1013.5,1503.3 1016.5,1503.5 1018.2,1503.7 1016.2,1503 1004.8,1504 1003.3,1504.8 999.6,1506.7M1036.6,774 1036.2,772.1M1032,771.5 1030.4,771.5 1036.2,774 1036.6,774M786.5,1065.5 780,1059 776.1,1070.8 786.5,1065.5M945.4,1441.8 942.5,1436.8 942.5,1440.8 944.1,1441.3 945.4,1441.8M959.1,1421.7 955,1415.5 947.5,1418 958.9,1422.6 959.1,1421.7M926.2,1420.5 932.5,1430.5 932.5,1423 931.2,1413 926.2,1420.5M869.8,1253.4 875,1258 883.8,1273 884.4,1258.4 869.8,1253.4M836.2,1278.2 847.5,1276.8 840,1273 835.6,1275.2 836.2,1278.2M663.9,950.5 655.6,950.6 663,952.2 663.9,950.5M1132.1,1034.6 1132.2,1033.2 1121.2,1026.5 1112.5,1034 1117.5,1039 1131.8,1037.2 1132.1,1034.6M1212.9,691.6 1207.1,691.6 1206.7,694.7 1217.7,694.7 1213.4,692 1212.9,691.6M1191.5,724.2 1191.9,724.6 1196.2,711.5 1195.8,710.7 1193.2,710.7 1191.5,724.2M1211.9,725.9 1211.2,706.5 1210,707 1210,724 1210.3,728.2 1211.1,727.6 1211.9,725.9M1087.9,1081.9 1088.1,1081.5 1075.8,1081.5M1075.8,1082.2 1085,1082.8 1087.5,1082.6 1087.9,1081.9M1075.2,1070.6 1075.2,1073.1M1075.7,1073.3 1080,1069 1075.2,1070.6M841.9,1137.3 839.9,1132.6 832.8,1132.6 831.5,1133.4 825.3,1137.3M1252.9,502.8 1252.2,501.1 1251.6,500.1 1250.6,498.5 1249.4,496.1 1248.4,494.4 1247.8,493.2 1246.7,494.5 1248.7,498.5 1253.2,503.9 1253.7,505.3 1252.9,502.8M703.9,934.8 704.1,935.2 717.5,935.2 733.8,934 703.4,934 703.9,934.8M976.7,658.8 977.1,658.7 987.7,651.9M987.8,650.7 976.2,643.8 975,659.4 976.7,658.8M1259.6,1169 1259.6,1167 1259.2,1164 1259,1162.9 1256.7,1161.8 1259.6,1169.4 1259.6,1169M835,804 830,816.5 842.5,811.5 835,804M843.2,826.8 843.8,826.6 843.8,826.5 842.5,811.5 843.2,826.8M776.5,356.3 796.2,358.2 796.2,352 786.2,352 786.2,355 776.6,355 776.5,356.3M620.5,787.6 619.5,788.2 617.8,788.8 613.5,789.2 612.7,789.2 613.7,789.4 621.2,789 623.5,791.3 623.9,791.4 624.7,791.5 621.2,788.5 621.2,786.6 620.5,787.6M975.2,506.2 977.5,506.2 977.5,502.5 975,503.8 972.8,503.8 975.2,506.2M1007.5,506.2 1010,506.2 1013.8,511 1014.9,510.6 1013.5,506.8M1012.5,505.4 1007.5,502.5 1000.7,499.5M999.3,498.9 990.6,495 990.6,488.6 985,490 982.6,499.7 996.2,498.8 997.5,506.2 999.3,506.2M1001.1,506.2 1007.5,506.2M723.1,755.9 724.2,756.4 732.5,756.5 738.8,755.2 722.2,755.5 723.1,755.9M808,442.8 808.2,444.8 808.3,447.7 808.1,449.7 806.9,456.6 806.5,458.5 805.9,461.5 805.6,463.4 804.4,469.1 804.1,471 803.6,474 803.9,472.1 807.5,462.5 808.8,446.2 807.5,440.6 807,438.5 808,442.8M835.6,462.5 807.5,462.5 831.2,463.8 834.9,463.8 835.4,462.9 835.6,462.5M892.8,917.1 892.5,914 882.5,929 899.3,928.5M899.3,926.5 893.8,926.5 893.4,926.5 893.4,923.7M1162.5,503.8 1160,512.5 1170,510 1162.5,503.8M954,509.1 955,508.7 955,503.8 950,502.5 952.8,509.6 954,509.1M942.5,472.5 942.5,472.5 942.5,485 947,474.9 942.5,472.5M922.7,468.1 942.5,472.5 942.4,472.4 930.7,466.1 922.7,468.1M930,488.8 950,502.5 942.5,485 930,488.8M929.5,331.7 930.4,333 935,333 967.4,333.3 966.1,332 929.5,331.7M785,582.5 792.5,593.8 809.5,595.3 810.2,594.9 792.5,592.5 785,582.5M688.1,970.2 691.2,972.8 691.2,966 689.3,968.6 688.1,970.2M730,979 732.5,977.8 727.5,974 730,979M805.8,352.8 806.2,350 817.3,350.8 806.2,348.8 805.5,347.8 805.5,352.7 805.8,352.8M832.9,331 793.8,330.7 793.5,331.8 802,331.8 802,343.8 802.7,344 802.5,343.8 802.5,331.8 833.6,331.8 832.9,331M1254,859.6 1253.8,859.6 1253.8,864 1245,865.2 1253.8,865.2 1253.8,899 1254,898.9 1254,859.6M1254.1,789.6 1254.2,743.3 1253.9,743.4 1253.8,743.6 1253.8,779 1253.8,789.4 1254.1,789.6M722.5,601.9 722.5,601.2 724.9,600.9 725.6,600.7 720,601.2 710,598.8 720,602.5 720.1,602.9 722.5,601.9M997.1,1440.8 1010,1445.5 1002.5,1440.5 999.4,1437.4 998.5,1438.8 997.1,1440.8M1019.1,1310.1 1044.1,1310.4 1044,1310.2 1019.6,1309.4 1019.3,1309.8 1019.1,1310.1M1053.4,1337 1053.1,1328.5 1052.5,1327.3 1052.5,1337.5 1053.4,1337M1128.7,914.4 1128.6,914.3 1102.5,919 1107.5,924 1128.8,914.5 1128.7,914.4M812,1308.8 808.8,1311.8 802.5,1316.8 810,1311.8 815.8,1311 815.6,1310.5 812,1308.8M1254.1,795.5 1253.8,796.7 1253.8,802 1253.8,823.8 1254.1,824 1254.1,795.5M1072.7,514.8 1074.5,517.6 1075.7,517.5 1075.7,519.4 1082.5,530 1095,515 1090,510 1072.7,512.3M1258.9,1162 1258.4,1159 1258.1,1157.1 1256.9,1151.4 1256.6,1149.5 1256.1,1146.5 1255.8,1144.5 1255.4,1141.5 1255.3,1139.5 1255.3,1138.7M1255.4,1137.3 1255.5,1136.6 1253.2,1137.3M1255,1138.7 1255,1150.5 1256.2,1160.5 1256.7,1161.8 1259,1162.9 1258.9,1162M774.1,1004.8 795,1005.2 807.5,1006 824,1005.7 824.5,996.2 821.2,999 807.5,1002.8 782.5,1004 774.1,1004 774.1,1004.4 774.1,1004.8M1168.9,568.1 1168.7,568 1166.2,580 1165,587.5 1166.8,602.6 1167.6,602.7 1172.3,582.4 1167.5,580 1170.2,568.7 1168.9,568.1M724.5,696.4 752.2,696.4 752.2,696.4 751.4,692.1 723.2,692.1 724.5,696.4M787.6,898.3 788.1,899 822.5,899 787.6,897.9 787.6,898.3M994.7,1472.2 996.1,1463.6 996,1462.9 987.5,1460.5 995,1468 994,1472.7 994.1,1472.6 994.7,1472.2M962.5,1479.2 961.2,1473 960,1479.2 962.5,1479.2M764.2,963.2 763.7,964 771.2,964 765.8,960.4 764.2,963.2M977.5,1290 977.8,1294.6 978.8,1293.4 978.8,1278 978.8,1258 977.5,1290M1204.9,861.8 1208.7,879 1225,874 1227.5,891.5 1227.4,891.7 1229.2,892.3 1230,891.5 1227.5,874 1227.5,855.4 1225,855.2 1214.4,855.9 1204.9,861.8M935,1178 939.1,1171.9 935,1175.5 932.5,1178 935,1178M899.3,963.7 895.8,961.5 897.5,969 899.3,966.6M1053.7,1434.8 1053.8,1434.9 1053.8,1423 1053.8,1406.7 1052.5,1406.8 1052.5,1416.8 1052.5,1420.5 1052.6,1434.2 1053.7,1434.8M1083.3,1421.8 1072.5,1421.8 1053.8,1423 1083.3,1423 1083.3,1421.8M963.8,1498 958.8,1505.5 972.5,1498 963.8,1498M689.1,692.1 672.8,692.1 672.1,694.8 671.6,696.4 697,696.4 692.2,693.8 689.1,692.1M1058.1,332.7 1058.2,334.3 1071.3,334.5M1072.7,334.5 1076.3,334.5 1076.3,335 1080,335 1103,335 1104.7,333 1072.7,332.8M1071.3,332.8 1058.1,332.7M1172.5,605.6 1167.6,602.7 1166.8,602.6 1167.5,608.8 1174.1,608.6 1172.5,605.6M991.3,1209.2 995.4,1193.6 994.4,1191.9 990,1195.5 988.8,1208 990.6,1209.4 991.3,1209.2M962.5,1172.8 960.4,1172.3 962.5,1183 962.5,1172.8M973.8,1191.8 980,1184.2 978.8,1184.2 973.8,1191.8M752.2,696.4 752.2,696.4 777.5,696.4 777.5,698.3M777.5,699.7 777.5,700.2 798.1,700.2 798.6,699.7M800,698.3 799.5,692.3 777.5,692.3 785,680 777.5,692.1 757.6,692.1 752.2,696.4M937.3,544.6 938.1,537.8 932.5,533.8 935,542.5 937,546.5 937.3,544.6M728.5,330.3 726.5,330.3 725.1,330.4 723.7,330.5 723.3,330.5 722.6,330.8 722.6,330.8 738.8,342.6 744.1,340.3 743.8,331.8 752.7,331.8 753,330.5 728.5,330.3M1233.8,449.2 1232.5,445.8 1231.9,443.9 1231.2,441 1230.8,439 1230.4,436 1230,434 1229.6,432.9 1231.2,443.1 1231.3,443.1 1232.8,449.1 1233.8,449.3 1233.8,449.2M1218.3,446 1222,446.8 1229.9,443.6 1217.5,442.5 1215.9,442.8 1217.1,445.4 1218.3,446M1180.9,848.2 1180.8,847.9 1173.8,846.5 1150,849 1181,848.5 1180.9,848.2M1139.8,853.7 1150,852.8 1150.3,859.7 1151.2,859 1150,849 1140.3,851.6 1139.8,853.6 1139.8,853.7M1082.6,1137.3 1085,1134.5 1074,1134.5 1074,1135.3 1072.7,1135.3M1071.3,1135.3 1068.2,1135.3 1070.1,1137.3M1071.5,1138.7 1071.8,1139 1081.2,1139M847.5,763.1 855,764 865,759 844.1,760.7 847.5,763.1M1176.4,1152 1188.8,1151.8 1215,1151.8 1214.5,1150.5 1183.8,1150.5 1178.5,1150.7 1176.7,1151.8 1176.4,1152M760,639 760,613.8 759,638.2 760,639M746.1,908.7 747.5,904 745,901.5 744.4,909.1 746.1,908.7M787.6,897.9 783.1,897.8 781.2,899 784.6,899 787.6,898.3 787.6,897.9M772.5,871.5 781.2,874 777.5,869 772.5,871.5M1081.2,1139 1082.3,1141.1 1087,1141.1 1086.9,1138.7M1086.8,1137.3 1086.7,1134.5 1085,1134.5 1082.6,1137.3M1200,1096.5 1195.7,1096.5 1195.4,1097.2 1200,1099 1203,1125.7M1203.7,1126.6 1203.8,1126.6 1200,1096.5M1073.9,1355.9 1074.4,1356.9 1077.1,1358.9M1077.7,1358.6 1077.5,1358 1090,1355.5 1090.3,1353.5 1073.7,1355.4 1073.9,1355.9M663,952.2 655.6,950.6 640.5,950.9 639.1,952.2 663.4,952.6 663,952.2M1161.6,1354 1160.5,1353.7M1159.1,1354.2 1157.5,1355.5 1164,1359.4 1164.3,1358.8 1161.6,1354M961.2,1104.5 961.2,1099 952.5,1101.5 959.2,1104.4 961.2,1104.5M1015,1186.8 997.5,1183 996.2,1184.2 1015,1186.8M1148.3,1080.4 1148.3,1080.2 1112.5,1080.2 1112.5,1081.5 1148.3,1080.5 1148.3,1080.4M1087.5,1082.6 1107.5,1081.5 1088.1,1081.5 1087.5,1082.6M1112.5,1074 1107.5,1076.5 1107.5,1081.5 1112.5,1080.2 1112.5,1074M987.1,332.2 966.1,332 967.4,333.3 983.8,333.5 987.1,332.2M879.2,624 877,627.3 882.9,624.6 879.2,624M880.4,331.4 879.5,332.5 927.8,332.9 929.2,331.7 880.4,331.4M1234.3,1221.4 1234.6,1219.5 1234.2,1216.5 1234.2,1214.5 1234.7,1211.7 1235.3,1209.9 1233.8,1213 1215,1212.5 1213.1,1212.5 1213.3,1213.9 1232.5,1213 1233.7,1222.8 1233.6,1223.1 1234.3,1221.4M1236.7,693.8 1236.5,691.6 1212.9,691.6 1217.7,694.7 1234.8,694.7 1236.7,693.8M738.8,342.6 736.3,347.5 737.1,348.1 738.7,349.2 741.1,351 742.7,352.2 744.7,353.9 744.1,340.3 738.8,342.6M758.9,644.7 760,643.6 760,639 759,638.2 758.8,644.8 758.9,644.7M1113.1,884.3 1100,885.2 1096.2,866.5 1096.2,865 1095.9,865 1095,865.1 1095,866.5 1083,866.5 1078.5,867 1095.5,867 1097.5,885.2 1107.5,886.5 1112.9,885.2 1113.1,884.3M1239.6,471.1 1239.2,469.1 1238.3,465.9 1237.9,464 1237.1,461 1236.8,459.6 1238.5,469.7 1239.7,473.8 1240.1,473.6 1239.6,471.1M1235.8,455.9 1235.3,454 1234.4,451.1 1233.8,449.3 1232.8,449.1 1233.3,451.3 1236.1,456.7 1235.8,455.9M786.3,1247.8 782.5,1245.5 782.9,1242.5 782.2,1242.1 781.9,1242.6 780.8,1244.3 779.2,1246.8 780,1245.5 786.1,1248.1 786.3,1247.8M865.7,468.2 865.7,469.1 886.2,470 872.5,468.8 865.7,468.2M782,403.4 782.7,403.7 782.7,403.7 810,401.2 816.5,401.2 816.3,400.3 816.3,400 810,400 807.5,395 807.5,400 782.3,403.1 782,403.4M1096.2,841.7 1096.2,839 1095.1,812.1 1095,812.2 1095,840.8 1096.2,841.7M1119.7,832.4 1112.5,839 1113.5,840.4 1119.7,832.4M1167.6,602.7 1172.5,605.6 1174.2,604.5 1172.5,595 1172.5,582.5 1172.3,582.4 1167.6,602.7M862.3,871.5 862.3,871.5 852.5,869 840,869 839.2,855.7 837.5,855.4 837.5,869 862.3,871.5 862.3,871.5M1205.7,334.4 1204,333.7 1168.5,333.5 1170.4,335 1178.8,335 1205.8,334.5 1206.8,335.5 1205.7,334.4M1193.8,354.1 1193.8,353.8 1192.5,343.8 1192.9,353.4 1193.4,353.8 1193.8,354.1M1224.6,924.8 1222.5,899 1223.8,924 1207.2,925.4 1213.8,925.2 1216.6,925.7 1219,925.4 1224.6,924.8M1227.4,891.7 1222.5,899 1229.2,892.3 1227.4,891.7M844.2,601.7 845.6,599.7 835,601.2 820,596.2 822.6,602.1 825.2,604.7 835,605 837.5,602.5 844,602.1 844.2,601.7M720.1,602.9 722.5,610 722.5,601.9 720.1,602.9M793.8,330.7 753,330.5 752.7,331.8 770,331.8 793.5,331.8 793.8,330.7M848.1,621.8 847.9,622.5 865,622.5 871.2,630 877,627.3 879.2,624 875.7,620.2 872.5,620 848.7,620 848.1,621.8M1020.2,1479.5 1020.3,1481.9 1021.2,1480.5 1030,1480 1032.5,1493 1036.4,1496.9 1032.5,1480.5 1053.8,1479.2 1053.8,1470.8 1052.9,1470.6 1053,1479.2 1020.2,1479.2 1020.2,1479.5M722.3,331.1 722,331.5 722,331.8 722.2,332.6 722.4,333.4 722.7,334.6 723,335.4 723.8,336.8 725,338.3 726.4,339.8 729.8,342.7 731.4,344 733.8,345.8 735.4,346.9 736.3,347.5 738.8,342.6 722.6,330.8 722.3,331.1M1254.2,691.6 1245.7,691.6 1239.3,694.5 1239.4,694.7 1253.8,694.7 1253.8,698.3M1253.8,699.7 1253.8,712.7 1254.2,713.3 1254.2,699.7M1254.2,698.3 1254.2,691.6M1233.3,735.8 1235,714 1230,704 1232,735.3 1233.3,735.8M1253.9,743.4 1254.2,743.3 1254.2,713.3 1253.8,712.7 1253.8,714 1253.8,743.3 1253.9,743.4M702.8,791.4 700,784 699,795.6 701.5,792.9 702.8,791.4M678.7,754 677.5,774 680,756 678.7,754M705.1,756.2 704,755.7 680,756 705.1,756.2M1146.2,333.3 1104.7,333 1103,335 1112.5,335 1140,335 1145.9,335 1146.2,333.3M848.7,620 835,620 835,622.5 847.9,622.5 848.7,620M825.2,604.7 824.6,606.6 825,607.5 831.2,608.8 835,605 825.2,604.7M1254.5,522.5 1254.5,528.3 1248.7,529.2 1247.9,540.8 1254.5,536.7 1254.5,522.5M1140,403.8 1140,395 1131.2,410 1140,403.8M606.6,951.6 639.1,952.2 640.5,950.9 606.5,951.4 606.6,951.6M1097.5,1385.5 1087.5,1378 1085,1378 1097.5,1385.5M1204.9,861.8 1194.5,857.2 1185.9,857.7 1186.2,859 1185,884 1192.5,884 1208.7,879 1204.9,861.8M1163.2,886.3 1168.8,886.5 1185,884 1163,885.4 1163.1,886 1163.2,886.3M769.3,542.7 768.3,543.7 766.1,545.7 764.5,546.9 760.5,549.4 759.3,550 758.2,569.1 758.6,576 770,567.5 777.5,577.5 775,560 780,547.5 780,547.5 769.3,542.7M1121.4,985.1 1132.5,994 1138.8,976.5 1122,983.2 1121.7,984.2 1121.4,985.1M824,1005.7 846.2,1005.2 831.2,990.2 824.5,996.2 824,1005.7M847.4,1028.7 847.5,1028.6 847.5,1005.2 846.2,1005.2 847.4,1028.7M807.5,949 817.5,945.2 810,944 807.5,949M671,668.5 670.3,676.5 669.9,678.5 669.2,681.3 668.4,683.1 667.7,684.5 670.4,685.2 671.2,670 672.2,669.9 672.2,669.3 672.2,668.7 671.2,668.8 671,667 671,668.5M924.7,372 922.5,377.5 925,385 928,376.1 924.7,372M879.8,1038.7 865,1037.8 880.5,1039.8 879.8,1038.7M840,1039 847.5,1032.8 865,1037.8 847.5,1031.5 840,1039M869.8,1137.3 870,1136.6 882.5,1136.6 882.5,1133.9 866.3,1132.7 865.1,1132.6 839.9,1132.6 841.9,1137.3M879.9,1156.2 865,1153 862.5,1158 879.8,1156.9 879.9,1156.2M1097,1287 1105,1288 1110,1283 1102.5,1279.3 1101,1279.9 1097,1287M928,376.1 935,355 927.5,365 924.7,372 928,376.1M1227.7,513.3 1227.7,507.7 1217.2,507.7 1213,510.1 1212.5,513.7 1227.7,513.3M1156.2,490 1160,485 1150,487.5 1142.5,491.2 1156.2,490M949,710.2 940.6,710.2M940.5,710.6 949.6,716.5 950.8,716.1 949,710.2M1052.6,1434.2 1052.9,1470.6 1053.8,1470.8 1053.8,1434.9 1052.6,1434.2M1216.6,1012.7 1216.7,1012.3 1210,1011.5 1178.8,1012 1190,1013.5 1198.8,1014 1216.1,1014.2 1216.6,1012.7M1173.4,1000.5 1175,1007.8 1175,999.4 1173.4,1000.5M1171.2,1021.5 1175,1011.5 1178.8,1012 1175,1007.8 1171.2,1021.5M990.5,1422.5 990,1422.5 978.8,1424.2 978,1429.5 980,1425.5 993.1,1423.3 990.8,1422.6 990.5,1422.5M954.2,1446.2 954.3,1446.6 960,1445.5 972.5,1440.5 975.3,1434.9 967.5,1441.8 955,1445.5 954,1445.5 954.2,1446.2M999.4,1437.4 995.8,1433.8 996.2,1440.5 997.1,1440.8 999.4,1437.4M1015,804 1010,809 1022.5,819 1015,804M815.6,1310.5 822.2,1304.9 821.2,1300.5 812,1308.8 815.6,1310.5M835.6,1275.2 827.5,1279.2 836.2,1278.2 835.6,1275.2M962.5,1172.8 962.5,1170.5 960,1170.5 960.4,1172.3 962.5,1172.8M1006.4,1150.7 992.5,1153 987.5,1155.5 1006.3,1150.8 1006.4,1150.7M954,1445.5 947.5,1445.5 945.4,1441.8 942.5,1440.8 942.5,1443 947.5,1448 954.3,1446.6 954,1445.5M1058.1,332.7 1006.1,332.3 1009.1,333.7 1012.5,333.8 1047.1,334.2M1048,334.3 1058.2,334.3 1058.1,332.7M967.9,576.1 972.5,573.8 973,580 974.2,580.3 975,580.4 975,571.2 972.5,572.5 967.6,575.4 967.9,576.1M1030,934 1031.8,934 1031.3,932.3M1027,919.5 1020.4,926.1M1020.5,926.9 1030,934M1247.8,493.2 1247.8,493.1 1246.9,491.3 1245.6,488.7 1244.7,486.9 1242.8,483.1 1242.1,481.3 1241.2,478.7 1241,477.8 1241.1,478.2 1242.1,485.1 1245.6,492.3 1246.7,494.5 1247.8,493.2M946.2,1151.9 946.2,1145.9M945.4,1145.6 945.7,1153 946.2,1151.9M1053.8,1406.7 1053.8,1394.2 1053.8,1374.9 1053.5,1375 1053.2,1375.2 1052.5,1388 1052.5,1406.8 1053.8,1406.7M1097.4,1530.9 1100.1,1522.6 1100.5,1520.6 1100.5,1520.2 1096.6,1530.9 1097.1,1531.4 1097.4,1530.9M884.4,1258.4 885,1245.5 883.8,1248 865,1249.2 869.8,1253.4 884.4,1258.4M950.8,716.1 953.6,719 956.5,720.8M957.5,715.5 957.5,710.2 949,710.2 950.8,716.1M1053.9,1232.7 1053.8,1234.2 1053.8,1257.8 1055,1262.6 1055,1232.1 1054.3,1232.5 1053.9,1232.7M1166.6,1358.8 1167.6,1358.1 1167.7,1357.4 1166.9,1356.4 1165.6,1355.8 1164.4,1354.7 1164,1353.8 1164.1,1352.7 1162.5,1354.2 1161.6,1354 1164.3,1358.8 1166.1,1359 1166.6,1358.8M1009,1348.7 1005.4,1351.1 1003.8,1358 1005,1361.8 1005,1355.5 1010,1348.1 1009,1348.7M1005.8,1382 1006.2,1378 1002.7,1382.1 1005.8,1382M1027.5,1348 1033.8,1355.5 1033.8,1365.5 1035,1366 1034.2,1355.5 1030,1348 1027.5,1348M777.8,868.8 797.4,859.1 797.4,858.8 796.2,856.5 782.5,859 775,865.2 777.2,868.6 777.8,868.8M796.2,834 782.5,834 796.2,835.2 796.2,834M1253.9,923.8 1253.8,923.7 1253.8,930.2 1245.8,930.2 1253.8,931.5 1253.8,956.7 1253.9,956.8 1253.9,923.8M1176.2,1081.5 1191.2,1080.2 1157.5,1080.2 1176.2,1081.5M807.7,1218.5 807.7,1218.4 800,1215.5 805.9,1219.4 807.7,1218.5M801.3,1201.3 800,1204.7 799.1,1206.5 797.7,1209.1 797.5,1209.2 805,1205.5 801.5,1200.2 801.3,1201.3M796.5,1210.7 794.7,1212.8 793.6,1214.4 792.8,1215.5 800,1215.5 797.5,1209.3 796.5,1210.7M895.7,1304.8 901.2,1308 902.5,1320.5 902.5,1290.5 900,1283 899.9,1283.1 895.7,1304.8M900.6,1321.8 902.5,1321.8 915,1328 902.5,1320.5 900.6,1321.8M1063.8,931.5 1061.3,926.7 1061.5,928.6M1061.9,934.2 1063.8,944 1063.8,931.5M1053.1,1328.5 1052.5,1313 1052.5,1327.3 1053.1,1328.5M1221,421.1 1219.1,418.8 1217.9,417.2 1214.6,412.8 1213.5,411.1 1211.9,408.6 1210.9,406.9 1212.5,410 1212.5,412.5 1220,420 1221.1,421.3 1221.1,421.3 1221,421.1M1202.9,431.5 1204.1,432.5 1212.5,432.5 1202.8,431.2 1202.9,431.5M1214.1,958.9 1214.8,959.2 1215,959 1213.8,926 1213.8,926 1213.8,956.5 1213,958.4 1214.1,958.9M1216.6,925.7 1224.7,927 1224.6,924.8 1216.6,925.7M798.1,700.2 803.9,700.2 802.8,699.7M1054.4,1270.4 1055,1269.5 1055,1262.6 1053.8,1257.8 1053.8,1271.2 1054.4,1270.4M1172.5,605.6 1174.1,608.6 1175,608.6 1174.2,604.5 1172.5,605.6M815.6,1310.5 815.8,1311 820,1310.5 823.7,1311.7 822.2,1304.9 815.6,1310.5M835.8,1343 839.2,1344.3 839.5,1344.6 842.2,1343.5 841.4,1338.8 835.3,1342.8 835.8,1343M779.2,1129.7 783.8,1129.1 783.8,1129 786.2,1121.5 776.7,1130 779.2,1129.7M600.6,853.8 600.7,853.8 618.8,852.8 620,835.2 618.8,851.5 600.9,852.6 600.6,853.8M632.5,835.2 632.5,829 620,835.2 632.5,835.2M1000.7,631.3 1005.8,631.9M1011.2,631.9 1011.2,631.2 1010,630 1000.7,631.2M1139.3,816.7 1139.4,816.5 1133.8,816.5 1129.2,823.3 1129.6,823.3 1129.8,823.3 1139.1,817.1 1139.3,816.7M1253.8,987.3 1253.9,956.8 1253.8,956.7 1253.8,965.2 1246.2,966 1246.1,965.9 1246.2,966.5 1253.8,966.5 1253.8,987.4 1253.8,987.3M924.4,1230.5 937.5,1230.5 939.3,1228.2M940.7,1226.5 942.5,1224.2 940.7,1225M939.3,1225.7 931.2,1229.2 924.3,1230.2 924.4,1230.5 924.4,1230.5M885.3,1203.7 882.5,1200.3 882.5,1207.3 885.3,1203.7M877.6,1194.2 845,1193.5 845,1193.5 858.8,1195.5 878.3,1195.1 877.6,1194.2M880.5,1039.8 883.8,1040.2 883.8,1039 879.8,1038.7 880.5,1039.8M832.8,1132.6 820.9,1132.6 820.4,1137.3M825.3,1137.3 832.8,1132.6M808.2,1144.1 807.5,1143 810,1141.6 804.6,1141.6 807.8,1144.1 808.2,1144.1M942.4,472.4 932.2,463.9 930.7,466.1 942.4,472.4M947,474.9 953.8,460 942.5,472.5 947,474.9M1197.5,640 1185,642.5 1192.8,654.2 1197.5,640M752.5,919 755,916.5 747.3,916.5 752.5,919M882.5,1133.9 882.5,1132.6 865.1,1132.6 882.5,1133.9M882.5,1119 890.8,1116.8 882.5,1114 882.5,1119M1019.6,1309.4 1015,1309.2 1008.8,1310 1019.1,1310.1 1019.6,1309.4M977.8,1294.6 978.8,1309.2 978.8,1293.4 977.8,1294.6M899.3,955.6 895,957.8 895.8,961.5 899.3,963.7M1169.8,820.6 1168.8,814 1165,816.5 1169.8,820.6M905,642.5 903.8,658.8 915,655 905,642.5M1239.7,1100 1238.7,1099 1237.5,1097.4 1236,1095.1 1235.2,1093.3 1235,1092.8 1236.2,1096.5 1228.7,1101.5 1229.4,1102.2 1237.5,1099 1239.5,1100.6 1239.7,1100M1109.7,452.7 1115,450 1113.9,441.5 1107.5,450 1106.6,450.9 1109.7,452.7M1131.8,1037.2 1137.5,1036.5 1132.2,1033.2 1131.8,1037.2M1167.6,1034.3 1167.6,1034.2 1152.5,1035.2 1156.2,1036.5 1166.8,1035.6 1167.6,1034.3M1253.9,923.8 1254,898.9 1253.8,899 1253.8,923.7 1253.9,923.8M837.5,435 837.5,436.2 857.5,435 847.5,425 837.5,435M1082.2,412.5 1092.5,412.5 1085,402.5 1083,404.5M1082.6,406 1082.6,410 1082.2,410 1082.2,412.5M995.4,1193.6 991.3,1209.2 992,1210.4 998.8,1215.5 996.6,1193.5 995.4,1193.6M1006.7,1238.6 1010,1233 1004.5,1234.4 1006.7,1238.6M1176.6,396 1162.5,392.5 1167.5,400 1176.3,396.7 1176.3,396.6 1176.6,396M1152.5,391.2 1147.5,392.5 1162.5,392.5 1152.5,391.2M776.1,1070.8 775,1074 790,1069 786.5,1065.5 776.1,1070.8M1163,885.4 1152.5,886 1163.2,886.3 1163,885.4M1150.9,876.3 1151.2,885.2 1152.5,886 1151.7,876.8 1150.9,876.3M1188.5,980.1 1191.2,986.5 1203.8,987.8 1208.8,989 1208.6,986.5 1197.5,986.5 1188.3,978.9 1188.5,980.1M1140.2,490.1 1132.7,486.3 1129.9,487.4 1128.8,510 1137.9,503.9 1141.6,491.9 1140.2,490.1M1140.3,851.6 1136.2,852.8 1128.8,841.5 1128.8,824 1119.7,832.4 1113.5,840.4 1121.5,852.5 1125,849 1136.2,854 1139.8,853.7 1140.3,851.6M1193.5,377.2 1193.3,379.8 1202,377.5 1195,378.8 1194.7,374.2 1193.5,377.2M1194.7,374.2 1194.5,370 1193.8,354.1 1192.9,353.4 1193.8,372.5 1193.5,377.2 1194.7,374.2M1168.5,333.5 1146.2,333.3 1145.9,335 1170.4,335 1168.5,333.5M758.7,550.3 756,551.6 754.1,552.3 748.4,554 746.4,554.6 743.6,555.6 741.7,556.2 738.3,557.5 741.3,556.4 741.7,556.2 757.5,556.2 758.2,569.1 759.3,550 758.7,550.3M727.8,564.1 726.1,565.2 723.6,566.7 721.8,567.5 717.5,569.3 717.9,569.6 725,567.5 729.3,579.4 730,580 730,562.5 727.8,564.1M732.5,582.1 733.8,582.5 750,582.5 754.5,579.1 745,580 730,580 732.5,582.1M1213.1,1212.5 1188.8,1212.5 1172.7,1212.7M1172.7,1212.7 1182.5,1213 1205,1214.2 1213.3,1213.9 1213.1,1212.5M834.9,463.8 842.5,463.8 837.5,462.5 835.6,462.5 834.9,463.8M858.8,493.2 858.8,468.8 865.7,469.1 865.7,468.2 857.5,467.5 844.2,464.2 857.5,476.2 858.3,493.2 858.8,493.2M993.1,1423.3 995,1423 995.1,1423.9 998.3,1425 1003.9,1424.5 1004.6,1423.2 1004.5,1422.3 990.5,1422.5 993.1,1423.3M1001.5,1387.6 1001.2,1383.8 997.5,1388 996,1397 1001.8,1391.2 1001.5,1387.6M1175,999.4 1175,989 1172.5,996.5 1173.4,1000.5 1175,999.4M1182.5,974 1180,979 1187.1,977.8 1182.5,974M1245.7,691.6 1236.5,691.6 1236.7,693.8 1239.3,694.5 1245.7,691.6M972.5,410 990,411.2 975,405 972.5,401.2 972.5,410M926.3,1335.9 927.5,1346.8 932.5,1353 931.2,1347.5 939.3,1347.5M940.7,1347.5 960.1,1347.5 960.5,1346.5 943.8,1345.5 940.7,1345.5M939.3,1345.5 927.5,1345.5 926.3,1335.9 926.3,1335.9M935,1368 937.5,1368 932.5,1353 935,1368 935,1368M930.7,466.1 932.2,463.9 927.5,460 920,467.5 922.7,468.1 930.7,466.1M1214.4,855.9 1194.5,857.2 1204.9,861.8 1214.4,855.9M1221.6,851.3 1217.5,846.5 1203.8,841.5 1202.5,821.5 1198.8,816.5 1202.5,841.5 1217.5,847.8 1221.3,851.5 1221.6,851.3M1006.1,332.3 1001,332.3 1001.1,333.6 1009.1,333.7 1006.1,332.3M1012.5,356.9 1012.5,370 1012.5,370M1013.5,369.5 1013.8,357.5 1013.7,356.3 1012.5,355M1166.8,1035.6 1171.2,1035.2 1171.2,1034 1167.6,1034.2 1166.8,1035.6M1010,1348.1 1010,1348 1006.2,1347.5 1005.4,1351.1 1010,1348.1M975.9,1546.8 975.2,1544 975,1542 975,1539 975.3,1537 976.1,1534.4 977,1532.6 981.7,1525.9 980.8,1527.2 972.5,1535.5 975,1545.5 976.6,1548.6 975.9,1546.8M699,795.6 698.8,799 707.5,804 702.8,791.4 699,795.6M846.2,399.3 846.2,371.3 845.1,371.3 846.2,399.3 846.2,399.3M672.2,669.9 687.5,667.5 672.2,668.7 672.2,669.9M1141.6,491.9 1137.9,503.9 1143.8,500 1142.6,492.3 1141.6,491.9M1215.9,442.8 1212.7,443.5 1217.1,445.4 1215.9,442.8M1187,457 1186.9,456.9 1188,468.8 1205,467.5 1205.1,468.6 1206.7,468.5 1206.7,463.6 1203.6,461.5 1202.6,454.4 1198.5,451.3 1199.2,451 1193.8,449.2 1194.2,453.8 1191.2,457.5 1187,457M816.5,401.2 846.2,401.2 847.2,419.2 847.2,419.2 846.2,400 816.3,400 816.5,401.2M776.7,1130 775,1131.5 772.5,1130.8 772.5,1130.8 773.5,1131.2 776.3,1132.3 778.1,1133.2 781.9,1135.3 783.8,1136.1 786.5,1137 786.9,1137 783.8,1129.1 776.7,1130M1013.8,511 1014.6,512M1016,522.5 1016.2,525 1016.1,525.2M1011,531.1 1022.1,529 1017.5,517.5 1015.6,512.4M1015.5,512.2 1014.9,510.6 1013.8,511M757.5,799 770,794 760,791.5 757.5,799M1254.1,824 1253.8,823.8 1253.8,859.6 1254,859.6 1254.1,824M774.1,1004 735,1004 774.1,1004.8 774.1,1004M867.5,552.5 855,547.5 857.5,555 867.5,552.5M1069.6,1141.1 1082.3,1141.1 1081.2,1139 1071.8,1139 1069.6,1141.1M1251.8,1137.3 1251.5,1136.2 1212,1136.2 1212.2,1137.3M778.4,516.1 778.2,516.4 777.5,518.3 776.2,521.7 775.7,523.6 775,526.5 774.7,528.5 774.1,534 773.6,535.9 772.5,538.5 771.5,540.2 769.7,542.3 769.3,542.7 780,547.5 773.8,537.5 777.5,522.5 778.6,516.1 778.4,516.1M697,696.4 724.5,696.4 723.2,692.1 689.1,692.1 697,696.4M1052.5,1337.5 1052.5,1345.5 1036.6,1347.3 1035.5,1347.9 1060,1347.5 1072.5,1355.5 1060,1346.8 1053.8,1345.5 1053.4,1337 1052.5,1337.5M710.5,874.9 690,871.5 677.5,866.5 677.5,875.2 710.3,875.2 710.5,874.9M999.3,332.2 987.1,332.2 983.8,333.5 999.3,333.6M1000.7,333.6 1001.1,333.6 1001,332.3M765.8,960.4 760,956.5 757.5,956.5 757.5,964 763.7,964 765.8,960.4M930.6,1518.5 933.1,1522.5 934.2,1524.2 935.6,1526.2 936.6,1527.6 937.2,1528.4 938,1529.9 939,1532 939.3,1533M939.3,1532.7 938.8,1530.5 939.3,1530.1M940.7,1529.1 947.5,1524.2 940.7,1526.8M939.3,1527.3 937.5,1528 929.7,1516.9 930.6,1518.5M600.6,853.8 600.9,852.6 596,852.9 597.9,854 600.6,853.8 600.6,853.8M1216.1,1014.2 1252.2,1014.5 1251.6,1013.5 1227.5,1013.5 1216.7,1012.3 1216.1,1014.2M1099.4,1278.6 1095,1283 1055,1281.8 1055,1269.5 1053.8,1271.2 1053.8,1281.8 1052.5,1283 1085,1285.5 1097,1287 1101,1279.9 1099.4,1278.6M937,546.5 939.9,552.3 940,552.3 941.2,540 938.1,537.8 937,546.5M972.8,503.8 972,503.8 972,515 972.5,515 972.5,506.2 975.2,506.2 972.8,503.8M952.8,509.6 955,515 972,515 955,513.8 955,508.7 952.8,509.6M1092.2,1499.3 1092.1,1499.2 1090.8,1496.6 1090,1494.7 1088.7,1491.3 1088.4,1489.5 1087.5,1493 1091.9,1499.3 1092.2,1499.3M747.5,716.5 746.2,731.5 777.5,716.5 747.5,716.5M1232,735.3 1232.5,744 1212.5,742.8 1212,727.9 1211.1,727.6 1210.3,728.2 1211.2,744 1202.8,745.9 1204.1,747.3 1232.5,745.2 1233.3,735.8 1232,735.3M1020.2,1479.2 1020,1479.2 1010,1486.8 1016.5,1487.6 1020.3,1481.9 1020.2,1479.2M994,1472.7 992.5,1479.2 1010,1486.8 993.8,1478 994.7,1472.2 994,1472.7M883,1214.2 895,1213 898.5,1199.9 885.3,1203.7 882.5,1207.3 882.5,1211 883,1214.2M1149.7,450.2 1148.9,451 1148.8,452.5 1150,455 1150,449.9 1149.7,450.2M1077.2,866.5 1076.2,866.5 1076.1,865.3 1076.1,865.3 1075,864.3 1075,874 1076.2,867 1077.7,867 1077.2,866.5M1036.6,774 1045,772.8 1036.8,771.6M1036.2,772.1 1036.6,774M1002.7,1382.1 1001.2,1383.8 1001.8,1391.2 1005,1388 1005.8,1382 1002.7,1382.1M910.1,901.6 910,901.5 907.9,895.3M907,894.3 900.7,898.1M899.3,898.9 895.9,901M845,331.1 837.4,331.8 851.2,331.8 865,332.1 863.4,331.3 845,331.1M825.5,351.3 842.5,352.5 850,350 842.5,351.2 825.5,351.2 825.5,351.3M1205.4,473.6 1206.2,485 1207.6,486.7 1206.7,477.9 1206.2,473.8 1205.4,473.6M1155.1,548.8 1154.2,547.9 1150,547.5 1125,551.2 1135.7,554.8 1131.2,551.2 1155,550.5 1155.1,548.8M1095,840.8 1095,865.1 1096.2,865 1096.2,841.7 1095,840.8M973,580 975,603.8 975,580.4 973,580M879.2,624 882.9,624.6 888.5,622 889.3,621.2 875.7,620.2 879.2,624M880,605 880,612.5 882.5,612.5 880,605M870.3,1331.9 868.8,1338 877.5,1341 882.5,1346.8 877.5,1340.5 876.2,1333 873.6,1330.4 872,1331.1 870.3,1331.9M893.8,1355.5 887.5,1356.8 893.8,1358 895,1346.8 893.8,1355.5M1058.1,1033.4 1061.4,1034.8 1070.9,1036.3 1070.9,1035.1 1060,1034 1058.8,1031.5 1056.2,1026.5 1056.2,1006.5 1054.5,1008.8 1052.5,1019 1048.9,1018M1048.2,1019 1052.5,1020.2 1055.8,1032.3 1058.1,1033.4M1010.5,643.1 1010,650 1011.2,650 1011.2,642.9 1010.5,643.1M987.4,1347.5 977.5,1347.5 977.5,1348 987.7,1347.8 987.4,1347.5M960.1,1347.5 977.5,1347.5 960.5,1346.5 960.1,1347.5M1213,510.1 1208.8,512.5 1208.8,513.8 1212.5,513.7 1213,510.1M1254.5,536.7 1247.9,540.8 1247.7,543.6 1244.8,547.5 1247.5,547.5 1254.5,547.5 1254.5,536.7M1055.8,1032.3 1056.2,1034 1061.4,1034.8 1055.8,1032.3M1004.6,1423.2 1003.9,1424.5 1020,1423 1027.5,1430.5 1038.2,1421.9 1007,1422.3 1004.6,1423.2M898.5,1199.9 900,1194.2 882.5,1194.2 877.6,1194.2 878.3,1195.1 882.5,1195 882.5,1200.3 885.3,1203.7 898.5,1199.9M1055,1232.1 1055,1218 1053.9,1232.7 1055,1232.1M1065,1220.5 1055,1215.5 1055,1218 1065,1220.5M845,331.1 832.9,331 833.6,331.8 837.4,331.8 845,331.1M1189.1,430.6 1189.1,430.5 1172.5,432.5 1186.1,432.5 1189.1,430.6M833.3,673.5 833,673.6 834.4,698.3M834.5,699.7 834.5,700.6 835,700.4 835,699.7M835,698.3 835,695.9 835,682.5 833.8,674.2 833.3,673.5M802.8,699.7 803.9,700.2 809.3,700.2 809.3,699.7M809.2,698.3 808.7,692.3 799.5,692.3 800,698.3M805.9,1219.4 807.5,1220.5 810,1219.2 807.7,1218.4 805.9,1219.4M799,1231.1 808.8,1233 807.5,1230.5 799,1230.5 799,1231.1M822.5,1253 825,1243 811.2,1243 822.5,1253M844.1,760.7 835,761.5 847.5,763.1 844.1,760.7M1186.1,432.5 1187.5,432.5 1204.1,432.5 1202.9,431.5 1192.4,430.2 1189.1,430.5 1186.1,432.5M1104.5,968.5 1100.3,985.2 1102.5,984 1104.7,968.6 1104.5,968.5M1208.8,543.3 1208.8,529.9 1207.6,529.7 1208.4,543.2 1208.8,543.3M1155,550.5 1172.5,550 1172.5,558.8 1173.8,550 1158,548.3 1155.1,548.8 1155,550.5M1170.2,568.7 1172.5,558.8 1168.8,567.5 1168.7,568 1170.2,568.7M757.6,692.1 751.4,692.1 752.2,696.4 757.6,692.1M758.8,644.8 758.8,645 758.6,645 757.7,645.9 760,660 760,645 760,643.6 758.8,644.8M722.2,755.5 711.3,755.6 710.5,756 709.9,756.3 724.2,756.4 722.2,755.5M839.2,855.7 838.8,849 843.8,839 837.5,849 837.5,855.4 839.2,855.7M1072.8,1530.1 1077.2,1533.4 1078.9,1534.4 1081.6,1535.4 1083.5,1535.9 1086.5,1536.3 1083.6,1535.9 1071.4,1529.1 1072.8,1530.1M787.3,1227 787.2,1227.5 796.2,1230.5 787.8,1225.7 787.3,1227M1103.3,484.1 1103.8,483 1104.9,479.4 1104.4,477.2 1102.3,484.6 1103.3,484.1M1106.6,450.9 1100,457.5 1109.7,452.7 1106.6,450.9M1070.1,1137.3 1068.2,1135.3 1037.2,1135.3 1037.3,1137.3M1037.4,1138.7 1037.5,1140.8 1055,1141.1 1069.6,1141.1 1071.8,1139M1218.3,1242.1 1219.2,1237.7 1220,1235.8 1221,1234 1222.1,1232.7 1222.9,1232.1 1224.3,1231 1225,1230.5 1220,1233 1218,1242.8 1217.7,1244 1218.3,1242.1M873.6,1330.4 871.2,1328 870.3,1331.9 873.6,1330.4M899.9,1283.1 895,1288 890,1289.2 892.5,1303 895.7,1304.8 899.9,1283.1M817.5,1186.8 816.2,1191.8 826.2,1196.8 826.2,1185.5 817.5,1186.8M703.4,934 677.5,934 677.5,935.2 704.1,935.2 703.4,934M663,952.2 663.4,952.6 670,952.8 677.5,961.5 688.1,970.2 691.2,966 691.2,951.5 677.5,950.2 663.9,950.5 663,952.2M1202.8,745.9 1200,746.5 1197.5,747.8 1204.1,747.3 1202.8,745.9M1184,794.4 1185,784 1182.5,774 1184,794.4M844,602.1 860,601.2 870,597.5 871.2,587.5 860,597.5 845.6,599.7 844,602.1M1178.5,1150.7 1172.7,1151M1171.3,1151 1168.8,1151.1 1168.8,1151.2M1169.4,1152.1 1171.3,1152.1M1172.7,1152.1 1176.4,1152 1178.5,1150.7M1155.4,432.5 1151.2,432.5 1137.5,432.5 1150,433.8 1156.4,433.4 1155.4,432.5M1150,449.9 1150,433.8 1148.9,451 1150,449.9M1004.5,1234.4 980,1240.5 1006.2,1239.2 1006.7,1238.6 1004.5,1234.4M863.4,331.3 865,332.1 877.5,332.5 879.5,332.5 880.4,331.4 863.4,331.3M832.1,502.4 836.2,502.5 858.8,502 832.1,502 832.1,502.4M667.7,684.5 666.6,686.9 665.7,688.6 664.3,691.3 663.3,693.1 661.7,695.9 660.7,697.7 661.4,696.4 671.6,696.4 672.8,692.1 670,692.1 670.4,685.2 667.7,684.5M1083.3,1423 1103.2,1423M1103.2,1422.4 1102.5,1421.8 1083.3,1421.8 1083.3,1423M649.8,601.6 649.2,603.6 648.2,606.4 647.6,608.3 644.9,615.5 644.7,617.4 645,619.9 645.6,621.7 646.9,623.8 648.1,625.8 649.3,627.4 651,629.8 652.3,631.4 653.8,633.1 655.2,634.8 656.7,636.2 658.9,638 660.6,639.1 661.9,639.7 665,641.2 666.1,644.6 666.1,644.6 666.9,646.9 668.8,652.5 669,653.9 669,654 669.4,655.9 670.6,661.6 670.8,663.5 671,666.5 671,667 671.2,668.8 687.5,667.5 705,657.5 720.1,653.2 722.5,610 720,602.5 710,598.8 672.5,596.2 665.8,594.9 652.5,593.8 649.9,601.3 649.8,601.6M760,379 760.3,381 761,383.7 761.7,385.5 763.3,388.2 764.4,389.9 766.2,392.2 767.5,393.7 768.8,395 770,396.3 771.5,397.6 773.9,399.3 775.6,400.4 776.9,401 778.1,401.6 779.9,402.5 781.5,403.2 807.5,400 807.5,395 807.5,387.5 815,382.5 815,376.2 806.2,375 804.5,360 804.8,358.2 796.2,358.2 775.5,356.2 775.5,370 760,372.5 760,376 760,379M896.2,375 907.5,380 922.5,377.5 927.5,365 935,355 935,333 877.5,332.5 878.7,359.9 895,358.8 896.2,375M1013.7,356.3 1012.9,341.8M1012.5,341.9 1012.5,355 1013.7,356.3M1047.1,334.2 1012.5,333.8 1012.5,334M1013.1,335 1046.6,335M972.5,401.2 975,405 975,365 960,360 935,355 925,385 946.2,401.2 972.5,401.2M1012.5,370 1012.5,385.4M942.5,472.5 953.8,460 965,457.5 970,445 962.5,430 941.2,430 917.5,432.5 927.5,460 942.5,472.5M1022.5,450 1024.3,450M1025.4,449.6 1027.6,447.4M1027.8,446.4 1026,445.5M1024.3,445.7 1022.3,447.7M1022.2,449.1 1022.5,450M865,510 885,520 905,510 902.5,472.5 886.2,470 858.8,468.8 858.8,502 865,510M920,500 930,488.8 942.5,485 942.5,472.5 920,467.5 902.5,472.5 905,510 920,500M837.5,552.5 855,547.5 867.5,552.5 875,542.5 892.5,532.5 886.6,522.7 882.5,525 867.5,515 865,510 858.8,502 836.2,502.5 835,542.5 837.5,552.5M875,542.5 867.5,552.5 857.5,555 860,570 870,577.5 871.2,587.5 870,597.5 872.5,602.5 880,605 882.5,612.5 910,605 915,582.5 907.5,567.5 917.5,560 916.2,547.5 917.5,533.8 910,517.5 905,510 900,515 886.6,522.7 892.5,532.5 875,542.5M790,620 800,630 822.5,627.5 835,622.5 835,620 831.2,608.8 825,607.5 820,596.2 792.5,593.8 783.8,600 783.8,613.8 790,620M777.5,662.5 780,672.5 785,680 807.5,677.5 800,660 785,650 797.5,640 777.5,646.2 760,645 760,660 777.5,662.5M872.5,620 890,621.2 893.8,616.2 896.2,621.2 908.8,622.5 912.5,632.5 918.8,635 915,641.2 905,642.5 915,655 940,650 942.5,620 935,607.5 910,605 882.5,612.5 880,612.5 872.5,620M950,675 962.5,672.5 975,672.5 975,660 955,660 940,650 915,655 903.8,658.8 895,660 895,680 895,693 920,693 924.9,696.6 926.7,695.3M927,694.3 920,687.9 936.7,687.9M938.3,687.2 945,682.5 950,675M895,680 835,682.5 835,695.9 877.4,695.9 877.5,693 895,693 895,680M785,680 777.5,692.3 808.7,692.3 807.5,677.5 785,680M1082.5,360 1088.8,353.8 1085,347.5 1080,345 1080,335 1076.3,335 1076.3,366.2 1082.5,360M1053.8,411 1053.8,410 1053.8,373.1M1053.2,372.5 1035,373.8 1027.5,360 1013.8,357.5 1013.5,369.5M1013.1,411.2 1053.2,411.2M1092.5,412.5 1100,418.8 1112.5,412.5 1115,403.8 1125,400 1131.2,410 1140,395 1135,380 1113.8,377.5 1107.5,385 1105,391.2 1087.5,391.2 1085,402.5 1092.5,412.5M1135,380 1140,395 1140,403.8 1147.5,392.5 1152.5,391.2 1152.5,372.5 1140,370 1140,351.2 1113.8,352.5 1113.8,377.5 1135,380M1013.1,414.1 1017.5,435 1018.9,439.3M1019.8,440.8 1024.5,444.6M1025.7,444.7 1032.8,441.9M1034.4,440.6 1040,435 1037.5,412.5 1053.1,411.6M1053.2,411.2 1013.1,411.2M1100,457.5 1107.5,450 1113.9,441.5 1112.5,431.2 1082.2,430.2 1082.2,453.9 1100,457.5M1130,460 1148.8,452.5 1150,433.8 1137.5,432.5 1112.5,431.2 1115,450 1130,460M1187.4,447.8 1189.2,447 1193.8,449.2 1199.2,451 1204.3,449.3 1204.6,447.3 1204.6,445.1 1205,445 1205,445 1205.2,445 1211.8,443.1 1212.7,443.5 1217.5,442.5 1229.9,443.6 1231.2,443.1 1229.6,432.9 1229.4,432.5 1212.5,432.5 1187.5,432.5 1186.4,447.5 1187.4,447.8M1085,492.5 1100,492.5 1104.4,477.2 1100,457.5 1082.2,453.9 1082.2,457.5 1072.7,458.2M1071.3,458.3 1070.1,458.4M1070,458.5 1070,480 1066,481 1070,485 1071.3,485.6M1072.7,486.4 1085,492.5M1095,515 1105,512.5 1128.8,510 1130,485 1105,480 1100,492.5 1085,492.5 1090,510 1095,515M1187.5,527.5 1207.5,528.8 1207.6,529.7 1208.8,529.9 1208.8,529.3 1208.7,529.2 1208.7,513.8 1208.8,513.8 1208.8,512.5 1217.2,507.7 1207.7,507.7 1207.7,492.3 1202.6,492.3 1201.5,488.2 1207.7,487.2 1207.6,486.7 1206.2,485 1192.5,487.5 1188,482.5 1185,510 1187.5,527.5M1110,525 1113.8,537.5 1112.5,550 1125,551.2 1150,547.5 1151.2,532.5 1162.5,532.5 1165,525 1170,522.5 1170,510 1160,512.5 1147.5,512.5 1143.8,500 1128.8,510 1105,512.5 1110,525M1018.9,576.4 1010,575 1010,580.5M1010.6,581.7 1012.5,582.5 1019.3,577.1M1210,570 1232.5,571.2 1254.4,570 1254.5,547.5 1247.5,547.5 1244.8,547.5 1244.6,547.7 1229.2,547.7 1229.2,530.8 1223.1,530.3 1211.8,531.3 1208.8,529.3 1208.8,548.8 1210,570M1175,608.6 1218.8,607.5 1222.5,588.8 1210,587.5 1190,588.8 1188.8,582.5 1172.5,582.5 1172.5,595 1175,608.6M1175,630 1217.5,627.5 1218.8,607.5 1167.5,608.8 1170,622.5 1175,630M1106.2,635 1120,645 1140,642.5 1150,635 1152.5,620 1132.5,607.5 1131.2,592.5 1120,592.5 1115,605 1110,620 1106.2,635M1075,660 1087.5,657.5 1095,670 1110,670 1125,665 1120,645 1106.2,635 1095,640 1075,642.5 1072.7,640.8M1071.3,639.8 1061.2,632.5 1062.5,650 1071.3,650M1072.7,650 1073.7,650 1073.7,661.3 1075,660M1195.8,710.7 1193.8,706.5 1193.2,710.7 1195.8,710.7M1207.1,691.6 1205,691.6 1207.5,687.5 1205,672.5 1200,665 1194.4,657.6 1177.5,660 1172.5,672.5 1150,675 1151.9,696.1M1152.6,697.1 1200,697.1 1200.5,698.3M1201,699.7 1203.8,706.5 1201.6,699.7M1201.2,698.3 1200,694.7 1206.7,694.7 1207.1,691.6M673.8,799 698.8,799 700,784 732.5,781.5 732.5,756.5 680,756 677.5,774 673.8,799M760,791.5 775,781.5 780,771.5 775,761.5 738.8,755.2 732.5,756.5 732.5,781.5 760,791.5M632.5,835.2 620,835.2 618.8,852.8 635,859 655,856.5 670,859 677.5,866.5 690,871.5 697.5,854 700,834 710,821.5 707.5,804 698.8,799 673.8,799 670,806.5 660,816.5 658.8,835.2 632.5,835.2M690,871.5 712.5,875.2 720,889 732.5,901.5 745,901.5 747.5,904 760,896.5 765,881.5 772.5,871.5 777.5,869 775,865.2 765,861.5 757.5,854 757.5,845.2 747.5,842.8 757.5,831.5 751.2,819 725,814 710,821.5 700,834 697.5,854 690,871.5M760,791.5 770,794 780,806.5 790,809 796.2,819 796.2,834 796.2,835.2 796.2,856.5 797.5,859 812.5,846.5 822.5,829 830,816.5 835,804 855,781.5 855,764 835,761.5 832.5,757.8 817.5,757.8 810,769 780,771.5 775,781.5 760,791.5M835,804 842.5,811.5 843.8,826.5 855,829 872.5,829 882.5,819 899.3,804.1M900.7,802.8 902.1,801.6 902.1,774 900.7,774M899.3,774 897.3,774M896,773.5 887.5,772.8 886.2,759 873.8,752.8 865,759 855,764 855,781.5 835,804M1063.7,721 1045,714 1037,723.2M882.5,819 895,821.5 899.3,823.6M900.7,824.4 902.1,825 902.1,801.6 900.7,802.8M899.3,804.1 882.5,819M988,843.5 995,836.5 993,835.5M990.7,838.6 988,843.5M872.5,894 870,919 882.5,929 892.5,914 892.8,912.5M893.4,908.9 893.4,901.5 894.4,901.6M895.9,901 899.3,898.9M900.7,898.1 907,894.3M904,889.3 900.7,884.9M899.3,861.6 887.5,864 875,871.5 862.5,871.5 862.5,891.5 872.5,894M785,924 780,949 787.5,944 797.5,929 807.5,931.5 822.5,899 781.2,899 781.2,909 785,924M831.2,946.5 832.5,969 875,964 878.8,954 880,939 882.5,929 870,919 835,919 837.5,946.5 831.2,946.5M1047.5,909 1047.5,907.6M1044.2,910.7 1047.5,909M846.2,1005.2 847.5,1005.2 860,996.5 865,976.5 885,974 897.5,969 895,957.8 878.8,954 875,964 832.5,969 831.2,990.2 846.2,1005.2M742.5,1036.5 757.5,1039 772.5,1034 785,1024 795,1005.2 735,1004 730,1031.5 742.5,1036.5M702.5,1056.5 705,1059 708.1,1066.5 709.9,1070.8 709.9,1070.8 711.2,1074 711.9,1081.5 712.2,1085.5 712.5,1087.5 713,1090.4 713.5,1092.4 714.4,1095.2 715.2,1098.1 715.2,1098.1 716.2,1101.5 715,1104.8 715,1104.8 714.4,1106.5 713.7,1108.2 713.4,1110.2 713.6,1112.2 714.1,1113.8 714.4,1114.2 714.7,1114.7 716,1115.8 717.8,1116.6 719.8,1117 731.5,1117 732.5,1117 735,1076.5 732.5,1061.5 727.5,1049 715,1051.5 695,1049 697.5,1051.5 702.5,1056.5M855,1104 870,1101.5 872.5,1091.5 882.5,1086.5 880,1074 855,1076.5 845,1081.5 845,1099 855,1104M828.8,1126.5 821.2,1129 820.9,1132.6 882.5,1132.6 882.5,1119 882.5,1114 870,1101.5 855,1104 845,1099 830,1104 825.3,1120.4 828.8,1120.2 828.8,1126.5M1042.1,1085.9 1061.9,1087.8M1075.2,1070.6 1072.7,1071.4M1071.3,1071.9 1066.8,1073.4M1075.2,1073.1 1075.2,1070.6M1062.5,749 1062.5,759 1071.3,762.8M1072.7,763.4 1080,766.5 1095,764 1115,759 1133.8,746.5 1132.5,715.2 1116.2,714 1080,715.2 1072.7,718.3M1071.3,718.9 1065.6,721.3M1036.2,724.6 1035,739.7M1038,741.4 1052.1,746.9M1055.2,748 1062.5,749M987.5,774 995,804 1010,809 1015,804 1027.5,789 1036.2,786.1 1036.2,774 1030.4,771.5 1027.5,771.5 1017.5,756.5 1019.5,752.4M1019.3,751.6 995,756.5 986.5,722.5 977.5,731.5 985,759 981.3,766.5M981.3,767.8 987.5,774M1016.1,791.3 1015,796.5 1001.2,796.5 1000.1,789.6M1135,799 1133.8,816.5 1140,816.5 1165,816.5 1168.8,814 1182.5,809 1184,794.4 1182.5,774 1187.5,751.5 1165,752.8 1150,744 1133.8,746.5 1142.5,779 1135,799M1027,919.3 1017.5,924 1017.8,924.3M1020.4,926.1 1027,919.5M1047.5,905.9 1047.5,884 1031.8,884M1029.9,884.6 1025.7,903.2M1025.8,905.6 1027.4,918.4M1034,915.8 1042,911.8M1063.8,931.5 1071.3,929.7M1072.7,929.4 1090,925.2 1107.5,924 1102.5,919 1103.8,905.2 1080,904M1079.4,905 1079.4,906.5 1072.7,906.5M1071.3,906.5 1064.8,906.5M1060.6,915.5 1061.3,926.7 1063.8,931.5M1063.2,944 1071.3,944.5M1072.7,944.6 1083.7,945.2 1083.7,961.5 1072.7,962.3M1071.3,962.4 1050,964 1050.1,966.1M1050.7,967.4 1057,971.2M1077.7,973.3 1085,974 1099.2,985.9 1100.3,985.2 1105,966.5 1112.5,956.5 1107.5,951.5 1107.5,924 1090,925.2 1072.7,929.4M1071.3,929.7 1063.8,931.5 1063.8,944 1063.2,944M1014.8,953.8 1022.5,959 1022.7,960M1023.4,961.1 1024.4,961.4M1026.3,968.2 1027,968.7M1031.6,963.5 1035.5,957.6 1039.8,945.9M1037.3,944.7 1035.1,939.7M1033.4,937.6 1032.5,936.5 1031.8,934 1030,934 1022.5,939 1010.7,944.9M1012.6,947.1 1013.7,952.6M1093.8,1031.5 1112.5,1034 1121.2,1026.5 1126.2,1019 1126.2,1006.5 1132.5,994 1120,984 1102.5,984 1099.2,985.9 1100,986.5 1093.8,989 1092.5,1014 1093.8,1031.5M1075.8,1081.5 1107.5,1081.5 1107.5,1076.5 1075.7,1074.1M1064.5,1073.7 1045,1061.5 1043.3,1062.2M1042.1,1063.4 1035,1074 1035,1085.2 1039.2,1085.7M997.5,1103.1 997.5,1136.3 998.8,1136.3 998.8,1102.1M1086.7,1134.5 1085,1104 1085,1082.8 1075.8,1082.2M1063.5,1088 1071.3,1088.7M1072.7,1088.9 1074,1089 1074,1134.5 1086.7,1134.5M1087,1141.1 1111.2,1141.1 1111.2,1138.7M1111.2,1137.3 1111.2,1135.1 1111.6,1135.1M1112.5,1128.1 1112.5,1081.5 1112.5,1080.2 1107.5,1081.5 1085,1082.8 1085,1104 1086.8,1137.3M1086.9,1138.7 1087,1141.1M1176.2,1081.5 1157.5,1080.2 1112.5,1081.5 1112.5,1128.1M1175,1127.8 1175,1126.6 1175.7,1126.6M1176.2,1125.7 1176.2,1081.5M1193.8,1096.5 1200,1096.5 1212.5,1094 1225,1104 1236.2,1096.5 1235,1092.8 1234.8,1092.2 1234.8,1092.1 1233.8,1089 1236.9,1085.2 1237.8,1084.2 1238.2,1083.7 1240,1081.5 1233.8,1074 1225,1061.5 1217.5,1049 1210,1031.5 1198.8,1014 1190,1013.5 1190,1026.5 1185,1031.5 1191.2,1049 1191.2,1080.2 1193.8,1096.5M965,1533 972.5,1535.5 980.8,1527.2 981.7,1525.9 982.9,1524.2 984.7,1521.8 985.9,1520.3 991.6,1513.2 992.3,1512.5 987.5,1500.5 972.5,1498 958.8,1505.5 958.8,1523 965,1533M998.8,1215.5 1010,1225.5 1010,1233 1035,1235.5 1053.8,1234.2 1055,1218 1055,1215.5 1055,1185.5 1015,1186.8 996.2,1184.2 996.2,1190.5 998.8,1215.5M1072.5,1233 1087.5,1234.2 1095,1240.5 1104.7,1236.6 1095,1238 1090,1223 1070,1220.5 1062.5,1215.5 1102.5,1215.5 1102.5,1214.5M1101.6,1214.1 1101.2,1214.2 1055,1215.5 1065,1220.5 1072.5,1233M1130,1238 1112.5,1235.5 1110.3,1235.8 1130,1238M1141.2,1255.5 1145.4,1250.6 1146.2,1238 1135,1248 1141.2,1255.5M830,1260.5 847.5,1258 857.5,1263 872.5,1268 875,1258 865,1249.2 857.5,1238 846.2,1233 840,1233 825,1243 822.5,1253 830,1260.5M847.5,1276.8 852.5,1288 862.5,1289.2 890,1289.2 895,1288 883.8,1273 875,1258 872.5,1268 857.5,1263 847.5,1258 830,1260.5 840,1273 847.5,1276.8M978.8,1278 990,1274.2 1005,1278 1007.5,1255.5 1006.2,1239.2 980,1240.5 978.8,1258 978.8,1278M982.5,1310.5 1008.8,1310 1015,1309.2 1013.8,1288 1005,1278 990,1274.2 978.8,1278 978.8,1309.2 982.5,1310.5M1005,1328 1001.2,1335.5 1006.2,1347.5 1010,1348 1027.5,1348 1030,1348 1052.5,1345.5 1052.5,1313 1052.5,1310.5 1008.8,1310 1010,1323 1005,1328M943.8,1345.5 977.5,1347.5 981.2,1328 982.5,1310.5 978.8,1309.2 972.5,1310.5 960,1318 950,1325.5 945,1335.5 943.8,1345.5M915,1401.8 916,1402.8 916.5,1403.2 917.5,1404.2 932.5,1404.2 931.2,1413 932.5,1423 939.3,1420.7M940.7,1420.3 947.5,1418 955,1415.5 955,1390.5 957.5,1379.2 950,1371.8 940.7,1369M939.3,1368.5 937.5,1368 935,1368 935,1378 920,1378 917.5,1393 915,1401.8M1015,1385.5 1027.5,1379.2 1033.8,1385.5 1052.5,1388 1053.8,1365.5 1035,1366 1033.8,1365.5 1015,1368 1005,1361.8 1006.2,1378 1005,1388 1015,1385.5M1130,1285 1110,1283 1110,1285.8M1130,1287 1130,1285M1103.8,1308 1103.8,1314.6M1104.3,1307.4 1103.8,1308M1097.4,1336.1 1095.9,1346.7M1096.6,1347.5 1099,1347.9M1112.7,1361.4 1115,1370.5 1119.6,1361.4M1215,1212.5 1215,1203 1226.2,1200.5 1225,1188 1220,1170.5 1215,1151.8 1188.8,1151.8 1188.8,1212.5 1215,1212.5M1255,1150.5 1255,1138.7M1212.5,1138.7 1215,1150.5 1214.5,1150.5 1215,1151.8 1255,1150.5M1183.8,1150.5 1175,1149.2 1175,1138.7M1175,1137.3 1175,1129.3M1113.1,1135.1 1168.8,1135.1 1168.8,1137.3M1168.8,1138.7 1168.8,1151.1 1171.3,1151M1172.7,1151 1183.8,1150.5M1103.8,1316.9 1103.8,1328 1098.2,1334.6M1100.2,1348.6 1100.8,1350.4M1102,1351.6 1107.5,1355.5 1108.2,1357.5M1109,1358.8 1112,1360.2M1120.5,1360.2 1130,1355.5 1138.2,1354.3M1141.9,1353.2 1142.5,1353 1135,1345.5 1132.8,1335.8M1130,1332.4 1130,1323 1130,1288.6M1110,1287.4 1110,1300.5 1105.4,1306M1181.5,1283.2 1182.7,1281.6 1183.7,1280.3 1181.2,1268 1175,1273 1172.7,1274.7M1171.3,1275.8 1168.3,1278.1 1168.3,1281.3 1171.3,1281.7M1172.7,1281.9 1180.7,1283 1180.7,1284.2 1181.5,1283.2M746.3,355.4 748.4,357.5 749.7,358.9 751.5,361.1 752.8,362.6 753.4,363.5 753.8,363.8 756.9,368.1 758,369.7 758,369.7 760,372.5 775.5,370 775.5,355 775.5,343.8 768.8,342.5 770,331.8 743.8,331.8 744.9,354.1 746.3,355.4M842.5,352.5 845,370 845.1,371.3 846.2,371.3 846.2,371.2 877.5,372.5 877.5,360 878.7,359.9 877.5,332.5 851.2,331.8 850,350 842.5,352.5M960,360 975,365 992.5,363.8 993.8,360.6 993.8,360 994,360 995,357.5 999.3,356.9M1000.7,356.7 1012.5,355 1012.5,341.9M1012.5,334 1012.5,333.8 1000.7,333.6M999.3,333.6 935,333 935,355 960,360M1054.2,370 1059.6,370.5M1075.7,366.8 1076.3,366.2 1076.3,334.5 1072.7,334.5M1071.3,334.5 1048,334.3M847.5,425 857.5,435 858.8,441.2 886.2,440 886.2,432.5 887.5,432.5 892.5,396.2 885,385 877.5,372.5 846.2,371.2 846.2,400 847.5,425M917.5,432.5 941.2,430 941.2,420 946.2,418.8 946.2,401.2 925,385 910,390 892.5,396.2 887.5,432.5 917.5,432.5M1082.2,410 1082.6,410 1082.6,406M1078.6,410 1082.2,410M1059.6,370.5 1054.2,370M902.5,472.5 920,467.5 927.5,460 917.5,432.5 886.2,432.5 886.2,440 886.2,470 902.5,472.5M970,445 965,457.5 982.5,475 985,490 990.6,488.6 990.6,485 999.3,481.6M1000.7,481.1 1010,477.5 1017.4,472.2 1016.6,469 1016.1,467.1M995.6,411.2 990,411.2 972.5,410 962.5,412.5 962.5,430 970,445M1022.5,450 1022.2,449.1M1019.9,451 1022.1,450.6 1022.5,450M1017.5,435 1013.1,414.1M1018.9,439.3 1017.5,435M1070.1,458.4 1071.3,458.3M1072.7,458.2 1082.2,457.5 1082.2,430.2 1075,430 1075,413.4M1053.1,411.6 1037.5,412.5 1040,435 1034.4,440.6M1025.7,450 1031.3,449M1027.6,447.4 1025.4,449.6M1082.2,410 1078.6,410.2M1076.1,412.5 1082.2,412.5 1082.2,410M803.6,474 803.3,476 802.9,478.8 802,485 800.4,488.1 800.1,488.6 798.8,491.2 817.5,502 822.5,493.8 822.5,481.2 831.2,480 831.2,463.8 807.5,462.5 803.9,472.1 803.6,474M882.5,525 900,515 905,510 885,520 865,510 867.5,515 882.5,525M915,582.5 910,605 935,607.5 950,596.2 952.5,585 960,580 945,560 936.2,561.2 927.5,556.2 917.5,560 907.5,567.5 915,582.5M975,532.5 965,542.5 970,555 972.5,572.5 975,571.2 999.3,570.4M1000.7,570.3 1010,570 1010,570.1 1010.6,570.1 1011.9,560.1 1011.6,555.5M997,531.2 996.2,531.2 995,525 990,522.5 993.8,515 991.2,506.2 977.5,506.2 972.5,506.2 972.5,515 975,532.5M1068.6,569.1 1066.4,555.9M1049.3,550.2 1048.8,550.2 1034.7,552.4M1012.4,555.7 1010,575 1018.9,576.4M976.2,632.5 981.2,635 987.4,634.3M988.4,633.6 988.4,632.5 995.7,632.5M998.1,631.9 999.3,631.5M1000.7,631.2 1010,630 1010,628.8M1010,580.5 1010,570 1000.7,570.3M999.3,570.4 975,571.2 975,603.8 976.2,632.5M720.1,653.2 722.5,652.5 735,645 757.5,645 758.8,645 760,613.8 758.8,596.2 752.5,592.5 750,582.5 733.8,582.5 732.5,600 722.5,601.2 722.5,610 720.1,653.2M777.5,646.2 797.5,640 800,630 790,620 783.8,613.8 760,613.8 760,645 777.5,646.2M785,650 800,660 807.5,677.5 822.5,675 832.5,665 835,650 847.5,640 836.2,635 835,622.5 822.5,627.5 800,630 797.5,640 785,650M832.5,665 835,682.5 895,680 895,660 882.5,645 871.2,643.8 871.2,630 865,622.5 857.5,635 847.5,640 835,650 832.5,665M940,650 955,660 975,660 976.2,643.8 976.2,632.5 975,603.8 950,596.2 935,607.5 942.5,620 940,650M962.5,672.5 970,685 971.2,691.4 987.6,691.4M987.7,651.9 975,660 975,672.5 962.5,672.5M1073.7,650 1072.7,650M1071.3,650 1062.5,650 1053.8,652.5 1053.8,659.1M1065.7,669.3 1071.3,663.7M1072.7,662.3 1073.7,661.3 1073.7,650M1027.5,360 1035,373.8 1053.2,372.5M1046.6,335 1013.1,335M1012.9,341.8 1013.8,357.5 1027.5,360M1140,370 1152.5,372.5 1173.8,371.2 1173.8,342.5 1178.8,335 1140,335 1140,351.2 1140,370M1192.5,343.8 1193.8,353.8 1206.2,352.5 1206.2,352.6 1207.1,352.5 1207.3,351 1207.5,349 1207.5,337.2 1206.8,335.5 1205.8,334.5 1178.8,335 1173.8,342.5 1192.5,343.8M1083,404.5 1085,402.5 1087.5,391.2 1082.5,380 1075.3,368M1053.8,373.1 1053.8,411M1162.5,392.5 1177.5,396.2 1176.2,372.5 1173.8,371.2 1152.5,372.5 1152.5,391.2 1162.5,392.5M1152.5,420 1151.2,432.5 1172.5,432.5 1193.8,430 1193.8,412.5 1212.5,412.5 1212.5,410 1210.9,406.9 1209.1,403.1 1207.5,400 1200,400 1192.5,398.8 1192.5,395 1177.5,396.2 1167.5,400 1160,410 1152.5,420M1016.2,460.6 1018.6,451.8M1022.3,447.7 1024.3,445.7M1024.5,444.6 1019.8,440.8M1011.9,411.2 1006.1,411.2M1004.6,411.2 1000.7,411.2M999.3,411.2 997.2,411.2M1050,452.5 1051.7,459.2M1052.8,459.7 1069.4,457.6M1032.8,441.9 1025.7,444.7M1026,445.5 1027.8,446.4M1033.1,448.9 1050,452.5M1175,452.5 1184.8,450.3 1185,448.8 1186.4,448.2 1187.5,432.5 1172.5,432.5 1150,433.8 1150,455 1175,452.5M1130,485 1135,475 1130,460 1115,450 1100,457.5 1105,480 1130,485M1053.8,510 1071.2,512.5 1071.3,512.5M1072.7,512.3 1090,510 1085,492.5 1072.7,486.4M1071.3,485.6 1070,485 1066,481 1050,485 1049.7,484.9M1048.8,485.1 1049.5,486 1050,486.2 1050,486.5M1050.7,487.6 1052.5,490 1053.8,510M1130,485 1142.5,491.2 1150,487.5 1147.5,477.5 1148.8,470 1158.8,470 1160,485 1156.2,490 1162.5,503.8 1170,510 1185,510 1188,482.5 1188,468.8 1186.9,456.9 1184.5,453.8 1184.8,450.3 1175,452.5 1150,455 1148.8,452.5 1130,460 1135,475 1130,485M1032.7,551.2 1032.5,551.2 1028.8,535 1029.8,521.4M1027.8,523 1024.1,528.2M1023,529.3 1022.5,530 1022.1,529 1011,531.1M1009.4,531.3 1001,532M1066.6,554.5 1071.3,546.3M1072.7,543.9 1075,540 1082.5,532.5 1072.7,520.2M1071.3,512.8 1071.2,512.5 1053.8,510 1052.6,511.5M1052.3,513.1 1052.5,515 1046.7,516.7 1045,517.5 1046.2,535 1049.9,549.7M1190,588.8 1210,587.5 1210,570 1208.8,548.8 1188.8,548.8 1188.8,582.5 1190,588.8M1222.5,588.8 1254.4,587.5 1254.4,570 1232.5,571.2 1210,570 1210,587.5 1222.5,588.8M1254.4,607.5 1254.4,587.5 1222.5,588.8 1218.8,607.5 1254.4,607.5M1011.2,630 1025,627.5 1052.5,623.8 1053.8,610 1060,590 1057.6,575.6M1019.3,577.1 1012.5,582.5 1010.6,581.7M1010.5,628.5 1011.2,630M1080,597.5 1095,607.5 1115,605 1120,592.5 1115,582.5 1110,567.5 1100,560 1095,572.5 1075,578.8 1072.7,575.5M1071.3,573.6 1069.1,570.5M1057.6,575.6 1060,590 1071.3,594.2M1072.7,594.8 1080,597.5M1131.2,592.5 1132.5,607.5 1152.5,620 1170,622.5 1167.5,608.8 1165,587.5 1138.8,587.5 1136.2,582.5 1137.6,580.8 1125,585 1115,582.5 1120,592.5 1131.2,592.5M1055.2,625.3 1057.5,625 1057.8,628M1058.3,629.6 1061.2,632.5 1071.3,639.8M1072.7,640.8 1075,642.5 1095,640 1106.2,635 1110,620 1115,605 1095,607.5 1080,597.5 1072.7,594.8M1071.3,594.2 1060,590 1053.8,610 1052.5,623.8 1053.7,625M1160,630 1175,630 1170,622.5 1152.5,620 1150,635 1160,630M1185,642.5 1197.5,640 1212.5,641.2 1217.5,648.8 1230,652.5 1240,651.2 1254.3,647.5 1254.3,627.5 1217.5,627.5 1175,630 1177.5,630 1185,642.5M1040.2,689.9 1042.9,689.2M1043.8,688.3 1043.8,688.3 1045.4,688.3M1048.1,687.7 1057.5,685 1064.7,670.5M1053.2,660.1 1037.5,662.5 1023,652.2M1021.3,651.7 1012.5,651.2 1012.5,651M1011.9,650 1011.2,650 1010,650 1000.7,650.2M999.3,650.2 993.2,650.4M1105.5,688.3 1115,688.3 1115.3,693.8M1116.2,694.9 1117.5,695.7 1116.3,695.7M1151.9,696.1 1150,675 1145,665 1125,665 1110,670 1095,670 1100,685 1103.9,687.6M1254.2,691.6 1254.3,670 1237.5,672.5 1230,676.2 1225,683.8 1207.5,687.5 1205,691.6 1254.2,691.6M733.8,934 735,921.5 743.8,916.5 745,901.5 732.5,901.5 720,889 712.5,875.2 677.5,875.2 677.5,934 733.8,934M603.8,958.2 604.7,960 606.2,962.4 607.5,964 615,971.5 616.4,972.9 617.5,974 618.6,975.1 620,976.5 630,986.5 631.5,987.9 633.7,989.9 635.2,991.2 638.8,994 645,999 646.8,1002 650.7,1008.5 651.8,1010.1 652.5,1011 652.5,991.5 677.5,990.2 677.5,961.5 670,952.8 601.3,951.5 601.8,952.9 602.5,954.8 603.1,956.5 603.8,958.2M777.5,700.2 777.5,716.5 809.8,706.1 809.3,700.2 777.5,700.2M836.2,739 875,739 876.2,734 877.3,699.7M877.3,698.3 877.4,695.9 835,695.9 835,698.3M835,699.7 835,704 836.2,739M893.8,732.8 895,721.5 896.9,721.5 899.3,721.5M900.7,721.5 907.8,721.5M956.5,720.8 940.5,710.6M938.7,708.6 935,704 923.2,699.7M923.4,697.6 924.9,696.6 920,693 877.5,693 877.3,698.3M877.3,699.7 876.2,734 893.8,732.8M896.2,757 895,759 887.5,772.8 896,773.5M985,759 977.5,731.5 976.3,731.4M981.3,766.5 985,759M983.3,848.2 988,843.5 990.7,838.6M822.5,899 807.5,931.5 810,944 817.5,945.2 831.2,946.5 837.5,946.5 835,919 832.5,896.5 827.5,876.5 815,881.5 800,885.2 785,884 788.8,894 783.1,897.8 822.5,899M753.8,934 756.2,939 752.5,945.2 757.5,956.5 760,956.5 771.2,964 780,949 785,924 781.2,909 760,911.5 755,916.5 752.5,919 753.8,934M1011.9,922.1 1012.5,921.5 1015,923.2M1017.2,923.9 1017.5,924 1027,919.3M1027.4,918.4 1025.8,905.6M872.5,996.5 885,1006.5 899.3,1006.5M900.7,1006.5 905,1006.5 906.7,1005.7M899.3,966.6 897.5,969 885,974 865,976.5 860,996.5 872.5,996.5M737.5,974 732.5,977.8 730,979 735,1004 782.5,1004 782.5,974 771.2,964 757.5,964 747.5,972.8 737.5,974M652.5,991.5 652.5,1011 652.8,1011.3 667.5,1001.5 695,1011.5 695,1031.5 730,1031.5 735,1004 730,979 727.5,974 715,977.8 707.5,972.8 691.2,972.8 677.5,961.5 677.5,990.2 652.5,991.5M772.5,1034 780,1059 790,1069 810,1059 817.5,1051.5 817.5,1024 807.5,1021.5 807.5,1006 795,1005.2 785,1024 772.5,1034M664,1022.9 666.2,1024.9 667.7,1026.2 672.5,1030.2 677.3,1034.3 678.5,1035.2 680,1036.5 681.2,1037.5 681.5,1037.8 687.5,1042.8 692.3,1046.8 692.3,1046.8 695,1049 715,1051.5 727.5,1049 730,1031.5 695,1031.5 695,1011.5 667.5,1001.5 652.8,1011.3 653.7,1012.5 655,1014 662.5,1021.5 664,1022.9M732.5,1061.5 735,1076.5 750,1081.5 760,1071.5 775,1074 780,1059 772.5,1034 757.5,1039 742.5,1036.5 730,1031.5 727.5,1049 732.5,1061.5M735,1117 737.3,1119.6 737.3,1119.6 740.6,1123.2 743.9,1126.9 745.6,1127.8 747.1,1128.1 748.9,1127.7 749.4,1127.4 752.5,1125.2 763.8,1128.4 771.6,1130.6 771.6,1130.6 775,1131.5 786.2,1121.5 796.2,1121.2 796.2,1099 807.5,1099 807.5,1089 795,1084 790,1069 775,1074 760,1071.5 750,1081.5 735,1076.5 732.5,1117 735,1117M807.5,1089 807.5,1099 796.2,1099 796.2,1121.2 825.3,1120.4 830,1104 845,1099 845,1081.5 835,1076.5 822.5,1071.5 810,1059 790,1069 795,1084 807.5,1089M903.3,1060.9 906.9,1058.4M906.7,1005.7 905,1006.5 900.7,1006.5M899.3,1006.5 885,1006.5 883.8,1039 883.8,1040.2 883.8,1054 883.2,1055.1 899.3,1060.4M900.7,1060.9 901.6,1061.2M950,1114 950.2,1112.8M938.1,1118 950,1114M952.5,1101.5 961.2,1099 961.2,1073.6M952.2,1103.1 952.5,1101.5M906.9,1058.4 903.3,1060.9M1035,1074 1042.1,1063.4M1011.4,1085.3 1021.9,1085.8M1028.5,1085.6 1035,1085.2 1035,1074M1050,964 1071.3,962.4M1072.7,962.3 1083.7,961.5 1083.7,945.2 1072.7,944.6M1071.3,944.5 1063.1,944 1055.6,944.4M1039.8,945.9 1035.5,957.6 1036.2,956.5 1041.4,960.9M1043.3,961.8 1050,964M1074,1135.3 1074,1089 1072.7,1088.9M1071.3,1088.7 1063.5,1088M1061.9,1087.8 1042.1,1085.9M1039.2,1085.7 1035,1085.2 1035,1085.5M1035,1087.1 1037.2,1135.3 1071.3,1135.3M1072.7,1135.3 1074,1135.3M962,1136.3 963.6,1136.3 960,1114 950,1114 938.1,1118M937.9,1134.3 938.2,1136M938.7,1136.9 945,1136.9 945,1137.3M945.1,1138.7 945.4,1145.1M995,756.5 1019.3,751.6M1020.6,750.3 1022.5,746.5 1032,741.8M1035,739.7 1036.2,724.6M1037,723.2 1045,714 1044.7,709.3M1043.2,695.7 1037.5,695.7 1039.4,691.3M990.6,705.9 991.2,705.9 990,719 986.5,722.5 995,756.5M1132.5,715.2 1133.8,746.5 1150,744 1152.5,709 1193.8,706.5 1196.2,711.5 1203.8,706.5 1201,699.7M1200.5,698.3 1200,697.1 1152.6,697.1M1115.6,699.7 1116.2,714 1132.5,715.2M1210,707 1211.2,706.5 1230,704 1235,714 1253.8,714 1253.8,699.7M1253.8,698.3 1253.8,694.7 1200,694.7 1201.2,698.3M1201.6,699.7 1203.8,706.5 1210,707M902.1,774 932.5,774 935.6,760M937.4,751.9 937.5,751.5 953.8,751.5 957.5,766.5M958.1,767.6 976.9,764.1M974.4,731.4 965,730.2 957.9,722M908.8,722.1 908.8,736.5 900.7,749.7M899.3,752 897.2,755.4M897.3,774 899.3,774M900.7,774 902.1,774M1080.5,809.6 1083.6,809 1083.6,809.3M1084.2,810.2 1095,810.2 1095,764 1080,766.5 1072.7,763.4M1071.3,762.8 1062.5,759 1061.7,760.3M1061.8,761.8 1062.5,764 1059,766.1M1057.5,767.3 1055,771.5 1045,772.8 1036.2,774 1036.2,786.1 1041.9,784.2M1058,786.2 1060,786.5 1070.4,794 1070.4,808.5 1071.3,808.8M1072.7,809.4 1074.9,810.2M1075.1,810.2 1077,810.2M1096.2,839 1112.5,839 1128.8,824 1133.8,816.5 1135,799 1142.5,779 1133.8,746.5 1115,759 1095,764 1095,810.2 1096.2,839M1185,784 1210,780.2 1205,761.5 1197.5,747.8 1200,746.5 1192.5,744 1187.5,751.5 1182.5,774 1185,784M1198.8,816.5 1210,809 1221.2,804 1237.5,803.5 1240,800.2 1241.2,802.8 1253.8,802 1253.8,779 1210,780.2 1185,784 1182.5,809 1198.8,816.5M924.6,850.5 932.7,848.7M943.1,846.6 969.7,850.1M972.7,849.9 980,849 980.1,850.2M980.7,850.6 981.3,849.8M992.2,834.8 985,824 980,809 995,804 987.5,774 981.3,767.8M976.9,764.1 958.1,767.6M957.5,768.3 957.5,790.2 935,790.2 933.8,790.2 933.8,782.7M933.1,778.2 932.5,774 902.1,774 902.1,825 910,829 911.2,839 907.7,842.1 923,850.4M1070.4,808.5 1070.4,809 1047.5,816.5 1071.3,811.6M1072.7,811.3 1073.9,811M1074.9,810.2 1072.7,809.4M1071.3,808.8 1070.4,808.5M993,835.5 995,836.5 1028.8,837.6M1028.8,836.9 1025,834 993.1,835.2M977.6,878.4 980,879 980,883.1M980.3,884.9 982.5,889 972.5,899 972.5,911.5 975,939 990.2,941.4 995,939 998.8,940.6 998.8,934 1007.5,921.5 1009.1,921.9M1025.7,903.2 1029.9,884.6M1029.4,883.9 1000,879 982.5,869M982.1,870.4 982.5,874 975.1,875.5 975.9,877 976.3,877.6M1103.8,905.2 1102.5,919 1130,914 1155,911.5 1167.5,906.5 1168.8,886.5 1152.5,886 1151.2,885.2 1136.2,885.2 1126.2,890.2 1117.5,884 1107.5,886.5 1107.5,896.5 1103.8,905.2M1155,911.5 1152.5,929 1157.5,939 1170,926.5 1195,925.8 1192.5,884 1185,884 1168.8,886.5 1167.5,906.5 1155,911.5M1112.5,956.5 1140,955.2 1157.5,954 1157.5,939 1152.5,929 1155,911.5 1130,914 1107.5,924 1107.5,951.5 1112.5,956.5M1120,984 1138.8,976.5 1147.5,981.5 1157.5,989 1172.5,996.5 1175,989 1180,979 1182.5,974 1175,961.5 1157.5,954 1140,955.2 1112.5,956.5 1105,966.5 1102.5,984 1120,984M907.3,965.1 907.3,964 921.2,969 932.5,959 934,959.2M947.4,960.9 945,939 950,921.5 933.9,913.4M924.6,912 922,915.1M921.5,916.8 921.2,919 917.4,921.6M915.2,923.2 912.5,926.5 910,926.5 900.7,926.5M900.7,931.4 902.5,939 902.5,954 900.7,954.9M901.2,929 913.8,927.8 913.8,939 903.8,942.8 901.2,929M967.5,961.5 969.7,957.8M970,956.1 970,951.5 973.3,950.4M974.7,949.5 975,949 990.2,941.4 975,939 972.5,911.5 970.7,912.6M970,913.9 970,914 957.5,921.5 955.7,920.8M954,920.5 950,921.5 945,939 947.4,960.9M948,961.2 950,961.5 954.7,970.8 967.5,961.5M913.1,1011.3 937.5,1004 950,1014 975,1006.5 979.8,992.1M981.4,986.5 984.4,975.9M984.3,974.6 979.5,970.4M975.2,967.4 970.2,964.1M969.5,962.8 967.5,961.5 954.7,970.8 955,971.5 953.7,978M951.9,984.2 937.5,989 936.7,988.8M922.5,984.7 921.2,969 907.3,964 907.3,965.1M1056.2,1006.5 1065,1005.2 1065.4,1005.5M1067.2,1005.6 1071.3,1005.3M1072.8,1009 1085,1007.8 1092.5,1014 1093.8,989 1100,986.5 1085,974 1077.7,973.3M1057.4,972.1 1055,986.5 1055,1006.5 1056.2,1006.5M910.5,1034.2 932.5,1044 960,1036.5 957.5,1024 950,1014 937.5,1004 913.1,1011.3M960,1036.5 975,1049 1010,1049 1015.2,1045.5 1016.5,1026M1015.8,1021.3 990,1019 989.6,1018.7M988,1018 980,1017.8 976.8,1010.6M975.5,1009.4 975,1009 975.1,1008.6M975.2,1006.9 975,1006.5 950,1014 957.5,1024 960,1036.5M905.8,1061.5 940,1061.5 942.3,1068.4M961.2,1072 961.2,1071.5 965.1,1070.7M968.3,1069.8 970,1069 972.5,1069 989.4,1069M990.4,1068.6 992.5,1066.5 980,1059 975,1049 960,1036.5 932.5,1044 910.5,1034.2M992.5,1066.5 990.4,1068.6M995.4,1076.9 998.8,1080.2 1009.4,1083.8M1043.3,1062.2 1045,1061.5 1043.4,1059.5M1042,1059 1027.5,1059 1015,1049 1015.2,1045.5 1010,1049 975,1049 980,1059 992.5,1066.5M1107.5,1076.5 1112.5,1074 1118.8,1061.5 1117.5,1039 1112.5,1034 1093.8,1031.5 1086.2,1035.2 1085,1040.2 1080,1041.5 1083.8,1054 1080,1069 1075.7,1073.3M1075.7,1074.1 1107.5,1076.5M1112.5,1074 1112.5,1080.2 1157.5,1080.2 1156.2,1036.5 1152.5,1035.2 1137.5,1036.5 1117.5,1039 1118.8,1061.5 1112.5,1074M950.5,1111.3 951.9,1104.7M942.3,1068.4 940,1061.5 905.8,1061.5M902.5,1062.1 903.8,1096.5 910,1109 905.3,1112.8 910,1111.5 935,1119 936.9,1130M972.5,1498 987.5,1500.5 992.3,1512.5 993,1511.8 995.2,1509.9 996.8,1508.8 998.2,1508.1 1002.5,1504.2 1016.2,1503 1016.2,1488 1016.5,1487.6 1010,1486.8 992.5,1479.2 963.8,1479.2 963.8,1498 972.5,1498M810.6,1148 813.8,1153 813.1,1158 812.9,1159.5 812.9,1159.5 812.5,1163 825,1165.5 826.2,1178 845,1175.5 845,1166.8 860,1165.5 862.5,1158 865,1153 869.4,1138.7M820.3,1138.7 820,1141.6 810,1141.6 807.5,1143 809.4,1146 810.6,1148M882.5,1156.8 882.5,1194.2 900,1194.2 902.5,1175.5 912.5,1178 910,1158 908.3,1148.6M907.3,1148 882.5,1148 882.5,1138.7M882.5,1137.3 882.5,1136.6 870,1136.6 869.8,1137.3M869.4,1138.7 865,1153 882.5,1156.8M890,1223 900,1233 922.5,1230.5 931.2,1229.2 931.2,1191.8 935,1178 932.5,1178 912.5,1178 902.5,1175.5 900,1194.2 895,1213 890,1223M950,1171.8 960,1170.5 962.5,1170.5 970,1160.5 963.8,1153 962.7,1145.9M946.2,1145.9 946.2,1165.5 943.8,1167.6 950,1171.8M962.5,1170.5 962.5,1183 978.8,1184.2 980,1184.2 996.2,1184.2 997.5,1183 1007.5,1175.5 1007.5,1150.5 987.5,1155.5 963.8,1153 970,1160.5 962.5,1170.5M1101.2,1179.2 1101.2,1214.2 1101.6,1214.1M1103,1179.2 1101.2,1179.2M1168.8,1135.1 1113.1,1135.1M1111.6,1135.1 1111.2,1135.1 1111.2,1137.3M1111.2,1138.7 1111.2,1141.1 1111.2,1149.9M1168.8,1151.2 1168.8,1138.7M1168.8,1137.3 1168.8,1135.1M816.2,1211.8 810,1219.2 807.5,1220.5 807.5,1230.5 808.8,1233 811.2,1243 825,1243 840,1233 846.2,1233 846.2,1220.5 862.5,1213 864.8,1213.1 863.8,1203 858.8,1195.5 845,1193.5 836.2,1195 826.2,1196.8 826.2,1209.2 816.2,1211.8M885,1245.5 900,1233 890,1223 895,1213 882.5,1214.2 883.8,1248 885,1245.5M792.5,1278 800,1293 802.5,1303 808.8,1311.8 821.2,1300.5 817.5,1289.2 827.5,1286.8 827.5,1279.2 840,1273 830,1260.5 822.5,1253 811.2,1243 807.5,1249.2 788.8,1249.2 790,1263 792.5,1278M905,1268 900,1283 902.5,1290.5 939.3,1290.3M940.7,1290.2 977.5,1290 978.8,1258 967.5,1248 960,1233 962.5,1224.2 942.5,1224.2 940.7,1226.5M939.3,1228.2 937.5,1230.5 932.5,1243 922.5,1255.5 920,1266.8 905,1268M967.5,1248 978.8,1258 980,1240.5 1010,1233 1010,1225.5 998.8,1215.5 988.8,1208 973.8,1215.5 962.5,1224.2 960,1233 967.5,1248M1005,1278 1013.8,1288 1015,1309.2 1052.5,1310.5 1052.5,1283 1053.8,1281.8 1050,1280.5 1042.5,1273 1036.2,1263 1035,1235.5 1010,1233 1006.2,1239.2 1007.5,1255.5 1005,1278M955,1415.5 960,1423 978.8,1424.2 990,1422.5 987.5,1409.2 991.7,1403 977.5,1403 977.5,1378 985,1380.5 997.5,1388 1006.2,1378 1005,1361.8 1003.8,1358 995,1365.5 990,1369.2 978.8,1365.5 977.5,1369.2 958.8,1370.5 957.5,1379.2 955,1390.5 955,1415.5M991.7,1403 995,1398 996,1397 997.5,1388 985,1380.5 977.5,1378 977.5,1403 991.7,1403M1035,1415.5 1052.5,1416.8 1052.5,1388 1033.8,1385.5 1030,1393 1035,1400.5 1035,1415.5M1071.2,1394.2 1073.8,1385.5 1085,1378 1087.5,1378 1087.1,1377.2M1085.1,1373.3 1081.2,1368 1079.1,1362.2M1077.1,1358.9 1072.5,1355.5 1060,1347.5 1055,1355.5 1053.8,1365.5 1053.8,1394.2 1071.2,1394.2M1072.5,1421.8 1071.2,1394.2 1053.8,1394.2 1053.8,1423 1072.5,1421.8M1103.2,1405.5 1102.5,1421.8 1103.2,1422.4M1136.8,1421 1140,1420.5 1148.8,1419.2 1152.5,1428 1148.9,1418.9M1161.7,1361.8 1162.1,1360.7 1163.4,1359.7 1164.1,1359.5 1157.5,1355.5 1151,1354.4M1103.1,1390 1103.8,1390.5 1103.7,1391.4M1106.7,1388.8 1105.9,1388.4M1104.7,1388.7 1103.1,1390M1126.2,1200.5 1135,1209.2 1149.4,1212.9M1162.4,1212.8 1165,1212.5 1171.3,1212.7M1172.7,1212.7 1188.8,1212.5 1188.8,1151.8 1172.7,1152.1M1171.3,1152.1 1169.4,1152.1M1122.5,1153.6 1123.8,1188 1126.2,1200.5M1103.6,1393 1103.4,1399.4M1120.2,1421.7 1134.4,1420.5M1148.8,1417.5 1149.2,1414.5 1149.2,1414.5 1149.4,1413 1150,1408 1151.7,1405 1152.5,1403.6 1155,1399.2 1158.8,1394.9 1160.2,1393.2 1161.4,1391.5 1162.8,1389 1163.6,1387.2 1165.1,1382.6 1165.2,1380.7 1164.7,1379.1 1163.6,1377.7 1163.1,1377.4M1163.9,1374.4 1164.4,1374.2 1165.4,1374 1166.7,1373 1167.2,1372.2 1167.2,1371M1162.7,1364.6 1162.3,1363.9M1148.8,1354.1 1145.4,1353.5M1138.2,1354.3 1130,1355.5 1120.5,1360.2M1119.6,1361.4 1115,1370.5 1114.6,1371.1M1114.7,1372.5 1115,1373 1110,1384.2 1109.2,1384.9M1108.2,1386.3 1107.6,1388.6M1070,1220.5 1090,1223 1095,1238 1104.7,1236.6 1107.5,1235.5 1110.3,1235.8 1112.5,1235.5 1130,1238 1135,1248 1146.2,1238 1147.5,1226.1 1147.5,1213 1149.4,1213M1149.4,1212.9 1135,1209.2 1126.2,1200.5 1123.8,1188 1122.5,1153.6M1111.2,1151.5 1111.2,1179.2 1104.5,1179M1102.5,1214.5 1102.5,1215.5 1062.5,1215.5 1070,1220.5M806.2,375 815,376.2 815,382.5 807.5,387.5 807.5,395 810,400 846.2,400 845,370 842.5,352.5 824.4,351.2 820,351.2 817.3,350.8 806.2,350 805.5,354.3 805.5,358.2 804.8,358.2 804.5,360 806.2,375M796.2,411.2 797.5,412.5 797.5,412.5 800,415 802.2,417.5 802.6,417.9 804.5,420 804.9,423.5 804.9,423.5 805.4,427.5 805.8,431.5 806.1,433.5 806.6,436.5 807,438.4 807.5,440.6 808.8,446.2 807.5,462.5 837.5,462.5 837.5,436.2 837.5,435 847.5,425 846.2,401.2 810,401.2 782.7,403.7 784.5,404.5 789.2,406.3 789.3,406.3 792.5,407.5 796.2,411.2M754.5,579.1 758.6,576 757.5,556.2 741.7,556.2 741.3,556.4 745,580 754.5,579.1M670,692.1 777.5,692.1 785,680 780,672.5 777.5,662.5 760,660 757.5,645 735,645 722.5,652.5 705,657.5 687.5,667.5 671.2,670 670,692.1M1012.5,651 1012.5,651.2 1021.3,651.7M1057.5,625 1055.2,625.3M1057.8,628 1057.5,625M936.2,561.2 945,560 960,580 972.5,572.5 970,555 965,542.5 941.2,540 940,552.5 936.2,561.2M905,510 910,517.5 917.5,533.8 932.5,533.8 941.2,540 965,542.5 975,532.5 972.5,515 972,515 955,515 950,502.5 930,488.8 920,500 905,510M950,502.5 955,503.8 972,503.8 975,503.8 977.5,502.5 977.5,500 982.6,499.7 985,490 982.5,475 965,457.5 953.8,460 942.5,485 950,502.5M779.4,513.6 778.7,515.3 777.5,522.5 790,517.5 800,522.5 806.2,530 806.2,542.5 835,542.5 836.2,502.5 817.5,502 798.8,491.2 794.4,494.4 792.8,495.5 791.3,496.7 789.1,498.7 787.7,500.2 786.2,501.9 784.8,503.6 784.8,503.6 783.6,505.2 782,507.7 781.1,509.5 780.7,510.4 780.1,511.8 779.4,513.6M1140.6,562.5 1145,570 1144.7,570.6 1145,571.2 1143.2,573.5 1140,580 1137.6,580.8 1136.2,582.5 1138.8,587.5 1165,587.5 1166.2,580 1168.8,567.5 1172.5,558.8 1172.5,550 1131.2,551.2 1135.7,554.8 1136.2,555 1136.5,555.5 1137.5,556.2 1140.6,562.5M1023,652.2 1037.5,662.5 1053.2,660.1M1053.8,659.1 1053.8,652.5 1062.5,650 1061.2,632.5 1058.3,629.6M1053.7,625 1052.5,623.8 1025,627.5 1011.2,630 1011.2,631.9M1011.2,633.1 1011.2,650 1011.9,650M1103.9,687.6 1100,685 1095,670 1087.5,657.5 1075,660 1072.7,662.3M1071.3,663.7 1065.7,669.3M1064.7,670.5 1057.5,685 1048.1,687.7M1039.4,691.3 1037.5,695.7 1043.2,695.7M1042.9,689.2 1040.2,689.9M1145,665 1150,675 1172.5,672.5 1177.5,660 1194.4,657.6 1192.5,655 1192.8,654.2 1185,642.5 1177.5,630 1160,630 1150,635 1140,642.5 1120,645 1125,665 1145,665M646.5,733 646.5,733 646.2,736.5 660,737.8 670,740.2 678.8,754 678.7,754 680,756 738.8,755.2 738.8,739 746.2,731.5 747.5,716.5 777.5,716.5 777.5,699.7M777.5,698.3 777.5,696.4 661.4,696.4 660.7,697.7 660.3,698.3M659.3,699.7 659,700.2 657.9,701.8 654.6,706.2 654.4,706.4 648.7,716.8 648.4,717.7 647.6,720.5 647.3,722.5 646.9,727.8 646.5,733M835,1076.5 845,1081.5 855,1076.5 880,1074 880,1061.5 880,1054 883.2,1055.1 883.8,1054 883.8,1040.2 865,1037.8 847.5,1032.8 840,1039 831.2,1041.5 830,1049 817.5,1051.5 810,1059 822.5,1071.5 835,1076.5M970.2,964.1 975.2,967.4M984.4,975.9 981.4,986.5M990,1019 1015.8,1021.3M1016.9,1020.9 1017.2,1015.7M1022.5,959 1014.8,953.8M1022.7,960 1022.5,959M970,951.5 970,956.1M973.3,950.4 970,951.5M782.5,1004 807.5,1002.8 803.8,986.5 807.5,974 807.5,949 810,944 807.5,931.5 797.5,929 787.5,944 780,949 771.2,964 782.5,974 782.5,1004M738.8,755.2 775,761.5 780,771.5 810,769 817.5,757.8 815,744 816.1,708.7 810,708.7 809.8,706.1 777.5,716.5 746.2,731.5 738.8,739 738.8,755.2M710,821.5 725,814 751.2,819 757.5,816.5 757.5,799 760,791.5 732.5,781.5 700,784 707.5,804 710,821.5M900.7,884.9 904,889.3M900.9,856.1 900.7,857.3M975,875.3 975.1,875.5 982.5,874 982.1,870.4M980,849 972.7,849.9M980.1,850.2 980,849M932.7,848.7 924.6,850.5M1047.5,816.5 1037.9,810.8M1036.6,810.6 1035,811.5 1022.5,819 1025,834 1028.8,836.9M1073.9,811 1072.7,811.3M1071.3,811.6 1047.5,816.5M835,919 870,919 872.5,894 862.5,891.5 862.5,871.5 837.5,869 827.5,876.5 832.5,896.5 835,919M1075.2,860.5 1076.2,866.5 1095,866.5 1095,810.2 1084.2,810.2M1077,810.2 1075.1,810.2M1117.5,884 1126.2,890.2 1136.2,885.2 1136.2,854 1125,849 1121.5,852.5 1122.5,854 1115,859 1112.5,874 1117.5,884M980,1017.8 988,1018M1019.2,996.2 1024.5,992.7M1025,991.3 1025,974.6M979.8,992.1 975,1006.5 975.2,1006.9M976.8,1010.6 980,1017.8M1024,972.1 1020,964 1024.9,967.3M1025,967.2 1025,966.3M1024.4,961.4 1023.4,961.1M1013.7,952.6 1012.6,947.1M1009.1,945 999.3,942.9M998.8,941.3 998.8,940.6 995,939 975,949 974.7,949.5M969.7,957.8 967.5,961.5 969.5,962.8M979.5,970.4 984.3,974.6M1217.5,1049 1225,1061.5 1233.8,1074 1240,1081.5 1241,1080.3 1241.8,1079.3 1243.1,1077.8 1244,1076.7 1244.9,1075 1245.7,1072.5 1245.8,1070.5 1245.6,1069 1245.4,1067.5 1245.1,1065.5 1244.4,1062.6 1243.8,1060.7 1243.1,1059 1241.2,1054 1242.8,1050.9 1243.4,1049.6 1245,1046.5 1249.4,1044 1250.7,1043.2 1252.1,1041.9 1253.3,1039.9 1253.8,1038 1253.8,1014.5 1198.8,1014 1210,1031.5 1217.5,1049M1255.6,1136.2 1255.7,1135.7 1255.7,1134.5 1253,1125.5 1252.9,1125.4 1251.6,1122.8 1250.6,1121 1249.4,1119 1246.2,1114 1245,1109 1244.6,1107.4 1243.9,1105.6 1242.5,1103.1 1242.2,1102.8 1237.5,1099 1225,1104 1212.5,1094 1200,1096.5 1203.8,1126.6 1210,1126.6 1212,1136.2 1255.6,1136.2M1165,752.8 1187.5,751.5 1192.5,744 1191.2,726.5 1193.8,706.5 1152.5,709 1150,744 1165,752.8M1232.5,744 1230,704 1211.2,706.5 1212.5,742.8 1232.5,744M1210,780.2 1253.8,779 1253.8,714 1235,714 1232.5,745.2 1197.5,747.8 1205,761.5 1210,780.2M1136.2,852.8 1150,849 1173.8,846.5 1169.8,820.6 1165,816.5 1140,816.5 1128.8,824 1128.8,841.5 1136.2,852.8M1183.8,848.5 1185.9,857.7 1225,855.2 1217.5,847.8 1202.5,841.5 1198.8,816.5 1182.5,809 1168.8,814 1173.8,846.5 1183.8,848.5M1230,891.5 1222.5,899 1224.7,927 1245.8,930.2 1253.8,930.2 1253.8,865.2 1245,865.2 1242.5,856.5 1227.5,855.4 1227.5,874 1230,891.5M1223.8,924 1222.5,899 1227.5,891.5 1225,874 1192.5,884 1195,925.8 1207.2,925.4 1223.8,924M1246.2,966 1253.8,965.2 1253.8,931.5 1213.8,925.2 1215,959 1230,957.8 1235,960.2 1245,961.5 1246.1,965.9 1246.2,966M909.8,893.1 920,889 931.4,890.1M934.5,890.3 935,890.2 957.3,885.2M960.1,883.9 970,876.5 971.3,876.8M982.5,869 980.1,852.1M969.7,850.1 943.1,846.6M923,850.4 907.5,842.2 902.5,846.5 901.6,851.9M1000,879 1029.4,883.9M1030.1,883.1 1030.9,878 1030,865.2 1034.4,864.1M1028.8,837.6 995,836.5 983.3,848.2M981.6,849.9 980.8,850.7M980.1,852.1 982.5,869M982.5,869 1000,879M1047.5,884 1071.3,875.3M1072.7,874.8 1075,874 1075,860.5M1034.4,864.1 1030,865.2 1031.2,883.1M1031.8,884 1047.5,884M1065.6,721.3 1071.3,718.9M1072.7,718.3 1080,715.2 1116.2,714 1115.6,699.7M1115.3,693.8 1115,688.3 1105.5,688.3M1045.4,688.3 1043.8,688.3 1043.8,688.3M1044.8,709.3 1045,714 1063.7,721M1032.5,1480.5 1036.4,1496.9 1037.5,1498 1040,1511.8 1049.8,1518.6 1051.5,1519.4 1053.4,1520.1 1056.6,1520.9 1058.5,1521.5 1061.2,1522.7 1063,1523.6 1067,1526.1 1068.7,1527.2 1071.2,1528.9 1071.4,1529.1 1083.6,1535.9 1086.5,1536.3 1088.3,1536.3 1091.7,1535.9 1092.6,1535.7 1093.6,1535.3 1095,1534.2 1095.8,1533.4 1100.5,1520.2 1100.5,1517.9 1100.1,1515.9 1098.8,1511.8 1097.7,1509.1 1096.6,1506.8 1095.6,1505 1093.3,1501.3 1087.5,1493 1088.4,1489.5 1088.3,1489.3 1088.3,1486.6 1088.5,1484.6 1090.2,1478.9 1090.9,1477 1092.2,1474.3 1092.2,1474.2 1092.5,1473 1093.5,1471.9 1095.6,1468.5 1096.9,1466.9 1098.9,1464.8 1100.4,1463.6 1101.9,1462.6 1103.8,1460.5 1103.8,1459.4M1103.8,1457.4 1103.8,1423.6M1103.2,1423 1053.8,1423 1053.8,1479.2 1032.5,1480.5M840,1348.6 839.6,1349.1 838.9,1350.9 838.8,1352.9 839.2,1354.8 840,1356.1 840.8,1357.5 842,1359 844,1360.6 845.6,1361.5 846.2,1361.8 846.9,1362 848.7,1362.1 851.1,1361.8 852.9,1361.1 853.8,1360.5 857.5,1358 862.5,1361.1 864.5,1362.4 864.5,1362.4 867.5,1364.2 870.1,1366.6 874.9,1370.7 876.4,1372 878.8,1373.8 880.4,1374.9 881.2,1375.5 882.1,1376.1 882.1,1376.1 885,1378 887.1,1380.6 887.5,1381.1 890,1384.2 890,1368 893.8,1358 887.5,1356.8 882.5,1346.8 877.5,1341 868.8,1338 860,1335.5 852.5,1330.5 840,1330.5 840.2,1332 842.5,1338 841.4,1338.8 842.5,1345.5 840,1348.6M855,1311.8 845,1313 838.8,1328 840,1330.5 852.5,1330.5 860,1335.5 868.8,1338 871.2,1328 880,1326.8 886.2,1320.5 894,1324.4 893.8,1321.8 900.6,1321.8 902.5,1320.5 901.2,1308 892.5,1303 890,1289.2 862.5,1289.2 862.5,1304.2 855,1311.8M901.2,1338 895,1346.8 893.8,1358 890,1368 890,1384.2 891.2,1387.4 891.5,1387.9 892.5,1389.3 894.1,1390.6 895.9,1391.5 896.9,1391.8 897.9,1392 897.9,1392 901.2,1393 903.9,1395.1 903.9,1395.1 904.4,1395.5 904.9,1395.9 906.5,1397 908.9,1398.6 910.6,1399.6 911.9,1400.2 915,1401.8 917.5,1393 920,1378 935,1378 935,1368 932.5,1353 927.5,1346.8 926.2,1335.5 915,1328 902.5,1321.8 893.8,1321.8 894,1324.4 896.2,1325.5 895,1335.5 901.2,1338M937.5,1368 939.3,1368.5M940.7,1369 950,1371.8 957.5,1379.2 958.8,1370.5 977.5,1369.2 978.8,1365.5 977.5,1348 977.5,1348 977.5,1347.5 940.7,1347.5M939.3,1347.5 931.2,1347.5 932.5,1353 937.5,1368M1038.2,1421.9 1040,1420.5 1052.5,1420.5 1052.5,1416.8 1035,1415.5 1035,1400.5 1030,1393 1033.8,1385.5 1027.5,1379.2 1015,1385.5 1005,1388 995,1398 987.5,1409.2 990,1422.5 1038.2,1421.9M1095,1283 1100,1278 1093.8,1265.5 1095,1240.5 1087.5,1234.2 1072.5,1233 1065,1220.5 1055,1218 1055,1281.8 1095,1283M1135,1345.5 1142.5,1353 1142.8,1353.1M1145.4,1353.5 1148.8,1354.1M1151,1354.4 1157.5,1355.5 1159.1,1354.2M1132.8,1335.8 1135,1345.5M1178.7,1289.1 1179,1287.1 1179.7,1285.3 1180.7,1284.2 1180.7,1283 1172.7,1281.9M1171.3,1281.7 1168.3,1281.3 1168.3,1281.8 1157.9,1280.5 1147.5,1280.5 1145.9,1278.1 1145,1278 1142.5,1279.9M1133.1,1285.3 1130,1285 1130,1287M1042.5,1273 1050,1280.5 1053.8,1281.8 1053.8,1234.2 1035,1235.5 1036.2,1263 1042.5,1273M771.4,1264.6 771,1266.6 770.7,1269.5 770.7,1271.5 770.9,1274.2 771,1277 771.3,1279 771.9,1281.9 772.5,1283.8 773.1,1285.5 773.8,1287.2 774.6,1289 776,1291.6 777.1,1293.3 778.8,1295.5 780.4,1297.7 781.7,1299.3 783.6,1301.5 785,1303 790,1308 791.5,1309.4 793.8,1311.2 795.5,1312.4 797.5,1313.6 799.5,1314.9 801.2,1316 802.5,1316.8 808.8,1311.8 802.5,1303 800,1293 792.5,1278 790,1263 788.8,1249.2 780,1245.5 779.2,1246.8 778.1,1248.5 776.9,1250.5 775.6,1252.5 774.7,1254.3 773.5,1257 772.9,1258.9 772.1,1261.8 771.4,1264.6M987.5,1155.5 992.5,1153 1007.5,1150.5 1017.5,1149.2 1016.8,1141.7 998.8,1141.7 998.8,1139.5 998.8,1138.7M998.8,1137.3 998.8,1136.3 997.5,1136.3 997.5,1137.3M997.5,1138.7 997.5,1144.1 965,1144.1 964.1,1138.7M963.9,1137.3 963.7,1136.3 962,1136.3M962.7,1145.9 963.8,1153 987.5,1155.5M1180,1248 1181.2,1268 1183.7,1280.3 1184.3,1279.4 1185.3,1277.9 1185.6,1277.4 1185.9,1276.9 1187.5,1274.2 1190.6,1275.3 1190.7,1275.3 1191.2,1275.5 1191.9,1275.7 1193.7,1275.9 1195.9,1275.7 1197.6,1275.2 1198.1,1274.9 1198.6,1274.6 1200,1273.3 1201.5,1271.4 1202.5,1269.7 1203.1,1268 1203.8,1266.3 1203.8,1266.3 1205,1263 1208.1,1259.2 1209,1258.2 1210.2,1256.6 1212,1254.2 1213.1,1252.5 1214.4,1250.5 1215.6,1248.5 1216.6,1246.7 1217.7,1244 1218,1242.8 1220,1233 1212.5,1225.5 1208.8,1221.8 1205,1214.2 1182.5,1213 1182.5,1238 1180,1248M1225,1188 1226.2,1200.5 1215,1203 1215,1212.5 1233.8,1213 1235.3,1209.9 1237.2,1206.1 1238.8,1203 1240.5,1200 1240.5,1200 1241.2,1198.6 1243.8,1194.2 1248.1,1191.8 1249.5,1191 1251,1189.8 1253,1187.8 1254.2,1186.2 1255,1184.9 1255.8,1183.5 1256.6,1181.7 1257.7,1179 1258.3,1177.1 1258.8,1175.5 1259.2,1173.9 1259.5,1171.9 1259.6,1169.4 1256.2,1160.5 1255,1150.5 1215,1151.8 1220,1170.5 1225,1188M1160.5,1353.7 1162.5,1354.2 1164.1,1352.7 1164.7,1352.1 1165.6,1350.7 1166.5,1349 1166.7,1348.5M1167.4,1346.6 1168,1344.8M1169.1,1340.8 1169.3,1339.4 1169.3,1336.7 1169,1334.9 1168.8,1334.2 1168.5,1333.7 1168.5,1333.6 1168.3,1332.9M1168.3,1329.9 1169.6,1328.9 1169.6,1328.9 1170,1328.6 1170.4,1328.3 1171.3,1327.5M1172.7,1326.2 1173.3,1325.6 1174.6,1324.1 1175,1323.6 1175.4,1323.1 1175.9,1321.5 1175.7,1320.3 1174.9,1318.9 1174.4,1318.6M1173.9,1315.4 1174.2,1315.3 1175.6,1314.4 1177.3,1313.2 1178.5,1312.4M1181.2,1310.1 1182.5,1308.8 1184.2,1306.5 1185.3,1304.9 1185.9,1303.6 1186.2,1301.8 1185.8,1300 1184.9,1298.4 1184.4,1298 1181.2,1295.5 1181,1294.9M1137.9,1283.4 1135,1285.5 1134.9,1285.5M1130,1288.6 1130,1332.4M802.7,344 805.5,345 805.5,347.8 806.2,348.8 820,351.2 842.5,351.2 850,350 851.2,331.8 802.5,331.8 802.5,343.8 802.7,344M941.2,420 941.2,430 962.5,430 962.5,412.5 972.5,410 972.5,401.2 946.2,401.2 946.2,418.8 941.2,420M842.5,463.8 843.8,463.8 844.2,464.2 857.5,467.5 872.5,468.8 886.2,470 886.2,440 858.8,441.2 857.5,435 837.5,436.2 837.5,462.5 842.5,463.8M1017.5,517.5 1022.5,530 1023,529.3M1013.5,506.8 1015.5,512.2M1015.6,512.4 1017.5,517.5M1052.5,515 1052.3,513.1M1044.3,517.3 1052.5,515M1050,486.2 1049.2,485.8M1048.8,485.7 1047.1,484.8 1037.5,483.8 1034.6,478.7M780,547.5 775,560 777.5,577.5 785,582.5 792.5,592.5 820,596.2 835,601.2 860,597.5 871.2,587.5 870,577.5 860,570 857.5,555 855,547.5 837.5,552.5 835,542.5 806.2,542.5 806.2,530 800,522.5 790,517.5 777.5,522.5 773.8,537.5 780,547.5M672.5,596.2 710,598.8 720,601.2 732.5,600 733.8,582.5 730,581.2 725,567.5 712.5,571.2 709,571.3 702.5,571.5 696,571.7 696,571.7 694,571.9 691.1,572.4 689.9,572.8 675,578.8 671.9,577.7 671.9,577.7 671.2,577.5 670.6,577.3 668.8,577 666.1,576.9 665,577 659,578.8 657.2,580.1 655.9,581.4 655.3,582.4 654.6,583.9 653.8,592.5 672.5,596.2M758.8,596.2 760,613.8 783.8,613.8 783.8,600 792.5,593.8 785,582.5 777.5,577.5 770,567.5 750,582.5 752.5,592.5 758.8,596.2M847.5,640 857.5,635 865,622.5 835,622.5 836.2,635 847.5,640M816.1,708.7 816.2,704 834.7,704 834.5,699.7M834.4,698.3 832.5,665 822.5,675 807.5,677.5 809.2,698.3M809.3,699.7 810,708.7 816.1,708.7M1085,347.5 1088.8,353.8 1082.5,360 1075.7,366.8M1075.3,368 1082.5,380 1087.5,391.2 1105,391.2 1107.5,385 1113.8,377.5 1113.8,352.5 1140,351.2 1140,335 1112.5,335 1080,335 1080,345 1085,347.5M1176.2,372.5 1177.5,396.2 1192.5,395 1192.5,380 1193.3,379.8 1193.8,372.5 1192.5,343.8 1173.8,342.5 1173.8,371.2 1176.2,372.5M1200,400 1207.5,400 1205.6,393.8 1204.8,390.9 1204.8,390.9 1203.8,387.5 1203.1,384.1 1203.1,384.1 1202.9,382.5 1202,377.5 1192.5,380 1192.5,398.8 1200,400M1112.5,431.2 1137.5,432.5 1151.2,432.5 1152.5,420 1160,410 1167.5,400 1162.5,392.5 1147.5,392.5 1140,403.8 1131.2,410 1125,400 1115,403.8 1112.5,412.5 1100,418.8 1092.5,412.5 1076.1,412.5M1075,413.4 1075,430 1112.5,431.2M1212.5,432.5 1229.4,432.5 1229.3,432.2 1226.6,428 1225.3,426.4 1224,424.8 1223.1,423.8 1220,420 1212.5,412.5 1193.8,412.5 1193.8,430 1212.5,432.5M990.6,495 999.3,498.9M1000.7,499.5 1007.5,502.5 1012.5,505.4M1024.1,528.2 1027.8,523M1052.6,511.5 1053.8,510 1052.5,490 1050.5,488M1032.7,476.8 1017.5,472.5 1017.4,472.2 1010,477.5 1000.7,481.1M999.3,481.6 990.6,485 990.6,495M1150,487.5 1160,485 1158.8,470 1148.8,470 1147.5,477.5 1150,487.5M1147.5,512.5 1160,512.5 1162.5,503.8 1156.2,490 1142.5,491.2 1143.8,500 1147.5,512.5M1082.5,532.5 1075,540 1072.7,543.9M1071.3,546.3 1066.6,554.5M1066.4,555.9 1068.6,569.1M1069.1,570.5 1071.3,573.6M1072.7,575.5 1075,578.8 1095,572.5 1100,560 1110,567.5 1115,582.5 1125,585 1140,580 1145,570 1136.2,555 1125,551.2 1112.5,550 1113.8,537.5 1110,525 1105,512.5 1095,515 1082.5,530 1072.7,514.8M1072.7,520.2 1082.5,532.5M1165,525 1162.5,532.5 1151.2,532.5 1150,547.5 1173.8,550 1172.5,558.8 1167.5,580 1172.5,582.5 1188.8,582.5 1188.8,548.8 1208.8,548.8 1207.5,528.8 1187.5,527.5 1185,510 1170,510 1170,522.5 1165,525M1254.3,627.5 1254.4,607.5 1218.8,607.5 1217.5,627.5 1254.3,627.5M598.4,802.1 594.1,810.9 592.5,814 590.2,816.6 586.1,821.4 584.9,823 583.6,825.5 582.9,827.4 581.9,831.5 580.8,835.6 580.4,837.6 579.7,840.5 579.3,842.4 578.5,846.5 577.7,850.6 577.4,852.5 577.3,854 618.8,851.5 620,835.2 632.5,829 632.5,816.5 626.2,809 627.4,795.2 621.2,789 603.3,790.1 603,790.2 601.7,791.3 600.8,793 600.5,795.5 600,797.5 600,797.6 600,799 598.4,802.1M977.5,731.5 990,719 991.2,705.9 990.6,705.9M976.3,731.4 977.5,731.5M957.7,710.2 957.5,710.2 957.5,715.5M1027.5,771.5 1032,771.5M1019.5,752.4 1017.5,756.5 1027.5,771.5M1062.5,764 1061.8,761.8M1059,766.1 1062.5,764M1052.1,746.9 1038,741.4M1022.5,746.5 1020.6,750.3M1032,741.8 1022.5,746.5M957.5,766.5 953.8,751.5 937.5,751.5 937.4,751.9M935.6,760 932.5,774 933.1,778.2M1047.5,816.5 1070.4,809 1070.4,794 1060,786.5 1058,786.2M1037.9,810.8 1047.5,816.5M765,861.5 775,865.2 782.5,859 796.2,856.5 796.2,835.2 782.5,834 767.5,839 757.5,845.2 757.5,854 765,861.5M892.8,912.5 892.5,914 892.8,917.1M921.2,919 921.5,916.8M917.4,921.6 921.2,919M1031.3,932.3 1032.5,936.5 1033.4,937.6M1061.5,928.6 1060.6,915.5M1047.5,909 1044.2,910.7M1042,911.8 1034,915.8M1056.3,907.2 1047.5,909M803.8,986.5 807.5,1002.8 821.2,999 831.2,990.2 832.5,969 831.2,946.5 817.5,945.2 807.5,949 807.5,974 803.8,986.5M955,971.5 950,961.5 948,961.2M953.7,978 955,971.5M1027,968.7 1026.3,968.2M1024.9,967.3 1020,964 1024,972.1M1025,974.6 1025,991.3M1017.2,1015.7 1016.9,1020.9M1016.5,1026 1015,1049 1027.5,1059 1042,1059M1050,964 1043.3,961.8M1050.1,966.1 1050,964M1035,1085.2 1028.5,1085.6M882.5,1086.5 872.5,1091.5 870,1101.5 882.5,1114 890.8,1116.8 899.3,1114.4M900.7,1114 905.3,1112.8 910,1109 903.8,1096.5 902.5,1062.1M901.6,1061.2 900.7,1060.9M899.3,1060.4 880,1054 880,1074 882.5,1086.5M937.9,1136 937.6,1134.3M936.9,1130 935,1119 910,1111.5 900.7,1114M899.3,1114.4 882.5,1119 882.5,1137.3M882.5,1138.7 882.5,1148 907.3,1148M1047.5,907.6 1047.5,909 1056.3,907.2M1079.4,906.5 1079.4,905M1064.8,906.5 1071.3,906.5M1072.7,906.5 1079.4,906.5M965,730.2 974.4,731.4M987.6,691.4 971.2,691.4 972.5,698.2 964.1,698.2M963.1,699.7 962.5,710.2 959.2,710.2M957.9,722 965,730.2M1036.8,771.6 1045,772.8 1055,771.5 1057.5,767.3M1061.7,760.3 1062.5,759 1062.5,749 1055.2,748M933.8,790.2 957.5,790.2 957.5,768.3M933.8,782.7 933.8,790.2M993.1,835.2 1025,834 1022.5,819 1010,809 995,804 980,809 985,824 992.2,834.8M1035,811.5 1036.6,810.6M1041.9,784.2 1027.5,789 1015,804 1022.5,819 1035,811.5M1100,885.2 1117.5,884 1112.5,874 1115,859 1122.5,854 1112.5,839 1096.2,839 1096.2,866.5 1100,885.2M1150.3,859.7 1150.7,871.5 1151.2,871.5 1152.5,886 1185,884 1186.2,859 1183.8,848.5 1150,849 1151.2,859 1150.3,859.7M1080,904 1103.8,905.2 1107.5,896.5 1107.5,886.5 1097.5,885.2 1095.5,867 1076.2,867 1075,874 1072.7,874.8M1071.3,875.3 1047.5,884 1047.5,905.9M912.5,926.5 915.2,923.2M922,915.1 924.6,912M922.2,908.5 912.8,903.1 911.1,903M894.4,901.6 893.4,901.5 893.4,908.9M893.4,923.7 893.4,926.5 899.3,926.5M900.7,926.5 912.5,926.5M1055.6,944.4 1063.8,944 1061.9,934.2M1035.1,939.7 1037.3,944.7M1175,961.5 1182.5,974 1187.1,977.8 1187.5,977.8 1187.8,978.4 1197.5,986.5 1208.6,986.5 1207.5,971.5 1208.8,964 1211.6,961.8 1213.8,956.5 1213.8,925.2 1170,926.5 1157.5,939 1157.5,954 1175,961.5M937.5,989 951.9,984.2M934,959.2 932.5,959 921.2,969 922.5,984.7M1048.9,1018 1052.5,1019 1055,1006.5 1055,986.5 1057.4,972.1M1057,971.2 1050.7,967.4M1041.4,960.9 1036.2,956.5 1031.6,963.5M1024.5,992.7 1019.2,996.2M1043.4,1059.5 1045,1061.5 1064.5,1073.7M1066.8,1073.4 1071.3,1071.9M1072.7,1071.4 1080,1069 1083.8,1054 1080,1041.5 1079.2,1040.9 1078.8,1041 1077.4,1039.8 1072.7,1036.6M1071.3,1036.3 1056.2,1034 1052.5,1020.2 1048.2,1019M1191.2,1080.2 1191.2,1049 1185,1031.5 1190,1026.5 1190,1013.5 1178.8,1012 1175,1011.5 1171.2,1021.5 1171.2,1034 1171.2,1035.2 1156.2,1036.5 1157.5,1080.2 1191.2,1080.2M1200,1099 1193.8,1096.5 1191.2,1080.2 1176.2,1081.5 1176.2,1125.7M1203,1125.7 1200,1099M1017.5,1141.7 1017.5,1140.5 1037.5,1140.8 1037.4,1138.7M1037.3,1137.3 1035,1087.1M1021.9,1085.8 1011.4,1085.3M1010.8,1086.4 1011.2,1087.8 1005,1094 1000,1102 998.8,1102.1 998.8,1137.3M998.8,1138.7 998.8,1141.7 1017.5,1141.7M993.8,1478 1010,1486.8 1020,1479.2 1053,1479.2 1052.5,1420.5 1040,1420.5 1027.5,1430.5 1017.5,1443 1010,1445.5 996.2,1440.5 996.2,1463 993.8,1478M942.5,1436.8 947.5,1445.5 955,1445.5 967.5,1441.8 975.3,1434.9 978,1429.5 978.8,1424.2 960,1423 947.5,1418 940.7,1420.3M939.3,1420.7 932.5,1423 932.5,1430.5 939.3,1434.8M940.7,1435.6 942.5,1436.8M925,1498.3 925.4,1499.2 925.5,1500.6 925.2,1501.6 925.1,1503.4 925.3,1505.6 925.7,1507.5 926.6,1509.9 927.5,1512.2 928.3,1514.1 929.6,1516.7 929.7,1516.9 937.5,1528 939.3,1527.3M940.7,1526.8 947.5,1524.2 958.8,1523 958.8,1505.5 963.8,1498 963.8,1479.2 962.5,1479.2 960,1479.2 948.8,1479.2 947.5,1485.1 947.5,1488 945,1496.8 940.7,1497M939.3,1497.1 926.2,1498 926,1497.9 925,1498 925,1498.2 925,1498.3M882.5,1194.2 882.5,1156.8 862.5,1158 860,1165.5 845,1166.8 845,1175.5 845,1193.5 882.5,1194.2M912.5,1178 932.5,1178 935,1175.5 939.1,1171.9 939.3,1171.5M940.7,1169.4 942.5,1166.8 943.8,1167.6 946.2,1165.5 945.4,1145.6M945.4,1145.1 945.1,1138.7M945,1137.3 945,1136.9 938.7,1136.9M908.3,1148.6 910,1158 912.5,1178M857.5,1238 865,1249.2 883.8,1248 882.5,1214.2 865,1215 864.8,1213.1 862.5,1213 846.2,1220.5 846.2,1233 857.5,1238M788.8,1249.2 807.5,1249.2 811.2,1243 808.8,1233 796.2,1230.5 787.2,1227.5 786.8,1228.9 785.7,1234.6 785.1,1236.5 784,1239.2 783.1,1240.8 782.5,1245.5 788.8,1249.2M895,1288 900,1283 905,1268 920,1266.8 922.5,1255.5 932.5,1243 937.5,1230.5 922.5,1230.5 900,1233 885,1245.5 883.8,1273 895,1288M823.7,1311.7 827.5,1313 824.7,1316.7 825,1318 820,1323 822.5,1332.9 823.3,1333.7 833.6,1341.9 834,1342.1 835.3,1342.8 842.5,1338 838.8,1328 845,1313 855,1311.8 862.5,1304.2 862.5,1289.2 852.5,1288 847.5,1276.8 827.5,1279.2 827.5,1286.8 817.5,1289.2 821.2,1300.5 823.7,1311.7M915,1328 926.2,1335.5 927.5,1345.5 939.3,1345.5M940.7,1345.5 943.8,1345.5 945,1335.5 950,1325.5 960,1318 972.5,1310.5 978.8,1309.2 977.5,1290 940.7,1290.2M939.3,1290.3 902.5,1290.5 902.5,1320.5 915,1328M877.5,1340.5 882.5,1346.8 887.5,1356.8 893.8,1355.5 895,1346.8 901.2,1338 895,1335.5 896.2,1325.5 886.2,1320.5 880,1326.8 871.2,1328 876.2,1333 877.5,1340.5M987.5,1334.2 1001.2,1335.5 1005,1328 1010,1323 1008.8,1310 982.5,1310.5 981.2,1328 987.5,1334.2M990,1369.2 995,1365.5 1003.8,1358 1006.2,1347.5 977.5,1348 978.8,1365.5 990,1369.2M1035,1366 1053.8,1365.5 1055,1355.5 1060,1347.5 1030,1348 1034.2,1355.5 1035,1366M1087.5,1378 1097.5,1385.5 1103.1,1390 1104.7,1388.7M1087.1,1377.2 1087.5,1378M1110,1384.2 1115,1373 1114.7,1372.5M1109.2,1384.9 1110,1384.2M1107.5,1355.5 1102,1351.6M1108.2,1357.5 1107.5,1355.5M1183.8,1150.5 1215,1150.5 1212.5,1138.7M1212.2,1137.3 1210,1126.6 1203.7,1126.6M1175.7,1126.6 1175,1126.6 1175,1127.8M1175,1129.3 1175,1137.3M1175,1138.7 1175,1149.2 1183.8,1150.5M1105.9,1388.4 1106.7,1388.8M1107.6,1388.6 1108.2,1386.3M1114.6,1371.1 1115,1370.5 1112.7,1361.4M1112,1360.2 1109,1358.8M1100.8,1350.4 1100.2,1348.6M1099,1347.9 1096.6,1347.5M1095.7,1348 1095,1353 1090.3,1353.5 1090,1355.5 1077.5,1358 1077.7,1358.6M1079.1,1362.2 1081.2,1368 1085.1,1373.3M1206.2,473.8 1206.7,477.9 1206.7,468.5 1205.1,468.6 1205.4,473.6 1206.2,473.8M885,385 892.5,396.2 910,390 925,385 922.5,377.5 907.5,380 896.2,375 895,358.8 877.5,360 877.5,372.5 885,385M1017.5,472.5 1032.7,476.8M1016.1,467.1 1017.5,472.5M1050,485 1070,480 1070,458.5M1069.4,457.6 1052.8,459.7M1029.8,521.4 1028.8,535 1032.5,551.2M745,580 741.3,556.4 738.3,557.5 736.5,558.4 733.9,559.8 732.2,560.9 730,562.5 730,580 745,580M950,596.2 975,603.8 972.5,573.8 960,580 952.5,585 950,596.2M1195,378.8 1202,377.5 1202.9,372.5 1203.1,370.9 1203.5,369 1204,366.2 1204.3,364.4 1204.4,363.8 1204.5,363.1 1204.5,363.1 1206.2,352.5 1193.8,353.8 1194.5,370 1195,378.8M1187,457 1191.2,457.5 1194.2,453.8 1193.8,449.2 1189.2,447 1185,448.8 1184.5,453.8 1187,457M1192.5,487.5 1206.2,485 1205,467.5 1188,468.8 1188,482.5 1192.5,487.5M1034.6,478.7 1037.5,483.8 1048.6,485M1051.7,459.2 1050,452.5 1033.1,448.9M1031.3,449 1025.7,450M1024.3,450.2 1019.9,451M1018.6,451.8 1016.2,460.6M1034.7,552.4 1049.3,550.1M1049.9,549.7 1046.2,535 1045,517.5 1044.4,517.6M1200,665 1212.5,662.5 1213.8,652.5 1217.5,648.8 1212.5,641.2 1197.5,640 1192.5,655 1200,665M621.9,764.3 623.1,765.6 624.7,766.5 644,769 645.7,769.9 646.8,771.2 647.5,773 647.5,779.2 646.8,781 645.7,782.1 644,782.9 624.7,783.8 623,784.3 622,784.9 621.2,785.9 621.2,786.6 621.2,788.5 627.5,794 626.2,809 632.5,816.5 632.5,835.2 658.8,835.2 660,816.5 670,806.5 673.8,799 677.5,774 678.8,754 670,740.2 660,737.8 646.2,736.5 645,739.8 645,739.8 644.4,741.5 642.5,746.5 640.9,747.3 639.6,748.5 632.9,753.2 631.1,754.2 628.5,755.3 626.6,755.9 624.7,756.3 623.1,757.3 621.9,758.7 621.2,760.5 621.2,762.5 621.9,764.3M581.7,890.6 582.2,892.5 582.9,895.4 583.5,897.4 585,902.8 586.5,908.1 587.5,911.5 588.1,917.8 588.4,920.5 588.8,922.5 589.7,925.2 590.5,927 593.1,931.5 595.7,936 597.5,939 599.4,945.2 600.2,948.1 600.9,950.1 601.3,951.5 677.5,950.2 677.5,935.2 677.5,866.5 670,859 655,856.5 635,859 618.8,852.8 577.2,855.2 577.1,855.5 577.1,857.5 577.4,870.5 577.6,872.5 578,875.4 578.3,877.4 580,884 581.7,890.6M817.5,757.8 832.5,757.8 835,761.5 865,759 873.8,752.8 886.2,759 887.5,772.8 895,759 896.2,757M897.2,755.4 899.3,752M900.7,749.7 908.8,736.5 908.8,722.1M907.8,721.5 900.7,721.5M899.3,721.5 895,721.5 893.8,732.8 876.2,734 875,739 836.2,739 835,704 816.2,704 815,744 817.5,757.8M751.2,819 757.5,831.5 747.5,842.8 757.5,845.2 767.5,839 782.5,834 796.2,834 796.2,819 790,809 780,806.5 770,794 757.5,799 757.5,816.5 751.2,819M822.5,829 812.5,846.5 797.5,859 777.5,869 781.2,874 785,884 800,885.2 815,881.5 827.5,876.5 837.5,869 837.5,849 843.8,839 842.5,811.5 830,816.5 822.5,829M760,896.5 747.5,904 743.8,916.5 745.2,916.5 746.2,916 747.3,916.5 755,916.5 760,911.5 781.2,909 781.2,899 788.8,894 785,884 781.2,874 772.5,871.5 765,881.5 760,896.5M838.8,849 840,869 852.5,869 862.5,871.5 875,871.5 887.5,864 899.3,861.6M900.7,857.3 900.9,856.1M901.6,851.9 902.5,846.5 911.2,839 910,829 900.7,824.4M899.3,823.6 895,821.5 882.5,819 872.5,829 855,829 843.8,826.5 843.8,839 838.8,849M907.9,895.3 910,901.5 922.2,908.5M957.5,921.5 970,914 970,913.9M955.7,920.8 957.5,921.5M980,879 977.6,878.4M980,883.1 980,879M970,876.5 960.1,883.9M971.3,876.8 970,876.5M920,889 909.8,893.1M931.4,890.1 920,889M691.2,951.5 691.2,972.8 707.5,972.8 715,977.8 727.5,974 723.8,964 730,954 717.5,951.5 717.5,935.2 677.5,935.2 677.5,950.2 691.2,951.5M913.8,939 913.8,927.8 901.2,929 903.8,942.8 913.8,939M1007.5,921.5 998.8,934 998.8,941.3M1009.1,921.9 1007.5,921.5M865,1037.8 883.8,1039 885,1006.5 872.5,996.5 860,996.5 847.5,1005.2 847.5,1031.5 865,1037.8M960,1114 963.9,1137.3M964.1,1138.7 965,1144.1 997.5,1144.1 997.5,1138.7M997.5,1137.3 997.5,1103.1M989.7,1103.3 961.2,1105.2 952.5,1101.5 952.2,1103.1M951.9,1104.7 950.5,1111.3M950.2,1112.8 950,1114 960,1114M1152.5,1035.2 1171.2,1034 1171.2,1021.5 1175,1007.8 1172.5,996.5 1157.5,989 1147.5,981.5 1138.8,976.5 1132.5,994 1126.2,1006.5 1126.2,1019 1121.2,1026.5 1137.5,1036.5 1152.5,1035.2M1151.2,885.2 1150,852.8 1136.2,854 1136.2,885.2 1151.2,885.2M933.9,913.4 950,921.5 954,920.5M970.7,912.6 972.5,911.5 972.5,899 982.5,889 980.3,884.9M976.3,877.6 975,875.3M957.3,885.2 935,890.2 934.5,890.3M1022.5,939 1030,934 1020.5,926.9M1015,923.2 1012.5,921.5 1011.9,922.1M999.3,942.9 1009.1,945M1010.7,944.9 1022.5,939M1101.2,1214.2 1101.2,1179.2 1083.6,1178.3 1075,1178 1055,1176.8 1055,1185.5 1055,1215.5 1101.2,1214.2M942.5,1224.2 962.5,1224.2 973.8,1215.5 973.8,1191.8 978.8,1184.2 962.5,1183 960,1170.5 950,1171.8 942.5,1166.8 940.7,1169.4M939.3,1171.6 935,1178 931.2,1191.8 931.2,1229.2 939.3,1225.7M940.7,1225 942.5,1224.2M1141.2,1255.5 1140.7,1260.6 1145,1255.5 1145.4,1250.6 1141.2,1255.5M1168.3,1281.8 1168.3,1278.1 1165,1280.5 1157.9,1280.5 1168.3,1281.8M1147.5,1213 1147.5,1226.1 1148.8,1214.2 1154.8,1213.6M1149.4,1213 1147.5,1213M1100,1278 1110,1283 1133.1,1285.3M1134.9,1285.5 1135,1285.5 1137.9,1283.4M1142.5,1279.9 1145,1278 1142.5,1273 1140,1268 1140.1,1266.7 1138.8,1263 1140.7,1260.6 1141.2,1255.5 1135,1248 1130,1238 1107.5,1235.5 1095,1240.5 1093.8,1265.5 1100,1278M1072.5,1421.8 1102.5,1421.8 1103.2,1405.5M1103.4,1399.4 1103.6,1393M1103.7,1391.4 1103.8,1390.5 1097.5,1385.5 1085,1378 1073.8,1385.5 1071.2,1394.2 1072.5,1421.8M1134.4,1420.5 1120.2,1421.7M960,1479.2 961.2,1473 967.5,1465.5 977.5,1458 987.5,1460.5 996.2,1463 996.2,1440.5 995.8,1433.8 995,1433 992.5,1425.5 995.2,1425.3 995,1423 980,1425.5 972.5,1440.5 960,1445.5 947.5,1448 947.5,1460.5 947.5,1479.2 960,1479.2M1002.5,1440.5 1010,1445.5 1017.5,1443 1027.5,1430.5 1020,1423 992.5,1425.5 995,1433 1002.5,1440.5M940.7,1537.9 941.1,1538.9 942.5,1541.4 943.7,1543 945,1544.3 946.5,1545.6 948.8,1547.5 950.4,1548.7 951.2,1549.2 952.1,1549.8 953.9,1550.4 955.2,1550.5 956.6,1550.2 957.2,1549.6 957.9,1548.2 958.1,1547 958.2,1545.4 958.1,1544.9 958,1544.4 957.3,1542.8 956.2,1541.4 954.9,1540.2 954.4,1539.9 953.9,1539.6 951.2,1538 953.8,1536.8 954.1,1536.5 954.2,1536.5 956.2,1535.5 958.9,1536.5 958.9,1536.5 959.4,1536.8 962.5,1538 964.1,1541.1 965.9,1544.9 966.9,1546.6 968.6,1549.1 969.7,1550.7 970.6,1551.8 971.5,1552.8 973.1,1553.9 974.3,1554.4 975.8,1554.5 976.2,1554.2 976.6,1554 977.4,1552.9 977.5,1551.7 977.2,1549.9 976.6,1548.6 975,1545.5 972.5,1535.5 965,1533 958.8,1523 947.5,1524.2 940.7,1529.1M939.3,1530.1 938.8,1530.5 939.3,1532.7M816.2,1211.8 826.2,1209.2 826.2,1196.8 816.2,1191.8 817.5,1186.8 826.2,1185.5 825,1165.5 812.5,1163 810,1165.5 807.5,1168 806.1,1169.5 804.3,1171.8 803.1,1173.5 803.1,1173.5 801.9,1175.5 800.6,1177.5 799.9,1179.4 799.3,1181.8 799.3,1183.7 799.5,1184.8 799.8,1186.7 800.4,1189.4 800.8,1191.4 801.7,1194.6 801.8,1196.6 801.7,1199.3 801.5,1200.2 805,1205.5 816.2,1211.8M788.3,1224.2 787.8,1225.7 796.2,1230.5 807.5,1230.5 807.5,1220.5 800,1215.5 792.8,1215.5 791.9,1216.9 790.9,1218.6 789.1,1222.4 788.3,1224.2M836.2,1195 845,1193.5 845,1175.5 826.2,1178 826.2,1196.8 836.2,1195M809.5,1321.1 809.5,1321.1 812.5,1323 815,1325.5 820,1330.5 821.5,1331.9 822.5,1332.9 820,1323 827.5,1313 820,1310.5 810,1311.8 802.5,1316.8 807.5,1319.9 809.5,1321.1M1006.2,1347.5 1001.2,1335.5 987.5,1334.2 981.2,1328 977.5,1347.5 1006.2,1347.5M1108,1462.7 1109.4,1463.3 1110.6,1463.7 1112.1,1463.7 1112.5,1463.6 1112.9,1463.5 1114.4,1462.9 1116.2,1462.1 1117.9,1461.1 1119.6,1459.9 1122,1458.3M1126.3,1456.4 1129.4,1455.1M1145.6,1451.1 1149,1450.8 1149,1450.8 1150.4,1450.6M1152.4,1450.3 1154,1450.1 1155.9,1449.7 1158.1,1449.2 1160.2,1448.8M1162.2,1447.2 1162.6,1446.4 1162.8,1445.2M1162.4,1442.4 1162.1,1441.4 1161.6,1440.1M1160.5,1437.8 1160.1,1437 1158.9,1435.4 1154.8,1430.6 1152.5,1428 1148.8,1419.2 1140,1420.5 1136.8,1421M1103.8,1423.6 1103.8,1457.4M1198.5,451.3 1202.6,454.4 1203.6,461.5 1206.7,463.6 1206.7,477.9 1207.7,487.2 1201.5,488.2 1202.6,492.3 1207.7,492.3 1207.7,507.7 1227.7,507.7 1227.7,513.3 1208.7,513.8 1208.7,529.2 1211.8,531.3 1223.1,530.3 1229.2,530.8 1229.2,547.7 1244.6,547.7 1247.7,543.6 1248.7,529.2 1254.5,528.3 1254.5,516 1254.5,514 1254.3,511 1254.2,509 1254,507.2 1253.7,505.3 1253.2,503.9 1248.7,498.5 1245.6,492.3 1242.1,485.1 1241.1,478.2 1240.9,477.6 1238.5,469.7 1236.8,459.6 1236.7,459.1 1236.1,456.7 1233.3,451.3 1231.3,443.1 1221,447.2 1211.8,443.1 1204.6,445.1 1204.6,449.2 1198.5,451.3M990,411.2 995.6,411.2M997.2,411.2 999.3,411.2M1000.7,411.2 1004.6,411.2M1012.5,355.3 1012.5,355 1000.7,356.7M999.3,356.9 995,357.5 992.5,363.8 975,365 975,405 990,411.2M822.5,481.2 822.5,493.8 817.5,502 858.8,502 857.5,476.2 843.8,463.8 831.2,463.8 831.2,480 822.5,481.2M872.5,620 880,612.5 880,605 872.5,602.5 870,597.5 860,601.2 837.5,602.5 831.2,608.8 835,620 872.5,620M970,685 962.5,672.5 950,675 945,682.5 938.3,687.2M964.1,698.2 972.5,698.2 970,685M926.7,695.3 923.4,697.6M1012.5,385.4 1012.5,356.9M1006.1,411.2 1011.9,411.2M923.2,699.7 935,704 938.7,708.6M878.8,954 895,957.8 899.3,955.6M900.7,954.9 902.5,954 902.5,939 900.7,931.4M899.3,928.5 882.5,929 880,939 878.8,954M817.5,1024 817.5,1051.5 830,1049 831.2,1041.5 840,1039 847.5,1031.5 846.2,1005.2 807.5,1006 807.5,1021.5 817.5,1024M1071.3,1005.3 1067.2,1005.6M965.1,1070.7 961.2,1071.5 961.2,1072M961.2,1073.6 961.2,1105.2 989.7,1103.3M786.9,1137 788.2,1137.3M796.4,1138.7 798.2,1139.3 803.9,1141.6 820,1141.6 820.3,1138.7M820.4,1137.3 821.2,1129 828.8,1126.5 828.8,1120.2 786.2,1121.5 783.8,1129 786.9,1137M1060,1034 1071.3,1035.1M1072.7,1035.4 1078.8,1041 1085,1040.2 1086.2,1035.2 1093.8,1031.5 1092.5,1014 1085,1007.8 1072.8,1009M1065.4,1005.5 1065,1005.2 1056.2,1006.5 1056.2,1026.5 1060,1034M1000,1102 1005,1094 1011.2,1087.8 1010.8,1086.4M1009.4,1083.8 998.8,1080.2 995.4,1076.9M989.4,1069 970,1069 968.3,1069.8M998.4,1102.1 1000,1102M940.6,710.2 957.7,710.2M959.2,710.2 962.5,710.2 963.1,699.7M936.7,687.9 920,687.9 927,694.3M1015,796.5 1016.1,791.3M1000.1,789.6 1001.2,796.5 1015,796.5M865,1215 882.5,1214.2 882.5,1195 858.8,1195.5 863.8,1203 865,1215M988.8,1208 990,1195.5 996.2,1190.5 996.2,1184.2 980,1184.2 973.8,1191.8 973.8,1215.5 988.8,1208M1007.5,1150.5 1007.5,1175.5 997.5,1183 1015,1186.8 1055,1185.5 1055,1176.8 1075,1178 1103.1,1179M1104.5,1179 1111.2,1179.2 1111.2,1151.5M1111.2,1149.9 1111.2,1141.1 1055,1141.1 1017.5,1140.5 1017.5,1149.2 1007.5,1150.5M1053.8,1345.5 1060,1346.8 1072.5,1355.5 1095,1353 1095.7,1348M1095.9,1346.7 1097.4,1336.1M1098.2,1334.6 1103.8,1328 1103.8,1316.9M1103.8,1314.6 1103.8,1308 1104.3,1307.4M1105.4,1306 1110,1300.5 1110,1287.4M1110,1285.8 1110,1283 1105,1288 1085,1285.5 1052.5,1283 1052.5,1313 1053.8,1345.5M1015,1368 1033.8,1365.5 1033.8,1355.5 1027.5,1348 1010,1348 1005,1355.5 1005,1361.8 1015,1368M1018.2,1503.7 1018.4,1503.7 1024.1,1504.8 1026,1505.3 1028.8,1506.3 1030.6,1507.1 1036.9,1510.2 1038.6,1511.2 1038.8,1511.3 1040,1511.8 1037.5,1498 1032.5,1493 1030,1480 1021.2,1480.5 1016.2,1488 1016.2,1503 1018.2,1503.7M1145,1255.5 1138.8,1263 1142.5,1273 1147.5,1280.5 1165,1280.5 1171.3,1275.8M1172.7,1274.7 1175,1273 1181.2,1268 1180,1248 1182.5,1238 1182.5,1213 1172.7,1212.7M1171.3,1212.7 1165,1212.5 1162.4,1212.8M1154.8,1213.6 1148.8,1214.2 1146.2,1238 1145,1255.5M917.5,1409.5 917.6,1411.5 917.9,1414.4 918.3,1416.4 918.8,1418.6 920,1424.2 917.9,1425.8 917.5,1426.1 917.1,1426.4 916.1,1427.8 915.4,1429.6 915,1431.5 915,1434.5 915.2,1436.5 915.7,1439.3 916.3,1441.2 917.5,1444.2 918.7,1447.3 918.7,1447.3 919.6,1449.1 921,1451.6 922.1,1453.3 923.8,1455.5 927.5,1460.5 928.1,1466.8 928.4,1469.5 928.8,1473 925.9,1475 925.9,1475 924.4,1476.1 922.8,1477.2 921.4,1478.6 919.6,1480.8 918.6,1482.5 918.1,1483.6 917.6,1484.8 917.3,1486.7 917.4,1489.2 918,1491 918.8,1492.4 919.5,1493.7 920.7,1495.3 922,1496.4 923.3,1497.3 923.8,1497.4 924.1,1497.5 924.2,1497.5 926.2,1498 939.3,1497.1M940.7,1497 945,1496.8 947.5,1488 947.5,1460.5 947.5,1448 942.5,1443 942.5,1436.8 940.7,1435.6M939.3,1434.8 932.5,1430.5 926.2,1420.5 931.2,1413 932.5,1404.2 917.5,1404.2 917.5,1407.8 917.5,1409.5M775.5,343.8 775.5,355 786.2,355 786.2,352 796.2,352 796.2,358.2 805.5,358.2 805.5,345 802,343.8 802,331.8 770,331.8 768.8,342.5 775.5,343.8M717.5,935.2 717.5,951.5 730,954 723.8,964 727.5,974 732.5,977.8 737.5,974 747.5,972.8 757.5,964 757.5,956.5 752.5,945.2 756.2,939 753.8,934 752.5,919 746.2,916 735,921.5 733.8,934 717.5,935.2M1178.8,1012 1210,1011.5 1208.8,996.5 1205,994 1208.8,989 1203.8,987.8 1191.2,986.5 1187.5,977.8 1180,979 1175,989 1175,1007.8 1178.8,1012M810,1219.2 816.2,1211.8 805,1205.5 797.5,1209.2 797.5,1209.3 800,1215.5 810,1219.2M972,515 972,503.8 955,503.8 955,513.8 972,515M991.2,506.2 993.8,515 990,522.5 995,525 996.2,531.2 997,531.2M999.3,506.2 997.5,506.2 996.2,498.8 977.5,500 977.5,506.2 991.2,506.2M1016.2,525 1016,522.5M917.5,560 927.5,556.2 936.2,561.2 940,552.5 935,542.5 932.5,533.8 917.5,533.8 916.2,547.5 917.5,560M882.5,645 895,660 903.8,658.8 905,642.5 915,641.2 918.8,635 912.5,632.5 908.8,622.5 896.2,621.2 893.8,616.2 890,621.2 871.2,630 871.2,643.8 882.5,645M987.4,634.3 981.2,635 976.2,632.5 976.2,643.8 987.8,650.7M999.3,631.5 998.1,631.9M1005.8,631.9 1000.7,631.3M1014.6,512 1010,506.2 1001.1,506.2M1001,532 1009.4,531.3M1212.5,662.5 1200,665 1205,672.5 1207.5,687.5 1225,683.8 1230,676.2 1237.5,672.5 1254.3,670 1254.3,647.5 1240,651.2 1230,652.5 1217.5,648.8 1213.8,652.5 1212.5,662.5M1010,650 1011.2,633.1M995.7,632.5 988.4,632.5 988.4,633.6M993.2,650.4 999.3,650.2M1000.7,650.2 1010,650M1192.5,744 1200,746.5 1211.2,744 1210,724 1210,707 1203.8,706.5 1196.2,711.5 1191.2,726.5 1192.5,744M1203.8,841.5 1217.5,846.5 1225,855.2 1242.5,856.5 1245,865.2 1253.8,864 1253.8,802 1241.2,802.8 1240,800.2 1237.5,803.5 1221.2,804 1210,809 1198.8,816.5 1202.5,821.5 1203.8,841.5M1208.8,989 1205,994 1208.8,996.5 1210,1011.5 1227.5,1013.5 1253.8,1013.5 1253.8,966.5 1246.2,966.5 1245,961.5 1235,960.2 1230,957.8 1215,959 1208.8,964 1207.5,971.5 1208.8,989M992.5,1479.2 995,1468 987.5,1460.5 977.5,1458 967.5,1465.5 961.2,1473 962.5,1479.2 992.5,1479.2M1208.8,1221.8 1212.5,1225.5 1220,1233 1225,1230.5 1233.6,1223.2 1233.7,1222.8 1232.5,1213 1205,1214.2 1208.8,1221.8"/>
<path fill="none" stroke="#4f6a84" stroke-width="0.8" opacity="0.8" d="M1153.2,434.2 1158.6,443.7M1174.1,428.2 1174.8,429.2M1174.8,429.2 1171.2,441.8M1171.2,441.8 1158.6,443.7M1181.2,449.4 1177.1,460.2M1171.2,441.8 1181.2,449.4M1158.4,444.1 1160.8,466.7M1161.1,466.8 1177.1,460.2M1139.5,479.7 1133,477.4M1139.5,479.7 1147.1,470.9M1149.5,468.1 1139.2,453.4M1133,457.1 1137.6,452.9M1137.6,452.9 1139.2,453.4M1158.4,444.1 1139.2,453.4M1160.8,466.7 1149.5,468.1M1133,443.4 1137.6,452.9M1147.6,517.4 1141.1,524.1M1133,501.8 1137.1,500.8M1147.6,517.4 1146.9,513.9M1137.1,500.8 1144.3,507M1139.5,479.7 1142.2,486M1137.1,500.8 1142.2,486M1161.1,466.8 1166.4,479.8M1177.1,460.2 1183.9,470M1183.9,470 1178.9,479.1M1178.9,479.1 1166.4,479.8M1142.2,486 1148.4,487.2M1153.3,488.2 1155.2,488.6M1157.4,489 1162.3,490M1166.4,479.8 1162.3,490M1161.7,498.3 1163.3,492.9M1162.3,490 1163.3,492.9M1147.7,539.7 1148.8,540.9M1181.2,449.4 1183.5,449M1195.6,454.5 1198,455.9M1183.9,470 1186.5,469.9M1198,455.9 1196.7,466.6M1209.4,433.6 1209.7,436.3M1209.7,436.3 1192,436.5M1188.6,429 1192,436.5M1221.3,438.2 1225.3,434M1210.7,437.6 1209.7,436.3M1210.7,437.6 1221.3,438.2M1174.8,429.2 1179.4,428.3M1186.2,446.6 1192,436.5M1200.5,454.7 1198,455.9M1210.7,437.6 1209.5,442.2M1221.3,438.2 1225.5,443.8M1178.9,479.1 1188.6,491M1163.3,492.9 1179.7,497.2M1188.6,491 1179.7,497.2M1191.1,488.2 1189.1,491.1M1252.8,530.1 1253.7,532.4M1196.9,556.1 1196.3,554.2M1196.3,554.2 1190.2,555.2M1227.6,548.9 1229.2,550.5M1247.9,545.7 1248,548.6M1253.7,532.4 1249.8,535.4M1189.1,491.1 1194.3,495.5M1206.2,494.3 1194.3,495.5M1219.1,551.6 1219.5,549.5M1196.3,554.2 1198.2,550.2M1210.2,548.5 1219.5,549.5M1227.6,548.9 1220.7,548.7M1219.5,549.5 1220.7,548.7M1220.7,548.7 1218.3,532.2M1207.3,509.1 1204.9,511.8M1207.2,523.5 1204.9,511.8M1194.3,495.5 1195.5,507M1204.9,511.8 1195.5,507M1207.2,525.2 1206,526M1205.6,527.1 1206,526M1168.4,513.3 1160.9,522.2M1160.9,522.2 1162.6,527.6M1206,526 1188.5,524.2M1195.5,507 1187,513.4M1179.7,497.2 1179.2,508.5M1163.9,504.3 1168.4,513.3M1147.6,517.4 1160.9,522.2"/>
<path fill="none" stroke="#4a5866" stroke-width="1.4" stroke-linejoin="round" d="M722,331.5 722,331.8 722.2,332.6 722.4,333.4 722.7,334.6 723,335.4 723.8,336.8 725,338.3 726.4,339.8 729.8,342.7 731.4,344 733.8,345.8 735.4,346.9 737.1,348.1 738.7,349.2 741.1,351 742.7,352.2 744.8,354 746.3,355.4 748.4,357.5 749.7,358.9 751.5,361.1 752.8,362.6 754.6,365 755.8,366.6 758,369.7 758.9,371.4 759.7,374 760,376 760,379 760.3,381 761,383.7 761.7,385.5 763.3,388.2 764.4,389.9 766.2,392.2 767.5,393.7 770,396.3 771.5,397.6 773.9,399.3 775.6,400.4 778.1,401.6 779.9,402.5 782.7,403.7 784.5,404.5 789.2,406.3 791,407.2 793.4,408.7 795,410 797.5,412.5 798.9,414 800.7,415.8 801.9,417.1 802.6,417.9 803.5,419.4 804.4,421.6 804.9,423.5 805.8,431.5 806.1,433.5 806.6,436.5 807,438.4 808,442.8 808.2,444.8 808.3,447.7 808.1,449.7 806.9,456.6 806.5,458.5 805.9,461.5 805.6,463.4 804.4,469.1 804.1,471 803.6,474 803.3,476 802.5,481.5 802.1,483.5 801.3,485.9 800.6,487.6 800.1,488.6 799.1,490.1 797.4,492 795.9,493.3 792.8,495.5 791.3,496.7 789.1,498.7 787.7,500.2 784.8,503.6 783.6,505.2 782,507.7 781.1,509.5 780.1,511.8 779.4,513.6 778.2,516.4 777.5,518.3 776.2,521.7 775.7,523.6 775,526.5 774.7,528.5 774.1,534 773.6,535.9 772.5,538.5 771.5,540.2 769.7,542.3 768.3,543.7 766.1,545.7 764.5,546.9 760.5,549.4 758.7,550.3 756,551.6 754.1,552.3 748.4,554 746.4,554.6 743.6,555.6 741.7,556.2 738.3,557.5 736.5,558.4 733.9,559.8 732.2,560.9 727.8,564.1 726.1,565.2 723.6,566.7 721.8,567.5 715.7,570 713.8,570.5 711,571.1 709,571.3 696,571.7 694,571.9 691.1,572.4 689.2,573 685.8,574.3 683.9,575 681.2,576.1 679.4,576.9 678.1,577.4 676.3,577.8 673.7,578 671.9,577.7 670.6,577.3 668.8,577 666.1,576.9 664.1,577.1 660.9,577.9 659.1,578.7 657.2,580.1 655.9,581.4 655.3,582.4 654.5,584.1 653.7,586.3 653.2,588.1 653,589.4 652.6,591.2 652,593.9 651.5,595.9 649.8,601.6 649.2,603.6 648.2,606.4 647.6,608.3 644.9,615.5 644.7,617.4 645,619.9 645.6,621.7 648.1,625.8 649.3,627.4 651,629.8 652.3,631.4 655.2,634.8 656.7,636.2 658.9,638 660.6,639.1 661.9,639.7 663.4,640.9 665.1,642.9 666.1,644.6 667.6,649.2 668.2,651.1 669,654 669.4,655.9 670.6,661.6 670.8,663.5 671,666.5 671,668.5 670.3,676.5 669.9,678.5 669.2,681.3 668.4,683.1 666.6,686.9 665.7,688.6 664.3,691.3 663.3,693.1 661.7,695.9 660.7,697.7 659,700.2 657.9,701.8 654.6,706.2 653.5,707.9 651.9,710.4 650.9,712.1 649.1,715.9 648.4,717.7 647.6,720.5 647.3,722.5 646.5,733 646.2,735 645.6,737.9 645,739.8 643.7,743.2 642.8,744.9 641.1,747.1 639.6,748.5 632.9,753.2 631.1,754.2 628.5,755.3 626.6,755.9 624.7,756.3 623.1,757.3 621.9,758.7 621.2,760.5 621.2,762.5 621.9,764.3 623.1,765.6 624.7,766.5 644,769 645.7,769.9 646.8,771.2 647.5,773 647.5,779.2 646.8,781 645.7,782.1 644,782.9 624.7,783.8 623,784.3 622,784.9 621.2,785.9 621.2,786.6 620.5,787.6 619.5,788.2 617.8,788.8 613.5,789.2 611.5,789.3 608.5,789.5 606.5,789.5 604.8,789.5 603,790.2 601.7,791.3 600.8,793 600.5,795.5 600,797.5 599.2,800.3 598.4,802.1 594.1,810.9 593.1,812.6 591.4,815.1 590.2,816.6 586.1,821.4 584.9,823 583.6,825.5 582.9,827.4 580.8,835.6 580.4,837.6 579.7,840.5 579.3,842.4 577.7,850.6 577.4,852.5 577.1,855.5 577.1,857.5 577.4,870.5 577.6,872.5 578,875.4 578.3,877.4 581.7,890.6 582.2,892.5 582.9,895.4 583.5,897.4 586.5,908.1 587,910.1 587.6,913 587.8,915 588.4,920.5 588.8,922.5 589.7,925.2 590.5,927 595.7,936 596.6,937.8 597.8,940.5 598.5,942.4 600.2,948.1 600.9,950.1 601.8,952.9 602.5,954.8 603.8,958.2 604.7,960 606.2,962.4 607.5,964 615,971.5 616.4,972.9 618.6,975.1 620,976.5 630,986.5 631.5,987.9 633.7,989.9 635.2,991.2 642.3,996.8 643.7,998.2 645.6,1000.4 646.8,1002 650.7,1008.5 651.8,1010.1 653.7,1012.5 655,1014 662.5,1021.5 664,1022.9 666.2,1024.9 667.7,1026.2 677.3,1034.3 678.8,1035.5 681.2,1037.5 682.7,1038.7 692.3,1046.8 693.8,1048.1 696,1050.1 697.5,1051.5 702.5,1056.5 703.8,1058.1 705.4,1060.5 706.3,1062.2 709.9,1070.8 710.5,1072.7 711.2,1075.5 711.5,1077.5 712.2,1085.5 712.5,1087.5 713,1090.4 713.5,1092.4 715.2,1098.1 715.5,1100.1 715.4,1102.8 715,1104.8 713.7,1108.2 713.4,1110.2 713.6,1112.2 714.1,1113.8 714.7,1114.7 716,1115.8 717.8,1116.6 719.8,1117 731.5,1117 733.4,1117.4 735.8,1118.5 737.3,1119.6 743.9,1126.9 745.6,1127.8 747.1,1128.1 748.9,1127.7 749.9,1127 751.6,1126.4 753.9,1126.1 755.9,1126.2 771.6,1130.6 773.5,1131.2 776.3,1132.3 778.1,1133.2 781.9,1135.3 783.8,1136.1 786.5,1137 788.5,1137.3 791.5,1137.7 793.5,1138 796.3,1138.7 798.2,1139.3 804.3,1141.7 805.9,1142.7 808.1,1144.5 809.4,1146 811.9,1150 812.6,1151.9 813.2,1154.5 813.3,1156.5 812.9,1159.5 812.4,1161.4 811.2,1163.9 810,1165.5 807.5,1168 806.1,1169.5 804.3,1171.8 803.1,1173.5 800.6,1177.5 799.9,1179.4 799.3,1181.8 799.3,1183.7 799.5,1184.8 799.8,1186.7 800.4,1189.4 800.8,1191.4 801.7,1194.6 801.8,1196.6 801.7,1199.3 801.3,1201.3 800,1204.7 799.1,1206.5 797.7,1209.1 796.5,1210.7 794.7,1212.8 793.6,1214.4 791.9,1216.9 790.9,1218.6 789.1,1222.4 788.3,1224.2 787.3,1227 786.8,1228.9 785.7,1234.6 785.1,1236.5 784,1239.2 783.1,1240.9 781.9,1242.6 780.8,1244.3 779.2,1246.8 778.1,1248.5 775.6,1252.5 774.7,1254.3 773.5,1257 772.9,1258.9 771.4,1264.6 771,1266.6 770.7,1269.5 770.7,1271.5 771,1277 771.3,1279 771.9,1281.9 772.5,1283.8 773.8,1287.2 774.6,1289 776,1291.6 777.1,1293.3 780.4,1297.7 781.7,1299.3 783.6,1301.5 785,1303 790,1308 791.5,1309.4 793.8,1311.2 795.5,1312.4 799.5,1314.9 801.2,1316 803.8,1317.5 805.5,1318.6 809.5,1321.1 811.2,1322.3 813.5,1324.1 815,1325.5 820,1330.5 821.5,1331.9 823.7,1334 825.1,1335.3 829.9,1339.4 831.5,1340.6 834,1342.1 835.8,1343 839.2,1344.3 840.4,1345.4 840.7,1346.5 840.4,1348.1 839.6,1349.1 838.9,1350.9 838.8,1352.9 839.2,1354.8 840.8,1357.5 842,1359 844,1360.6 845.6,1361.5 846.9,1362 848.7,1362.1 851.1,1361.8 852.9,1361.1 854.6,1359.9 856.4,1359.4 858.6,1359.3 860.5,1359.9 864.5,1362.4 866.2,1363.5 868.6,1365.3 870.1,1366.6 874.9,1370.7 876.4,1372 878.8,1373.8 880.4,1374.9 882.1,1376.1 883.7,1377.3 885.8,1379.2 887.1,1380.6 887.9,1381.6 889,1383.2 890.2,1385.3 891,1386.9 891.5,1387.9 892.5,1389.3 894.1,1390.6 895.9,1391.5 897.9,1392 899.7,1392.8 902.2,1394 903.9,1395.1 904.9,1395.9 906.5,1397 908.9,1398.6 910.6,1399.6 911.9,1400.2 913.6,1401.2 914.9,1402 916,1402.8 916.5,1403.2 917,1404.5 917.3,1405.8 917.5,1407.8 917.5,1409.5 917.6,1411.5 917.9,1414.4 918.3,1416.4 919.2,1420.8 919.2,1422.8 918.8,1424.4 917.9,1425.8 917.1,1426.4 916.1,1427.8 915.4,1429.6 915,1431.5 915,1434.5 915.2,1436.5 915.7,1439.3 916.3,1441.2 918.7,1447.3 919.6,1449.1 921,1451.6 922.1,1453.3 925.4,1457.7 926.4,1459.4 927.4,1462.1 927.8,1464 928.4,1469.5 928.1,1471.4 927.1,1473.5 925.9,1475 922.8,1477.2 921.4,1478.6 919.6,1480.8 918.6,1482.5 917.6,1484.8 917.3,1486.7 917.4,1489.2 918,1491 919.5,1493.7 920.7,1495.3 922,1496.4 923.4,1497.3 924.1,1497.5 925,1498.3 925.4,1499.2 925.5,1500.6 925.2,1501.6 925.1,1503.4 925.3,1505.6 925.7,1507.5 927.5,1512.2 928.3,1514.1 929.6,1516.7 930.6,1518.5 933.1,1522.5 934.2,1524.2 935.6,1526.2 936.6,1527.6 937.2,1528.4 938,1529.9 939,1532 939.6,1533.9 940.4,1537.1 941.1,1538.9 942.5,1541.4 943.7,1543 945,1544.3 946.5,1545.6 948.8,1547.5 950.4,1548.7 952.1,1549.8 953.9,1550.4 955.2,1550.5 956.6,1550.2 957.2,1549.6 957.9,1548.2 958.1,1547 958.2,1545.4 958,1544.4 957.3,1542.8 956.2,1541.4 954.9,1540.2 953.9,1539.6 953,1538.6 952.9,1537.8 953.4,1537 954.1,1536.5 955.8,1536.2 957.1,1536.2 958.9,1536.5 959.9,1537 961.3,1538 962.9,1539.5 964.1,1541.1 965.9,1544.9 966.9,1546.6 968.6,1549.1 969.7,1550.7 971.5,1552.8 973.1,1553.9 974.3,1554.4 975.9,1554.5 976.6,1554 977.4,1552.9 977.5,1551.7 977.2,1549.9 976.6,1548.6 975.9,1546.8 975.2,1544 975,1542 975,1539 975.3,1537 976.1,1534.4 977,1532.6 981.7,1525.9 982.9,1524.2 984.7,1521.8 985.9,1520.3 991.6,1513.2 993,1511.8 995.2,1509.9 996.8,1508.8 1001.9,1505.9 1003.8,1505.2 1006.5,1504.3 1008.5,1503.8 1011.5,1503.4 1013.5,1503.3 1016.5,1503.5 1018.4,1503.7 1024.1,1504.8 1026,1505.3 1028.8,1506.3 1030.6,1507.1 1036.9,1510.2 1038.6,1511.2 1041.1,1512.7 1042.8,1513.8 1047.2,1517.2 1048.9,1518.2 1051.5,1519.4 1053.4,1520.1 1056.6,1520.9 1058.5,1521.5 1061.2,1522.7 1063,1523.6 1067,1526.1 1068.7,1527.2 1071.2,1528.9 1072.8,1530.1 1077.2,1533.4 1078.9,1534.4 1081.6,1535.4 1083.5,1535.9 1086.5,1536.3 1088.5,1536.3 1090.9,1536.1 1092.6,1535.7 1093.6,1535.3 1095,1534.2 1096.4,1532.6 1097.4,1530.9 1100.1,1522.6 1100.5,1520.6 1100.5,1517.9 1100.1,1515.9 1098.6,1511.3 1097.9,1509.5 1096.6,1506.8 1095.6,1505 1093.1,1501 1092.1,1499.2 1090.8,1496.6 1090,1494.7 1088.7,1491.3 1088.3,1489.3 1088.3,1486.6 1088.5,1484.6 1090.2,1478.9 1090.9,1477 1092.2,1474.3 1093.1,1472.5 1095.6,1468.5 1096.9,1466.9 1098.9,1464.8 1100.4,1463.6 1102.1,1462.4 1103.9,1461.8 1105.5,1461.7 1107.1,1462.1 1107.9,1462.7 1109.4,1463.3 1110.6,1463.7 1112.1,1463.7 1112.9,1463.5 1114.4,1462.9 1116.2,1462.1 1117.9,1461.1 1119.6,1459.9 1121.3,1458.9 1123.9,1457.5 1125.7,1456.7 1134.3,1453.1 1136.2,1452.5 1139,1451.8 1141,1451.5 1149,1450.8 1151,1450.6 1154,1450.1 1155.9,1449.7 1160.3,1448.8 1161.8,1447.7 1162.6,1446.4 1162.9,1444.6 1162.1,1441.4 1161.4,1439.5 1160.1,1437 1158.9,1435.4 1154.8,1430.6 1153.6,1429 1152.1,1426.5 1151.3,1424.7 1150,1421.3 1149.5,1419.3 1149.2,1416.5 1149.2,1414.5 1149.6,1411.5 1150,1409.5 1150.9,1406.8 1151.7,1405 1153.3,1402.3 1154.3,1400.6 1156.1,1398.2 1157.3,1396.6 1160.2,1393.2 1161.4,1391.5 1162.8,1389 1163.6,1387.2 1165.1,1382.6 1165.2,1380.7 1164.7,1379.1 1163.6,1377.7 1162.6,1377.1 1162,1376.1 1162.2,1375.4 1163.4,1374.5 1165.4,1374 1166.7,1373 1167.2,1372.2 1167.2,1370.9 1166.6,1370.1 1165.6,1368.7 1164.2,1366.7 1163.1,1365.1 1161.9,1363.4 1161.7,1361.8 1162.1,1360.7 1163.4,1359.7 1166.6,1358.8 1167.6,1358.1 1167.7,1357.4 1166.9,1356.4 1165.6,1355.8 1164.4,1354.7 1164,1353.8 1164.1,1352.7 1164.7,1352.1 1165.6,1350.7 1166.5,1349 1167.3,1347.1 1169,1341.4 1169.3,1339.4 1169.3,1336.7 1169,1334.8 1168.5,1333.7 1168.5,1331.8 1168.8,1330.4 1169.6,1328.9 1170.4,1328.3 1171.7,1327.2 1173.3,1325.6 1174.6,1324.1 1175.4,1323.1 1175.9,1321.5 1175.7,1320.3 1174.9,1318.9 1173.9,1318.3 1173,1317.3 1172.9,1316.6 1173.3,1315.7 1174.2,1315.3 1175.6,1314.4 1177.3,1313.2 1178.9,1312 1181.1,1310.2 1182.5,1308.8 1184.2,1306.5 1185.3,1304.9 1185.9,1303.6 1186.2,1301.8 1185.8,1300 1184.9,1298.4 1183.9,1297.6 1182.5,1296.2 1180.8,1294 1179.7,1292.4 1179.1,1291.1 1178.7,1289.2 1179,1287.1 1179.7,1285.3 1181.5,1283.2 1182.7,1281.6 1184.3,1279.4 1185.3,1277.9 1185.9,1276.9 1187.3,1275.8 1188.8,1275.3 1190.7,1275.3 1191.8,1275.7 1193.7,1275.9 1195.9,1275.7 1197.6,1275.2 1198.6,1274.6 1200,1273.3 1201.5,1271.4 1202.5,1269.7 1203.8,1266.3 1204.6,1264.5 1206.1,1261.9 1207.2,1260.3 1209,1258.2 1210.2,1256.6 1212,1254.2 1213.1,1252.5 1215.6,1248.5 1216.6,1246.7 1217.7,1244 1218.3,1242.1 1219.2,1237.7 1220,1235.8 1221,1234 1222.1,1232.7 1222.9,1232.1 1224.3,1231 1226.2,1229.6 1227.8,1228.4 1232.2,1225.1 1233.4,1223.6 1234.3,1221.4 1234.6,1219.5 1234.2,1216.5 1234.2,1214.5 1234.7,1211.7 1235.3,1209.9 1237.2,1206.1 1238.1,1204.4 1239.5,1201.7 1240.5,1200 1242,1197.3 1243.2,1195.7 1245.2,1193.7 1246.8,1192.5 1249.5,1191 1251,1189.8 1253,1187.8 1254.2,1186.2 1255.8,1183.5 1256.6,1181.7 1257.7,1179 1258.3,1177.1 1259.2,1173.9 1259.5,1171.9 1259.6,1169 1259.6,1167 1259.2,1164 1258.9,1162 1258.4,1159 1258.1,1157.1 1256.9,1151.4 1256.6,1149.5 1256.1,1146.5 1255.8,1144.5 1255.4,1141.5 1255.3,1139.5 1255.4,1137.8 1255.5,1136.3 1255.7,1135.7 1255.7,1134.2 1255.5,1132.6 1255,1130.7 1253.7,1127.3 1252.9,1125.4 1251.6,1122.8 1250.6,1121 1248.1,1117 1247.2,1115.2 1246,1112.5 1245.4,1110.6 1244.6,1107.4 1243.9,1105.6 1242.5,1103.1 1241.3,1101.5 1238.7,1099 1237.5,1097.4 1236,1095.1 1235.2,1093.3 1234.8,1092.2 1234.7,1090.3 1235.2,1088.1 1236,1086.3 1237.8,1084.2 1239,1082.7 1241,1080.3 1242.2,1078.8 1244,1076.7 1244.9,1075 1245.7,1072.5 1245.8,1070.5 1245.4,1067.5 1245.1,1065.5 1244.4,1062.6 1243.8,1060.7 1242.5,1057.3 1242.2,1055.3 1242.3,1052.8 1242.8,1050.9 1243.4,1049.6 1244.6,1048 1246.5,1046 1248,1044.8 1250.7,1043.2 1252.1,1041.9 1253.3,1039.9 1253.8,1038 1254.5,516 1254.5,514 1254.3,511 1254.2,509 1254,507.2 1253.7,505.3 1252.9,502.8 1252.2,501.1 1251.6,500.1 1250.6,498.5 1249.4,496.1 1248.4,494.4 1247.8,493.1 1246.9,491.3 1245.6,488.7 1244.7,486.9 1242.8,483.1 1242.1,481.3 1241.2,478.7 1240.7,476.9 1240.5,475.6 1240.2,473.8 1239.6,471.1 1239.2,469.1 1238.3,465.9 1237.9,464 1237.1,461 1236.7,459.1 1235.8,455.9 1235.3,454 1234.4,451.1 1233.8,449.2 1232.5,445.8 1231.9,443.9 1231.2,441 1230.8,439 1230.4,436 1230,434 1229.2,431.9 1228.4,430.4 1227.8,429.6 1226.8,428.2 1225.3,426.4 1224,424.8 1222.2,422.7 1221,421.1 1219.1,418.8 1217.9,417.2 1214.6,412.8 1213.5,411.1 1211.9,408.6 1210.9,406.9 1209.1,403.1 1208.2,401.3 1207.2,398.5 1206.5,396.6 1204.8,390.9 1204.2,388.9 1203.5,386 1203.1,384.1 1202.6,380.9 1202.4,379 1202.4,376 1202.6,374.1 1203.1,370.9 1203.5,369 1204,366.2 1204.3,364.4 1204.5,363.1 1204.9,361.3 1205.5,358.7 1206,356.9 1206.5,355.6 1206.9,353.8 1207.3,351 1207.5,349 1207.5,337.2 1206.8,335.5 1205.7,334.4 1204,333.7 728.5,330.3 726.5,330.3 725.1,330.4 723.7,330.5 723.3,330.5 722.6,330.8 722.3,331.1Z"/>
</svg>
<div class="b" style="left:411.3px;top:279.2px;width:27.8px;height:28.1px;background:#ff7c1c"></div>
<div class="t" style="left:419.8px;top:285.2px;font-size:17.5px;color:#ffd6b6">?</div>
<div class="b" style="left:1398px;top:462.3px;width:27.7px;height:27.6px;background:#ff7c1c"></div>
<div class="t" style="left:1406.6px;top:468.1px;font-size:17.5px;color:#ffd6b6">?</div>
<div class="b" style="left:405px;top:1593px;width:260px;height:21px;background:rgba(255,255,255,.55)"></div>
<!-- right panel : statewide -->
<div class="b" style="left:1448.5px;top:268.3px;width:555.5px;height:1px;background:#ededed"></div>
<div class="b" style="left:1448.5px;top:355px;width:555.5px;height:1px;background:#e6e6e6"></div>
<!-- buttons -->
<div class="b" style="left:1832.2px;top:377.9px;width:187.5px;height:64.5px;background:#009ddc"></div>
<div class="b" style="left:1830px;top:994.5px;width:190px;height:65.5px;background:#009ddc"></div>
<!-- district table -->
<div class="b" style="left:1448.5px;top:554.4px;width:555.5px;height:64.4px;background:#f5f5f5"></div>
<div class="b" style="left:1448.5px;top:683.2px;width:555.5px;height:64.4px;background:#f5f5f5"></div>
<div class="b" style="left:1448.5px;top:812.0px;width:555.5px;height:64.4px;background:#f5f5f5"></div>
<div class="b" style="left:1448.5px;top:489.3px;width:555.5px;height:1.4px;background:#d6d6d6"></div>
<div class="b" style="left:1448.5px;top:489.3px;width:433.5px;height:1.4px;background:#8f8f8f"></div>
<div class="b" style="left:1448.5px;top:926.4px;width:555.5px;height:1.3px;background:#b9b9b9"></div>
<div class="b" style="left:2007px;top:489.5px;width:23.7px;height:438px;box-sizing:border-box;border:1.3px solid #bdbdbd;background:#fff"></div>
<div class="b" style="left:2008.3px;top:490.8px;width:21.1px;height:6.5px;background:#ececec;border-bottom:1px solid #c4c4c4"></div>
<!-- leadership table -->
<div class="b" style="left:1448.5px;top:1185.5px;width:555.5px;height:77.5px;background:#f5f5f5"></div>
<div class="b" style="left:1448.5px;top:1340.5px;width:555.5px;height:77.5px;background:#f5f5f5"></div>
<div class="b" style="left:1448.5px;top:1495.5px;width:555.5px;height:77.5px;background:#f5f5f5"></div>
<div class="b" style="left:1448.5px;top:1107.2px;width:555.5px;height:1.4px;background:#d6d6d6"></div>
<div class="b" style="left:1448.5px;top:1107.2px;width:416.5px;height:1.4px;background:#8f8f8f"></div>
<div class="b" style="left:1448.5px;top:1618.4px;width:555.5px;height:1.3px;background:#b9b9b9"></div>
<div class="b" style="left:2006.7px;top:1107.5px;width:23.6px;height:512px;box-sizing:border-box;border:1.3px solid #bdbdbd;background:#fff"></div>
<div class="b" style="left:2008px;top:1108.8px;width:21px;height:167.5px;background:#ececec;border-bottom:1.3px solid #bdbdbd"></div>
<!-- logos -->
<svg class="b" style="left:160px;top:1640px" width="140" height="95" viewBox="160 1640 140 95" fill="none" stroke-width="3.5" stroke-linecap="round">
<path stroke="#f5d56b" d="M226.5,1648.5V1683"/>
<path stroke="#f5923e" d="M202,1654.5L219.3,1685M251.5,1654.8L234.5,1685"/>
<path stroke="#93e98c" d="M183.6,1673L214,1689.7M269.8,1673L239.8,1689.7"/>
<path stroke="#2fc4c1" d="M177.4,1697.4H211.3M241.6,1697.4H276.4"/>
<path stroke="#1a4b7c" d="M169.5,1707.4H214L216.5,1709.5M283.4,1707.4H239L236.5,1709.5"/>
<path stroke="#1d6a9c" d="M219,1716H235"/>
<path stroke="#1f86b7" d="M221.6,1721.7H232"/>
</svg>
<svg class="b" style="left:1610px;top:1645px" width="80" height="80" viewBox="1610 1645 80 80">
<circle cx="1638.7" cy="1664.6" r="11.4" fill="#1b9dd9"/>
<circle cx="1638.7" cy="1664.6" r="5.6" fill="none" stroke="#e9f6fc" stroke-width="1.1"/>
<circle cx="1633.4" cy="1700.3" r="15.5" fill="#50bae4"/>
<circle cx="1633.4" cy="1700.3" r="8.8" fill="none" stroke="#e9f6fc" stroke-width="1.1"/>
<path fill="#f47b2c" d="M1655.9,1662L1677,1661.4L1678.7,1668.1L1680,1675.2V1698L1680.9,1700.6L1677.3,1707.7L1675.6,1713.8L1667.7,1716.5L1664.2,1713.8L1663.3,1707.7L1658.9,1704.2L1659.8,1700.6L1654.5,1697.1L1651,1691L1649.2,1683.9L1651,1677.8L1654.5,1672.5L1659.8,1669L1658,1664.6Z"/>
<circle cx="1665.9" cy="1683.9" r="10.2" fill="none" stroke="#fde8d8" stroke-width="1.1"/>
</svg>
<div class="t sans" style="left:710.0px;top:39.3px;font-weight:700;font-size:48px;color:#0e4a78;transform:scaleX(0.9449);">High School Graduation Rate</div>
<div class="t sans" style="left:871.0px;top:100.7px;font-weight:700;font-size:27px;color:#0e4a78;">Illinois across the years</div>
<div class="t sans" style="left:283.0px;top:149.5px;font-weight:400;font-size:21.8px;color:#2b5d89;transform:scaleX(1.0745);">The High School Graduation Rate metric is the percentage of students who entered 9th grade for the first time four, five, or six years prior to the year being</div>
<div class="t sans" style="left:283.0px;top:181.8px;font-weight:400;font-size:21.8px;color:#2b5d89;transform:scaleX(1.0697);">reported.* This dashboard is filterable by school year (2017–18 through 2024–25), graduation rate (four, five, or six years), and demographics. Select one</div>
<div class="t sans" style="left:283.0px;top:213.7px;font-weight:400;font-size:21.8px;color:#2b5d89;transform:scaleX(1.0818);">or multiple districts on the map to see district trends over time. Use the ”Compare Communities” button to compare multiple Leadership Communities.</div>
<div class="t sans" style="left:156.8px;top:301.2px;font-weight:700;font-size:31.6px;color:#111111;transform:scaleX(0.9756);">Filters</div>
<div class="t sans" style="left:22.0px;top:378.7px;font-weight:700;font-size:19.3px;color:#333333;transform:scaleX(0.9429);">School Year</div>
<div class="t sans" style="left:21.2px;top:406.1px;font-weight:400;font-size:20px;color:#666666;transform:scaleX(0.9944);">2025</div>
<div class="t sans" style="left:22.0px;top:466.2px;font-weight:700;font-size:19.3px;color:#333333;transform:scaleX(0.9817);">Graduation Rate</div>
<div class="t sans" style="left:21.0px;top:493.8px;font-weight:400;font-size:20px;color:#666666;transform:scaleX(0.9922);">4-Year</div>
<div class="t sans" style="left:22.0px;top:554.4px;font-weight:700;font-size:19.3px;color:#333333;transform:scaleX(0.9519);">Demographics</div>
<div class="t sans" style="left:21.0px;top:581.3px;font-weight:400;font-size:20px;color:#666666;transform:scaleX(1.0165);">All Students</div>
<div class="t sans" style="left:22.0px;top:646.2px;font-weight:700;font-size:19.3px;color:#333333;transform:scaleX(0.9559);">High School Graduation Rate</div>
<div class="t sans" style="left:24.0px;top:677.6px;font-weight:400;font-size:20px;color:#666666;transform:scaleX(0.9838);">56.7%</div>
<div class="t sans" style="left:312.8px;top:677.6px;font-weight:400;font-size:20px;color:#666666;transform:scaleX(0.9949);">100.0%</div>
<div class="t sans" style="left:1513.7px;top:297.8px;font-weight:400;font-size:32px;color:#f5893b;transform:scaleX(1.0614);">*Illinois Statewide</div>
<div class="t sans" style="left:1836.9px;top:294.6px;font-weight:700;font-size:39px;color:#f7923d;transform:scaleX(1.0489);">89.0%</div>
<div class="t sans" style="left:1457.5px;top:378.5px;font-weight:700;font-size:19.3px;color:#333333;transform:scaleX(1.0085);">District</div>
<div class="t sans" style="left:1452.8px;top:405.9px;font-weight:400;font-size:20px;color:#666666;transform:scaleX(1.0074);">All</div>
<div class="t sans" style="left:1879.3px;top:387.3px;font-weight:700;font-size:20.5px;color:#e9f6fc;transform:scaleX(0.8570);">COMPARE</div>
<div class="t sans" style="left:1879.0px;top:412.0px;font-weight:700;font-size:20.5px;color:#e9f6fc;transform:scaleX(0.8641);">DISTRICTS</div>
<div class="t sans" style="left:1458.3px;top:468.6px;font-weight:700;font-size:19.3px;color:#333333;transform:scaleX(1.0085);">District</div>
<div class="t sans" style="left:1458.3px;top:515.1px;font-weight:400;font-size:20px;color:#5e5e5e;transform:scaleX(0.9274);">A-C Central CUSD 262</div>
<div class="t sans" style="left:1907.6px;top:512.1px;font-weight:400;font-size:23.5px;color:#1d4d7b;transform:scaleX(1.0444);-webkit-text-stroke:0.35px #1d4d7b;">92.9%</div>
<div class="t sans" style="left:1458.3px;top:579.5px;font-weight:400;font-size:20px;color:#5e5e5e;transform:scaleX(0.9564);">Abingdon-Avon CUSD 276</div>
<div class="t sans" style="left:1907.6px;top:576.5px;font-weight:400;font-size:23.5px;color:#1d4d7b;transform:scaleX(1.0444);-webkit-text-stroke:0.35px #1d4d7b;">88.3%</div>
<div class="t sans" style="left:1458.3px;top:643.9px;font-weight:400;font-size:20px;color:#5e5e5e;transform:scaleX(0.9610);">ACE Amandla Charter School</div>
<div class="t sans" style="left:1907.6px;top:640.9px;font-weight:400;font-size:23.5px;color:#1d4d7b;transform:scaleX(1.0444);-webkit-text-stroke:0.35px #1d4d7b;">86.8%</div>
<div class="t sans" style="left:1458.3px;top:708.3px;font-weight:400;font-size:20px;color:#5e5e5e;transform:scaleX(0.9586);">Adlai E Stevenson HSD 125</div>
<div class="t sans" style="left:1907.6px;top:705.3px;font-weight:400;font-size:23.5px;color:#1d4d7b;transform:scaleX(1.0444);-webkit-text-stroke:0.35px #1d4d7b;">95.0%</div>
<div class="t sans" style="left:1458.3px;top:772.7px;font-weight:400;font-size:20px;color:#5e5e5e;transform:scaleX(0.9577);">Alden Hebron SD 19</div>
<div class="t sans" style="left:1901.2px;top:769.7px;font-weight:400;font-size:23.5px;color:#1d4d7b;transform:scaleX(1.0351);-webkit-text-stroke:0.35px #1d4d7b;">100.0%</div>
<div class="t sans" style="left:1458.3px;top:837.1px;font-weight:400;font-size:20px;color:#5e5e5e;transform:scaleX(0.9700);">Altamont CUSD 10</div>
<div class="t sans" style="left:1907.6px;top:834.1px;font-weight:400;font-size:23.5px;color:#1d4d7b;transform:scaleX(1.0444);-webkit-text-stroke:0.35px #1d4d7b;">90.4%</div>
<div class="t sans" style="left:1458.3px;top:901.5px;font-weight:400;font-size:20px;color:#5e5e5e;transform:scaleX(0.9520);">Alton CUSD 11</div>
<div class="t sans" style="left:1907.6px;top:898.5px;font-weight:400;font-size:23.5px;color:#1d4d7b;transform:scaleX(1.0444);-webkit-text-stroke:0.35px #1d4d7b;">76.4%</div>
<div class="t sans" style="left:1457.5px;top:995.7px;font-weight:700;font-size:19.3px;color:#333333;transform:scaleX(0.9530);">Leadership Community</div>
<div class="t sans" style="left:1453.0px;top:1022.6px;font-weight:400;font-size:20px;color:#666666;transform:scaleX(1.0074);">All</div>
<div class="t sans" style="left:1879.6px;top:1003.6px;font-weight:700;font-size:20.5px;color:#e9f6fc;transform:scaleX(0.8580);">COMPARE</div>
<div class="t sans" style="left:1859.0px;top:1028.9px;font-weight:700;font-size:20.5px;color:#e9f6fc;transform:scaleX(0.8965);">COMMUNITIES</div>
<div class="t sans" style="left:1458.4px;top:1086.0px;font-weight:700;font-size:19.3px;color:#333333;transform:scaleX(0.9530);">Leadership Community</div>
<div class="t sans" style="left:1458.4px;top:1138.0px;font-weight:400;font-size:20px;color:#5e5e5e;transform:scaleX(0.9901);">Not in Success Network</div>
<div class="t sans" style="left:1898.9px;top:1136.5px;font-weight:400;font-size:23.5px;color:#1d4d7b;transform:scaleX(1.0324);-webkit-text-stroke:0.35px #1d4d7b;">90.8%</div>
<div class="t sans" style="left:1458.4px;top:1215.5px;font-weight:400;font-size:20px;color:#5e5e5e;transform:scaleX(1.0132);">Aurora Regional Pathways to Prosperity</div>
<div class="t sans" style="left:1898.9px;top:1214.0px;font-weight:400;font-size:23.5px;color:#1d4d7b;transform:scaleX(1.0324);-webkit-text-stroke:0.35px #1d4d7b;">93.2%</div>
<div class="t sans" style="left:1458.4px;top:1293.0px;font-weight:400;font-size:20px;color:#5e5e5e;transform:scaleX(0.9846);">Black Hawk Region Pathways</div>
<div class="t sans" style="left:1898.9px;top:1291.5px;font-weight:400;font-size:23.5px;color:#1d4d7b;transform:scaleX(1.0324);-webkit-text-stroke:0.35px #1d4d7b;">85.8%</div>
<div class="t sans" style="left:1458.4px;top:1370.5px;font-weight:400;font-size:20px;color:#5e5e5e;transform:scaleX(0.9703);">Boone County</div>
<div class="t sans" style="left:1898.9px;top:1369.0px;font-weight:400;font-size:23.5px;color:#1d4d7b;transform:scaleX(1.0324);-webkit-text-stroke:0.35px #1d4d7b;">89.2%</div>
<div class="t sans" style="left:1458.4px;top:1448.0px;font-weight:400;font-size:20px;color:#5e5e5e;transform:scaleX(0.9480);">Chicago Public Schools &amp; Enlace Chicago</div>
<div class="t sans" style="left:1898.9px;top:1446.5px;font-weight:400;font-size:23.5px;color:#1d4d7b;transform:scaleX(1.0324);-webkit-text-stroke:0.35px #1d4d7b;">82.5%</div>
<div class="t sans" style="left:1458.4px;top:1513.9px;font-weight:400;font-size:20px;color:#5e5e5e;transform:scaleX(1.0031);">Chicago Southland Collaborative for</div>
<div class="t sans" style="left:1458.4px;top:1541.9px;font-weight:400;font-size:20px;color:#5e5e5e;transform:scaleX(1.0071);">Education</div>
<div class="t sans" style="left:1898.9px;top:1525.1px;font-weight:400;font-size:23.5px;color:#1d4d7b;transform:scaleX(1.0324);-webkit-text-stroke:0.35px #1d4d7b;">91.7%</div>
<div class="t sans" style="left:1458.4px;top:1596.6px;font-weight:400;font-size:20px;color:#5e5e5e;">East St Louis District 189</div>
<div class="t sans" style="left:1898.9px;top:1603.1px;font-weight:400;font-size:23.5px;color:#1d4d7b;transform:scaleX(1.0324);-webkit-text-stroke:0.35px #1d4d7b;">84.5%</div>
<div class="t sans" style="left:410.0px;top:1597.1px;font-weight:400;font-size:16px;color:#555555;transform:scaleX(1.0112);">© 2026 Mapbox © OpenStreetMap</div>
<div class="t sans" style="left:1031.7px;top:1629.2px;font-weight:400;font-size:17.5px;color:#8a8a8a;transform:scaleX(1.0927);">*Learn more at isbe.net/accountabilityindicators</div>
<div class="t sans" style="left:38.3px;top:1674.0px;font-weight:700;font-size:21px;color:#222222;transform:scaleX(0.8713);">Powered by</div>
<div class="t sans" style="left:301.5px;top:1695.6px;font-weight:400;font-size:11.6px;color:#8a8a8a;transform:scaleX(0.9798);">EDUCATION SYSTEMS CENTER at</div>
<div class="t sans" style="left:301.5px;top:1709.4px;font-weight:400;font-size:11.6px;color:#8a8a8a;transform:scaleX(0.9752);">NORTHERN ILLINOIS UNIVERSITY</div>
<div class="t serif" style="left:1687.9px;top:1663.1px;font-weight:700;font-size:16.4px;color:#2aa0d8;transform:scaleX(0.9007);">ILLINOIS EDUCATION AND CAREER</div>
<div class="t sans" style="left:1688.0px;top:1683.3px;font-weight:700;font-size:24.2px;color:#f47a2a;transform:scaleX(1.0498);">SUCCESS NETWORK</div>
<div class="t sans" style="left:301.5px;top:1646.4px;font-weight:700;font-size:37.5px;color:#0b7bb6;transform:scaleX(0.9077);">Ed</div>
<div class="t sans" style="left:346.5px;top:1646.4px;font-weight:400;font-size:37.5px;color:#1a5b8c;transform:scaleX(0.9876);">Systems</div>
<div class="b" style="left:1447px;top:1619.7px;width:558px;height:14px;background:#fff"></div>
<div class="b" style="left:1448.5px;top:1618.4px;width:555.5px;height:1.3px;background:#b9b9b9"></div>
</body></html>
